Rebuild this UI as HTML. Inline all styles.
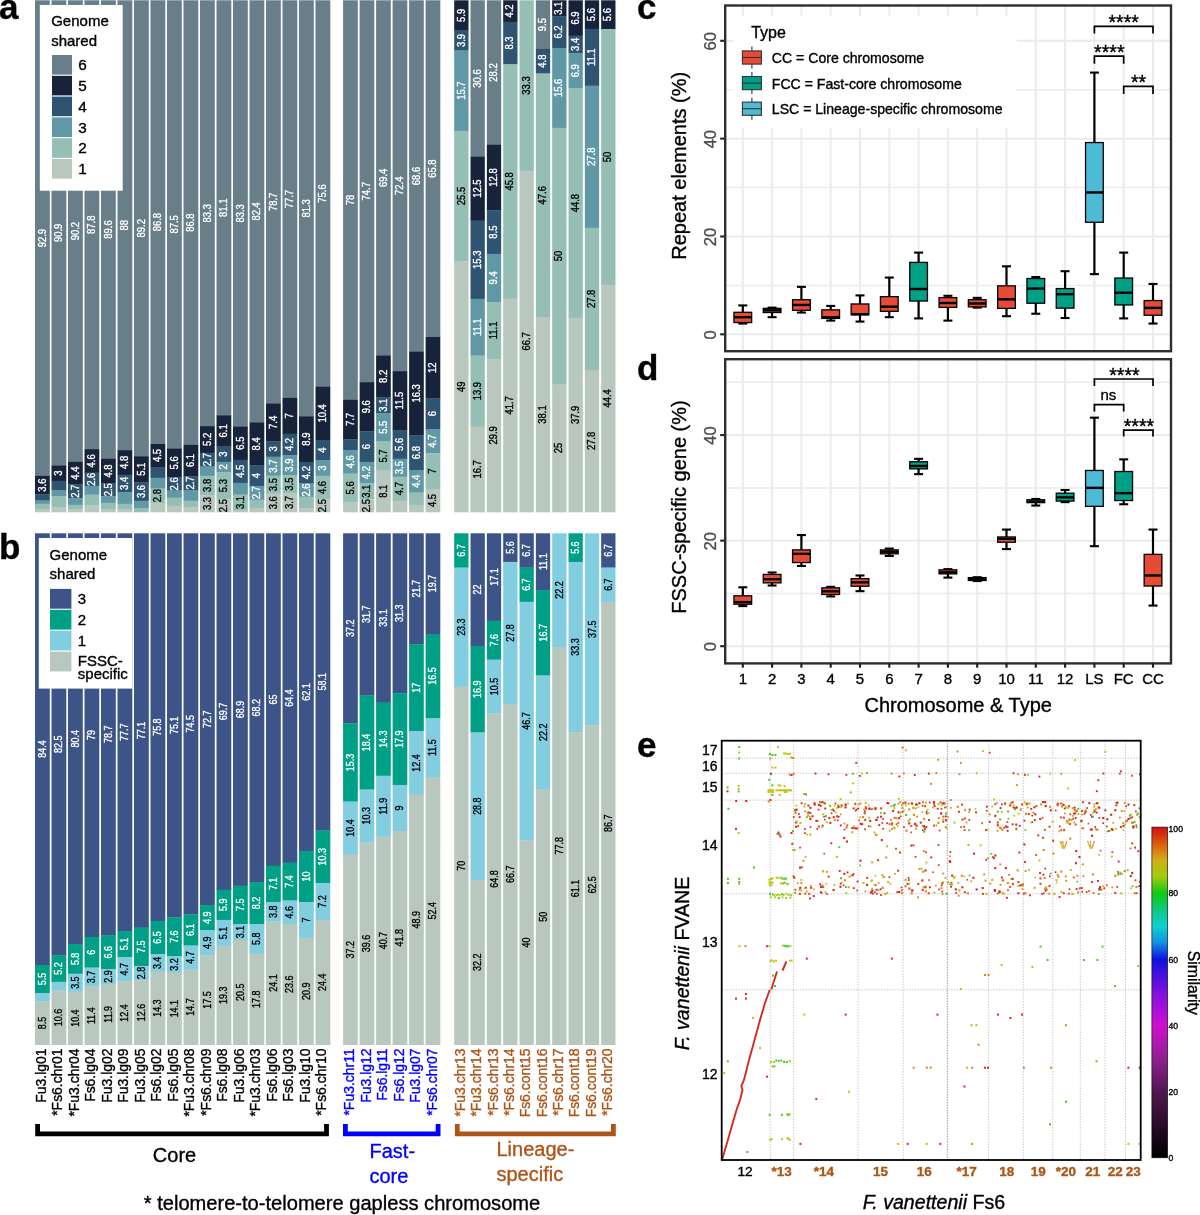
<!DOCTYPE html><html><head><meta charset="utf-8"><style>html,body{margin:0;padding:0;background:#fff;}svg{display:block;will-change:transform;}text{font-family:"Liberation Sans", sans-serif;}</style></head><body>
<svg width="1200" height="1215" viewBox="0 0 1200 1215">
<rect x="0" y="0" width="1200" height="1215" fill="#fff"/>
<rect x="35" y="0.3" width="14.8" height="475.91" fill="#687e89"/>
<rect x="35" y="475.91" width="14.8" height="18.73" fill="#16233a"/>
<rect x="35" y="494.34" width="14.8" height="6.44" fill="#2f5472"/>
<rect x="35" y="500.48" width="14.8" height="3.63" fill="#6198a6"/>
<rect x="35" y="503.81" width="14.8" height="5.42" fill="#95bfb4"/>
<rect x="35" y="508.93" width="14.8" height="3.37" fill="#b8c8be"/>
<rect x="51.5" y="0.3" width="14.8" height="465.44" fill="#687e89"/>
<rect x="51.5" y="465.44" width="14.8" height="15.65" fill="#16233a"/>
<rect x="51.5" y="480.79" width="14.8" height="9.51" fill="#2f5472"/>
<rect x="51.5" y="490" width="14.8" height="6.44" fill="#6198a6"/>
<rect x="51.5" y="496.14" width="14.8" height="11.05" fill="#95bfb4"/>
<rect x="51.5" y="506.88" width="14.8" height="5.42" fill="#b8c8be"/>
<rect x="68" y="0.3" width="14.8" height="461.85" fill="#687e89"/>
<rect x="68" y="461.85" width="14.8" height="22.81" fill="#16233a"/>
<rect x="68" y="484.37" width="14.8" height="14.12" fill="#2f5472"/>
<rect x="68" y="498.18" width="14.8" height="6.95" fill="#6198a6"/>
<rect x="68" y="504.84" width="14.8" height="4.39" fill="#95bfb4"/>
<rect x="68" y="508.93" width="14.8" height="3.37" fill="#b8c8be"/>
<rect x="84.5" y="0.3" width="14.8" height="449.12" fill="#687e89"/>
<rect x="84.5" y="449.12" width="14.8" height="23.81" fill="#16233a"/>
<rect x="84.5" y="472.64" width="14.8" height="13.59" fill="#2f5472"/>
<rect x="84.5" y="485.93" width="14.8" height="8.99" fill="#6198a6"/>
<rect x="84.5" y="494.62" width="14.8" height="10.52" fill="#95bfb4"/>
<rect x="84.5" y="504.84" width="14.8" height="7.46" fill="#b8c8be"/>
<rect x="101" y="0.3" width="14.8" height="458.78" fill="#687e89"/>
<rect x="101" y="458.78" width="14.8" height="24.86" fill="#16233a"/>
<rect x="101" y="483.34" width="14.8" height="13.09" fill="#2f5472"/>
<rect x="101" y="496.14" width="14.8" height="6.95" fill="#6198a6"/>
<rect x="101" y="502.79" width="14.8" height="6.44" fill="#95bfb4"/>
<rect x="101" y="508.93" width="14.8" height="3.37" fill="#b8c8be"/>
<rect x="117.5" y="0.3" width="14.8" height="450.15" fill="#687e89"/>
<rect x="117.5" y="450.15" width="14.8" height="24.84" fill="#16233a"/>
<rect x="117.5" y="474.68" width="14.8" height="17.68" fill="#2f5472"/>
<rect x="117.5" y="492.06" width="14.8" height="12.06" fill="#6198a6"/>
<rect x="117.5" y="503.82" width="14.8" height="5.41" fill="#95bfb4"/>
<rect x="117.5" y="508.93" width="14.8" height="3.37" fill="#b8c8be"/>
<rect x="134" y="0.3" width="14.8" height="456.28" fill="#687e89"/>
<rect x="134" y="456.28" width="14.8" height="26.37" fill="#16233a"/>
<rect x="134" y="482.35" width="14.8" height="18.7" fill="#2f5472"/>
<rect x="134" y="500.75" width="14.8" height="7.46" fill="#6198a6"/>
<rect x="134" y="507.91" width="14.8" height="4.39" fill="#95bfb4"/>
<rect x="150.5" y="0.3" width="14.8" height="444.01" fill="#687e89"/>
<rect x="150.5" y="444.01" width="14.8" height="23.3" fill="#16233a"/>
<rect x="150.5" y="467.02" width="14.8" height="11.03" fill="#2f5472"/>
<rect x="150.5" y="477.75" width="14.8" height="11.03" fill="#6198a6"/>
<rect x="150.5" y="488.49" width="14.8" height="14.61" fill="#95bfb4"/>
<rect x="150.5" y="502.8" width="14.8" height="9.5" fill="#b8c8be"/>
<rect x="167" y="0.3" width="14.8" height="448.49" fill="#687e89"/>
<rect x="167" y="448.49" width="14.8" height="28.98" fill="#16233a"/>
<rect x="167" y="477.17" width="14.8" height="13.62" fill="#2f5472"/>
<rect x="167" y="490.49" width="14.8" height="7.47" fill="#6198a6"/>
<rect x="167" y="497.66" width="14.8" height="8.5" fill="#95bfb4"/>
<rect x="167" y="505.85" width="14.8" height="6.45" fill="#b8c8be"/>
<rect x="183.5" y="0.3" width="14.8" height="444.9" fill="#687e89"/>
<rect x="183.5" y="444.9" width="14.8" height="31.54" fill="#16233a"/>
<rect x="183.5" y="476.15" width="14.8" height="14.13" fill="#2f5472"/>
<rect x="183.5" y="489.97" width="14.8" height="11.06" fill="#6198a6"/>
<rect x="183.5" y="500.73" width="14.8" height="6.45" fill="#95bfb4"/>
<rect x="183.5" y="506.88" width="14.8" height="5.42" fill="#b8c8be"/>
<rect x="200" y="0.3" width="14.8" height="426.12" fill="#687e89"/>
<rect x="200" y="426.12" width="14.8" height="26.88" fill="#16233a"/>
<rect x="200" y="452.7" width="14.8" height="14.1" fill="#2f5472"/>
<rect x="200" y="466.5" width="14.8" height="9.5" fill="#6198a6"/>
<rect x="200" y="475.71" width="14.8" height="19.73" fill="#95bfb4"/>
<rect x="200" y="495.13" width="14.8" height="17.17" fill="#b8c8be"/>
<rect x="216.5" y="0.3" width="14.8" height="415.29" fill="#687e89"/>
<rect x="216.5" y="415.29" width="14.8" height="31.51" fill="#16233a"/>
<rect x="216.5" y="446.5" width="14.8" height="15.65" fill="#2f5472"/>
<rect x="216.5" y="461.85" width="14.8" height="10.53" fill="#6198a6"/>
<rect x="216.5" y="472.09" width="14.8" height="27.42" fill="#95bfb4"/>
<rect x="216.5" y="499.21" width="14.8" height="13.09" fill="#b8c8be"/>
<rect x="233" y="0.3" width="14.8" height="426.55" fill="#687e89"/>
<rect x="233" y="426.55" width="14.8" height="33.56" fill="#16233a"/>
<rect x="233" y="459.81" width="14.8" height="23.33" fill="#2f5472"/>
<rect x="233" y="482.83" width="14.8" height="12.07" fill="#6198a6"/>
<rect x="233" y="494.6" width="14.8" height="16.16" fill="#95bfb4"/>
<rect x="233" y="510.46" width="14.8" height="1.84" fill="#b8c8be"/>
<rect x="249.5" y="0.3" width="14.8" height="422.36" fill="#687e89"/>
<rect x="249.5" y="422.36" width="14.8" height="43.33" fill="#16233a"/>
<rect x="249.5" y="465.39" width="14.8" height="20.79" fill="#2f5472"/>
<rect x="249.5" y="485.88" width="14.8" height="14.13" fill="#6198a6"/>
<rect x="249.5" y="499.71" width="14.8" height="8.5" fill="#95bfb4"/>
<rect x="249.5" y="507.9" width="14.8" height="4.4" fill="#b8c8be"/>
<rect x="266" y="0.3" width="14.8" height="403.41" fill="#687e89"/>
<rect x="266" y="403.41" width="14.8" height="38.2" fill="#16233a"/>
<rect x="266" y="441.31" width="14.8" height="15.67" fill="#2f5472"/>
<rect x="266" y="456.68" width="14.8" height="19.25" fill="#6198a6"/>
<rect x="266" y="475.63" width="14.8" height="18.23" fill="#95bfb4"/>
<rect x="266" y="493.56" width="14.8" height="18.74" fill="#b8c8be"/>
<rect x="282.5" y="0.3" width="14.8" height="397.89" fill="#687e89"/>
<rect x="282.5" y="397.89" width="14.8" height="36.12" fill="#16233a"/>
<rect x="282.5" y="433.71" width="14.8" height="21.79" fill="#2f5472"/>
<rect x="282.5" y="455.2" width="14.8" height="20.26" fill="#6198a6"/>
<rect x="282.5" y="475.16" width="14.8" height="18.21" fill="#95bfb4"/>
<rect x="282.5" y="493.07" width="14.8" height="19.23" fill="#b8c8be"/>
<rect x="299" y="0.3" width="14.8" height="416.31" fill="#687e89"/>
<rect x="299" y="416.31" width="14.8" height="45.84" fill="#16233a"/>
<rect x="299" y="461.85" width="14.8" height="21.79" fill="#2f5472"/>
<rect x="299" y="483.34" width="14.8" height="13.6" fill="#6198a6"/>
<rect x="299" y="496.65" width="14.8" height="12.07" fill="#95bfb4"/>
<rect x="299" y="508.42" width="14.8" height="3.88" fill="#b8c8be"/>
<rect x="315.5" y="0.3" width="14.8" height="386.76" fill="#687e89"/>
<rect x="315.5" y="386.76" width="14.8" height="53.46" fill="#16233a"/>
<rect x="315.5" y="439.92" width="14.8" height="20.75" fill="#2f5472"/>
<rect x="315.5" y="460.37" width="14.8" height="15.64" fill="#6198a6"/>
<rect x="315.5" y="475.71" width="14.8" height="23.81" fill="#95bfb4"/>
<rect x="315.5" y="499.22" width="14.8" height="13.08" fill="#b8c8be"/>
<rect x="343.1" y="0.3" width="14.7" height="399.83" fill="#687e89"/>
<rect x="343.1" y="399.83" width="14.7" height="39.74" fill="#16233a"/>
<rect x="343.1" y="439.27" width="14.7" height="11.06" fill="#2f5472"/>
<rect x="343.1" y="450.02" width="14.7" height="23.86" fill="#6198a6"/>
<rect x="343.1" y="473.58" width="14.7" height="28.98" fill="#95bfb4"/>
<rect x="343.1" y="502.27" width="14.7" height="10.03" fill="#b8c8be"/>
<rect x="359.6" y="0.3" width="14.7" height="382.16" fill="#687e89"/>
<rect x="359.6" y="382.16" width="14.7" height="49.37" fill="#16233a"/>
<rect x="359.6" y="431.23" width="14.7" height="30.97" fill="#2f5472"/>
<rect x="359.6" y="461.9" width="14.7" height="21.77" fill="#6198a6"/>
<rect x="359.6" y="483.37" width="14.7" height="16.15" fill="#95bfb4"/>
<rect x="359.6" y="499.22" width="14.7" height="13.08" fill="#b8c8be"/>
<rect x="376.1" y="0.3" width="14.7" height="355.42" fill="#687e89"/>
<rect x="376.1" y="355.42" width="14.7" height="42.26" fill="#16233a"/>
<rect x="376.1" y="397.38" width="14.7" height="16.16" fill="#2f5472"/>
<rect x="376.1" y="413.24" width="14.7" height="28.44" fill="#6198a6"/>
<rect x="376.1" y="441.39" width="14.7" height="29.47" fill="#95bfb4"/>
<rect x="376.1" y="470.55" width="14.7" height="41.75" fill="#b8c8be"/>
<rect x="392.6" y="0.3" width="14.7" height="371.14" fill="#687e89"/>
<rect x="392.6" y="371.14" width="14.7" height="59.2" fill="#16233a"/>
<rect x="392.6" y="430.05" width="14.7" height="28.98" fill="#2f5472"/>
<rect x="392.6" y="458.73" width="14.7" height="18.23" fill="#6198a6"/>
<rect x="392.6" y="476.66" width="14.7" height="24.37" fill="#95bfb4"/>
<rect x="392.6" y="500.73" width="14.7" height="11.57" fill="#b8c8be"/>
<rect x="409.1" y="0.3" width="14.7" height="351.68" fill="#687e89"/>
<rect x="409.1" y="351.68" width="14.7" height="83.79" fill="#16233a"/>
<rect x="409.1" y="435.17" width="14.7" height="35.13" fill="#2f5472"/>
<rect x="409.1" y="470" width="14.7" height="22.84" fill="#6198a6"/>
<rect x="409.1" y="492.54" width="14.7" height="12.59" fill="#95bfb4"/>
<rect x="409.1" y="504.83" width="14.7" height="7.47" fill="#b8c8be"/>
<rect x="425.6" y="0.3" width="14.7" height="337" fill="#687e89"/>
<rect x="425.6" y="337" width="14.7" height="61.7" fill="#16233a"/>
<rect x="425.6" y="398.4" width="14.7" height="31" fill="#2f5472"/>
<rect x="425.6" y="429.1" width="14.7" height="24.35" fill="#6198a6"/>
<rect x="425.6" y="453.15" width="14.7" height="36.12" fill="#95bfb4"/>
<rect x="425.6" y="488.97" width="14.7" height="23.33" fill="#b8c8be"/>
<rect x="454.2" y="0.3" width="14.3" height="30.49" fill="#16233a"/>
<rect x="454.2" y="30.49" width="14.3" height="20.26" fill="#2f5472"/>
<rect x="454.2" y="50.45" width="14.3" height="80.64" fill="#6198a6"/>
<rect x="454.2" y="130.78" width="14.3" height="130.78" fill="#95bfb4"/>
<rect x="454.2" y="261.27" width="14.3" height="251.03" fill="#b8c8be"/>
<rect x="470.53" y="0.3" width="14.3" height="156.72" fill="#687e89"/>
<rect x="470.53" y="156.72" width="14.3" height="64.2" fill="#16233a"/>
<rect x="470.53" y="220.62" width="14.3" height="78.51" fill="#2f5472"/>
<rect x="470.53" y="298.83" width="14.3" height="57.04" fill="#6198a6"/>
<rect x="470.53" y="355.58" width="14.3" height="71.36" fill="#95bfb4"/>
<rect x="470.53" y="426.63" width="14.3" height="85.67" fill="#b8c8be"/>
<rect x="486.86" y="0.3" width="14.3" height="144.74" fill="#687e89"/>
<rect x="486.86" y="144.74" width="14.3" height="65.86" fill="#16233a"/>
<rect x="486.86" y="210.31" width="14.3" height="43.84" fill="#2f5472"/>
<rect x="486.86" y="253.85" width="14.3" height="48.45" fill="#6198a6"/>
<rect x="486.86" y="301.99" width="14.3" height="57.16" fill="#95bfb4"/>
<rect x="486.86" y="358.85" width="14.3" height="153.45" fill="#b8c8be"/>
<rect x="503.19" y="0.3" width="14.3" height="21.79" fill="#16233a"/>
<rect x="503.19" y="21.79" width="14.3" height="42.77" fill="#2f5472"/>
<rect x="503.19" y="64.26" width="14.3" height="234.66" fill="#95bfb4"/>
<rect x="503.19" y="298.62" width="14.3" height="213.68" fill="#b8c8be"/>
<rect x="519.52" y="0.3" width="14.3" height="170.7" fill="#95bfb4"/>
<rect x="519.52" y="170.7" width="14.3" height="341.6" fill="#b8c8be"/>
<rect x="535.85" y="0.3" width="14.3" height="48.91" fill="#687e89"/>
<rect x="535.85" y="48.91" width="14.3" height="24.86" fill="#2f5472"/>
<rect x="535.85" y="73.47" width="14.3" height="243.87" fill="#95bfb4"/>
<rect x="535.85" y="317.04" width="14.3" height="195.26" fill="#b8c8be"/>
<rect x="552.18" y="0.3" width="14.3" height="16.18" fill="#16233a"/>
<rect x="552.18" y="16.18" width="14.3" height="32.06" fill="#2f5472"/>
<rect x="552.18" y="47.94" width="14.3" height="80.21" fill="#6198a6"/>
<rect x="552.18" y="127.84" width="14.3" height="256.41" fill="#95bfb4"/>
<rect x="552.18" y="383.95" width="14.3" height="128.35" fill="#b8c8be"/>
<rect x="568.51" y="0.3" width="14.3" height="35.64" fill="#16233a"/>
<rect x="568.51" y="35.64" width="14.3" height="17.72" fill="#2f5472"/>
<rect x="568.51" y="53.06" width="14.3" height="35.64" fill="#6198a6"/>
<rect x="568.51" y="88.4" width="14.3" height="229.77" fill="#95bfb4"/>
<rect x="568.51" y="317.87" width="14.3" height="194.43" fill="#b8c8be"/>
<rect x="584.84" y="0.3" width="14.3" height="28.93" fill="#16233a"/>
<rect x="584.84" y="28.93" width="14.3" height="57.04" fill="#2f5472"/>
<rect x="584.84" y="85.67" width="14.3" height="142.41" fill="#6198a6"/>
<rect x="584.84" y="227.78" width="14.3" height="142.41" fill="#95bfb4"/>
<rect x="584.84" y="369.89" width="14.3" height="142.41" fill="#b8c8be"/>
<rect x="601.17" y="0.3" width="14.3" height="28.96" fill="#16233a"/>
<rect x="601.17" y="28.96" width="14.3" height="256.15" fill="#95bfb4"/>
<rect x="601.17" y="284.81" width="14.3" height="227.49" fill="#b8c8be"/>
<text transform="translate(45.55,238.1) rotate(-90) scale(0.9,1)" font-size="10.5" fill="#fff" text-anchor="middle" stroke="#fff" stroke-width="0.35">92.9</text>
<text transform="translate(45.55,485.12) rotate(-90) scale(0.9,1)" font-size="10.5" fill="#fff" text-anchor="middle" stroke="#fff" stroke-width="0.35">3.6</text>
<text transform="translate(62.05,232.87) rotate(-90) scale(0.9,1)" font-size="10.5" fill="#fff" text-anchor="middle" stroke="#fff" stroke-width="0.35">90.9</text>
<text transform="translate(62.05,473.11) rotate(-90) scale(0.9,1)" font-size="10.5" fill="#fff" text-anchor="middle" stroke="#fff" stroke-width="0.35">3</text>
<text transform="translate(78.55,231.08) rotate(-90) scale(0.9,1)" font-size="10.5" fill="#fff" text-anchor="middle" stroke="#fff" stroke-width="0.35">90.2</text>
<text transform="translate(78.55,473.11) rotate(-90) scale(0.9,1)" font-size="10.5" fill="#fff" text-anchor="middle" stroke="#fff" stroke-width="0.35">4.4</text>
<text transform="translate(78.55,491.28) rotate(-90) scale(0.9,1)" font-size="10.5" fill="#fff" text-anchor="middle" stroke="#fff" stroke-width="0.35">2.7</text>
<text transform="translate(95.05,224.71) rotate(-90) scale(0.9,1)" font-size="10.5" fill="#fff" text-anchor="middle" stroke="#fff" stroke-width="0.35">87.8</text>
<text transform="translate(95.05,460.88) rotate(-90) scale(0.9,1)" font-size="10.5" fill="#fff" text-anchor="middle" stroke="#fff" stroke-width="0.35">4.6</text>
<text transform="translate(95.05,479.28) rotate(-90) scale(0.9,1)" font-size="10.5" fill="#fff" text-anchor="middle" stroke="#fff" stroke-width="0.35">2.6</text>
<text transform="translate(111.55,229.54) rotate(-90) scale(0.9,1)" font-size="10.5" fill="#fff" text-anchor="middle" stroke="#fff" stroke-width="0.35">89.6</text>
<text transform="translate(111.55,471.06) rotate(-90) scale(0.9,1)" font-size="10.5" fill="#fff" text-anchor="middle" stroke="#fff" stroke-width="0.35">4.8</text>
<text transform="translate(111.55,489.74) rotate(-90) scale(0.9,1)" font-size="10.5" fill="#fff" text-anchor="middle" stroke="#fff" stroke-width="0.35">2.5</text>
<text transform="translate(128.05,225.22) rotate(-90) scale(0.9,1)" font-size="10.5" fill="#fff" text-anchor="middle" stroke="#fff" stroke-width="0.35">88</text>
<text transform="translate(128.05,462.41) rotate(-90) scale(0.9,1)" font-size="10.5" fill="#fff" text-anchor="middle" stroke="#fff" stroke-width="0.35">4.8</text>
<text transform="translate(128.05,483.37) rotate(-90) scale(0.9,1)" font-size="10.5" fill="#fff" text-anchor="middle" stroke="#fff" stroke-width="0.35">3.4</text>
<text transform="translate(144.55,228.29) rotate(-90) scale(0.9,1)" font-size="10.5" fill="#fff" text-anchor="middle" stroke="#fff" stroke-width="0.35">89.2</text>
<text transform="translate(144.55,469.32) rotate(-90) scale(0.9,1)" font-size="10.5" fill="#fff" text-anchor="middle" stroke="#fff" stroke-width="0.35">5.1</text>
<text transform="translate(144.55,491.55) rotate(-90) scale(0.9,1)" font-size="10.5" fill="#fff" text-anchor="middle" stroke="#fff" stroke-width="0.35">3.6</text>
<text transform="translate(161.05,222.16) rotate(-90) scale(0.9,1)" font-size="10.5" fill="#fff" text-anchor="middle" stroke="#fff" stroke-width="0.35">86.8</text>
<text transform="translate(161.05,455.51) rotate(-90) scale(0.9,1)" font-size="10.5" fill="#fff" text-anchor="middle" stroke="#fff" stroke-width="0.35">4.5</text>
<text transform="translate(161.05,495.64) rotate(-90) scale(0.9,1)" font-size="10.5" fill="#000" text-anchor="middle" stroke="#000" stroke-width="0.35">2.8</text>
<text transform="translate(177.55,224.39) rotate(-90) scale(0.9,1)" font-size="10.5" fill="#fff" text-anchor="middle" stroke="#fff" stroke-width="0.35">87.5</text>
<text transform="translate(177.55,462.83) rotate(-90) scale(0.9,1)" font-size="10.5" fill="#fff" text-anchor="middle" stroke="#fff" stroke-width="0.35">5.6</text>
<text transform="translate(177.55,483.83) rotate(-90) scale(0.9,1)" font-size="10.5" fill="#fff" text-anchor="middle" stroke="#fff" stroke-width="0.35">2.6</text>
<text transform="translate(194.05,222.6) rotate(-90) scale(0.9,1)" font-size="10.5" fill="#fff" text-anchor="middle" stroke="#fff" stroke-width="0.35">86.8</text>
<text transform="translate(194.05,460.52) rotate(-90) scale(0.9,1)" font-size="10.5" fill="#fff" text-anchor="middle" stroke="#fff" stroke-width="0.35">6.1</text>
<text transform="translate(194.05,483.06) rotate(-90) scale(0.9,1)" font-size="10.5" fill="#fff" text-anchor="middle" stroke="#fff" stroke-width="0.35">2.7</text>
<text transform="translate(210.55,213.21) rotate(-90) scale(0.9,1)" font-size="10.5" fill="#fff" text-anchor="middle" stroke="#fff" stroke-width="0.35">83.3</text>
<text transform="translate(210.55,439.41) rotate(-90) scale(0.9,1)" font-size="10.5" fill="#fff" text-anchor="middle" stroke="#fff" stroke-width="0.35">5.2</text>
<text transform="translate(210.55,459.6) rotate(-90) scale(0.9,1)" font-size="10.5" fill="#fff" text-anchor="middle" stroke="#fff" stroke-width="0.35">2.7</text>
<text transform="translate(210.55,485.42) rotate(-90) scale(0.9,1)" font-size="10.5" fill="#000" text-anchor="middle" stroke="#000" stroke-width="0.35">3.8</text>
<text transform="translate(210.55,503.57) rotate(-90) scale(0.9,1)" font-size="10.5" fill="#000" text-anchor="middle" stroke="#000" stroke-width="0.35">3.3</text>
<text transform="translate(227.05,207.79) rotate(-90) scale(0.9,1)" font-size="10.5" fill="#fff" text-anchor="middle" stroke="#fff" stroke-width="0.35">81.1</text>
<text transform="translate(227.05,430.9) rotate(-90) scale(0.9,1)" font-size="10.5" fill="#fff" text-anchor="middle" stroke="#fff" stroke-width="0.35">6.1</text>
<text transform="translate(227.05,454.18) rotate(-90) scale(0.9,1)" font-size="10.5" fill="#fff" text-anchor="middle" stroke="#fff" stroke-width="0.35">3</text>
<text transform="translate(227.05,466.97) rotate(-90) scale(0.9,1)" font-size="10.5" fill="#fff" text-anchor="middle" stroke="#fff" stroke-width="0.35">2</text>
<text transform="translate(227.05,485.65) rotate(-90) scale(0.9,1)" font-size="10.5" fill="#000" text-anchor="middle" stroke="#000" stroke-width="0.35">5.3</text>
<text transform="translate(227.05,505.6) rotate(-90) scale(0.9,1)" font-size="10.5" fill="#000" text-anchor="middle" stroke="#000" stroke-width="0.35">2.5</text>
<text transform="translate(243.55,213.42) rotate(-90) scale(0.9,1)" font-size="10.5" fill="#fff" text-anchor="middle" stroke="#fff" stroke-width="0.35">83.3</text>
<text transform="translate(243.55,443.18) rotate(-90) scale(0.9,1)" font-size="10.5" fill="#fff" text-anchor="middle" stroke="#fff" stroke-width="0.35">6.5</text>
<text transform="translate(243.55,471.32) rotate(-90) scale(0.9,1)" font-size="10.5" fill="#fff" text-anchor="middle" stroke="#fff" stroke-width="0.35">4.5</text>
<text transform="translate(243.55,502.53) rotate(-90) scale(0.9,1)" font-size="10.5" fill="#000" text-anchor="middle" stroke="#000" stroke-width="0.35">3.1</text>
<text transform="translate(260.05,211.33) rotate(-90) scale(0.9,1)" font-size="10.5" fill="#fff" text-anchor="middle" stroke="#fff" stroke-width="0.35">82.4</text>
<text transform="translate(260.05,443.88) rotate(-90) scale(0.9,1)" font-size="10.5" fill="#fff" text-anchor="middle" stroke="#fff" stroke-width="0.35">8.4</text>
<text transform="translate(260.05,475.63) rotate(-90) scale(0.9,1)" font-size="10.5" fill="#fff" text-anchor="middle" stroke="#fff" stroke-width="0.35">4</text>
<text transform="translate(260.05,492.79) rotate(-90) scale(0.9,1)" font-size="10.5" fill="#fff" text-anchor="middle" stroke="#fff" stroke-width="0.35">2.7</text>
<text transform="translate(276.55,201.86) rotate(-90) scale(0.9,1)" font-size="10.5" fill="#fff" text-anchor="middle" stroke="#fff" stroke-width="0.35">78.7</text>
<text transform="translate(276.55,422.36) rotate(-90) scale(0.9,1)" font-size="10.5" fill="#fff" text-anchor="middle" stroke="#fff" stroke-width="0.35">7.4</text>
<text transform="translate(276.55,449) rotate(-90) scale(0.9,1)" font-size="10.5" fill="#fff" text-anchor="middle" stroke="#fff" stroke-width="0.35">3</text>
<text transform="translate(276.55,466.16) rotate(-90) scale(0.9,1)" font-size="10.5" fill="#fff" text-anchor="middle" stroke="#fff" stroke-width="0.35">3.7</text>
<text transform="translate(276.55,484.6) rotate(-90) scale(0.9,1)" font-size="10.5" fill="#000" text-anchor="middle" stroke="#000" stroke-width="0.35">3.5</text>
<text transform="translate(276.55,502.78) rotate(-90) scale(0.9,1)" font-size="10.5" fill="#000" text-anchor="middle" stroke="#000" stroke-width="0.35">3.6</text>
<text transform="translate(293.05,199.1) rotate(-90) scale(0.9,1)" font-size="10.5" fill="#fff" text-anchor="middle" stroke="#fff" stroke-width="0.35">77.7</text>
<text transform="translate(293.05,415.8) rotate(-90) scale(0.9,1)" font-size="10.5" fill="#fff" text-anchor="middle" stroke="#fff" stroke-width="0.35">7</text>
<text transform="translate(293.05,444.46) rotate(-90) scale(0.9,1)" font-size="10.5" fill="#fff" text-anchor="middle" stroke="#fff" stroke-width="0.35">4.2</text>
<text transform="translate(293.05,465.18) rotate(-90) scale(0.9,1)" font-size="10.5" fill="#fff" text-anchor="middle" stroke="#fff" stroke-width="0.35">3.9</text>
<text transform="translate(293.05,484.11) rotate(-90) scale(0.9,1)" font-size="10.5" fill="#000" text-anchor="middle" stroke="#000" stroke-width="0.35">3.5</text>
<text transform="translate(293.05,502.53) rotate(-90) scale(0.9,1)" font-size="10.5" fill="#000" text-anchor="middle" stroke="#000" stroke-width="0.35">3.7</text>
<text transform="translate(309.55,208.31) rotate(-90) scale(0.9,1)" font-size="10.5" fill="#fff" text-anchor="middle" stroke="#fff" stroke-width="0.35">81.3</text>
<text transform="translate(309.55,439.08) rotate(-90) scale(0.9,1)" font-size="10.5" fill="#fff" text-anchor="middle" stroke="#fff" stroke-width="0.35">8.9</text>
<text transform="translate(309.55,472.6) rotate(-90) scale(0.9,1)" font-size="10.5" fill="#fff" text-anchor="middle" stroke="#fff" stroke-width="0.35">4.2</text>
<text transform="translate(309.55,490) rotate(-90) scale(0.9,1)" font-size="10.5" fill="#fff" text-anchor="middle" stroke="#fff" stroke-width="0.35">2.6</text>
<text transform="translate(326.05,193.53) rotate(-90) scale(0.9,1)" font-size="10.5" fill="#fff" text-anchor="middle" stroke="#fff" stroke-width="0.35">75.6</text>
<text transform="translate(326.05,413.34) rotate(-90) scale(0.9,1)" font-size="10.5" fill="#fff" text-anchor="middle" stroke="#fff" stroke-width="0.35">10.4</text>
<text transform="translate(326.05,450.15) rotate(-90) scale(0.9,1)" font-size="10.5" fill="#fff" text-anchor="middle" stroke="#fff" stroke-width="0.35">4</text>
<text transform="translate(326.05,468.04) rotate(-90) scale(0.9,1)" font-size="10.5" fill="#fff" text-anchor="middle" stroke="#fff" stroke-width="0.35">3</text>
<text transform="translate(326.05,487.46) rotate(-90) scale(0.9,1)" font-size="10.5" fill="#000" text-anchor="middle" stroke="#000" stroke-width="0.35">4.6</text>
<text transform="translate(326.05,505.61) rotate(-90) scale(0.9,1)" font-size="10.5" fill="#000" text-anchor="middle" stroke="#000" stroke-width="0.35">2.5</text>
<text transform="translate(353.6,200.06) rotate(-90) scale(0.9,1)" font-size="10.5" fill="#fff" text-anchor="middle" stroke="#fff" stroke-width="0.35">78</text>
<text transform="translate(353.6,419.55) rotate(-90) scale(0.9,1)" font-size="10.5" fill="#fff" text-anchor="middle" stroke="#fff" stroke-width="0.35">7.7</text>
<text transform="translate(353.6,461.8) rotate(-90) scale(0.9,1)" font-size="10.5" fill="#fff" text-anchor="middle" stroke="#fff" stroke-width="0.35">4.6</text>
<text transform="translate(353.6,487.93) rotate(-90) scale(0.9,1)" font-size="10.5" fill="#000" text-anchor="middle" stroke="#000" stroke-width="0.35">5.6</text>
<text transform="translate(370.1,191.23) rotate(-90) scale(0.9,1)" font-size="10.5" fill="#fff" text-anchor="middle" stroke="#fff" stroke-width="0.35">74.7</text>
<text transform="translate(370.1,406.7) rotate(-90) scale(0.9,1)" font-size="10.5" fill="#fff" text-anchor="middle" stroke="#fff" stroke-width="0.35">9.6</text>
<text transform="translate(370.1,446.57) rotate(-90) scale(0.9,1)" font-size="10.5" fill="#fff" text-anchor="middle" stroke="#fff" stroke-width="0.35">6</text>
<text transform="translate(370.1,472.64) rotate(-90) scale(0.9,1)" font-size="10.5" fill="#fff" text-anchor="middle" stroke="#fff" stroke-width="0.35">4.2</text>
<text transform="translate(370.1,491.3) rotate(-90) scale(0.9,1)" font-size="10.5" fill="#000" text-anchor="middle" stroke="#000" stroke-width="0.35">3.1</text>
<text transform="translate(370.1,505.61) rotate(-90) scale(0.9,1)" font-size="10.5" fill="#000" text-anchor="middle" stroke="#000" stroke-width="0.35">2.5</text>
<text transform="translate(386.6,177.86) rotate(-90) scale(0.9,1)" font-size="10.5" fill="#fff" text-anchor="middle" stroke="#fff" stroke-width="0.35">69.4</text>
<text transform="translate(386.6,376.4) rotate(-90) scale(0.9,1)" font-size="10.5" fill="#fff" text-anchor="middle" stroke="#fff" stroke-width="0.35">8.2</text>
<text transform="translate(386.6,405.31) rotate(-90) scale(0.9,1)" font-size="10.5" fill="#fff" text-anchor="middle" stroke="#fff" stroke-width="0.35">3.1</text>
<text transform="translate(386.6,427.31) rotate(-90) scale(0.9,1)" font-size="10.5" fill="#fff" text-anchor="middle" stroke="#fff" stroke-width="0.35">5.5</text>
<text transform="translate(386.6,455.97) rotate(-90) scale(0.9,1)" font-size="10.5" fill="#000" text-anchor="middle" stroke="#000" stroke-width="0.35">5.7</text>
<text transform="translate(386.6,491.28) rotate(-90) scale(0.9,1)" font-size="10.5" fill="#000" text-anchor="middle" stroke="#000" stroke-width="0.35">8.1</text>
<text transform="translate(403.1,185.72) rotate(-90) scale(0.9,1)" font-size="10.5" fill="#fff" text-anchor="middle" stroke="#fff" stroke-width="0.35">72.4</text>
<text transform="translate(403.1,400.59) rotate(-90) scale(0.9,1)" font-size="10.5" fill="#fff" text-anchor="middle" stroke="#fff" stroke-width="0.35">11.5</text>
<text transform="translate(403.1,444.39) rotate(-90) scale(0.9,1)" font-size="10.5" fill="#fff" text-anchor="middle" stroke="#fff" stroke-width="0.35">5.6</text>
<text transform="translate(403.1,467.69) rotate(-90) scale(0.9,1)" font-size="10.5" fill="#fff" text-anchor="middle" stroke="#fff" stroke-width="0.35">3.5</text>
<text transform="translate(403.1,488.69) rotate(-90) scale(0.9,1)" font-size="10.5" fill="#000" text-anchor="middle" stroke="#000" stroke-width="0.35">4.7</text>
<text transform="translate(419.6,175.99) rotate(-90) scale(0.9,1)" font-size="10.5" fill="#fff" text-anchor="middle" stroke="#fff" stroke-width="0.35">68.6</text>
<text transform="translate(419.6,393.42) rotate(-90) scale(0.9,1)" font-size="10.5" fill="#fff" text-anchor="middle" stroke="#fff" stroke-width="0.35">16.3</text>
<text transform="translate(419.6,452.58) rotate(-90) scale(0.9,1)" font-size="10.5" fill="#fff" text-anchor="middle" stroke="#fff" stroke-width="0.35">6.8</text>
<text transform="translate(419.6,481.27) rotate(-90) scale(0.9,1)" font-size="10.5" fill="#fff" text-anchor="middle" stroke="#fff" stroke-width="0.35">4.4</text>
<text transform="translate(436.1,168.65) rotate(-90) scale(0.9,1)" font-size="10.5" fill="#fff" text-anchor="middle" stroke="#fff" stroke-width="0.35">65.8</text>
<text transform="translate(436.1,367.7) rotate(-90) scale(0.9,1)" font-size="10.5" fill="#fff" text-anchor="middle" stroke="#fff" stroke-width="0.35">12</text>
<text transform="translate(436.1,413.75) rotate(-90) scale(0.9,1)" font-size="10.5" fill="#fff" text-anchor="middle" stroke="#fff" stroke-width="0.35">6</text>
<text transform="translate(436.1,441.13) rotate(-90) scale(0.9,1)" font-size="10.5" fill="#fff" text-anchor="middle" stroke="#fff" stroke-width="0.35">4.7</text>
<text transform="translate(436.1,471.06) rotate(-90) scale(0.9,1)" font-size="10.5" fill="#000" text-anchor="middle" stroke="#000" stroke-width="0.35">7</text>
<text transform="translate(436.1,500.49) rotate(-90) scale(0.9,1)" font-size="10.5" fill="#000" text-anchor="middle" stroke="#000" stroke-width="0.35">4.5</text>
<text transform="translate(464.5,15.4) rotate(-90) scale(0.9,1)" font-size="10.5" fill="#fff" text-anchor="middle" stroke="#fff" stroke-width="0.35">5.9</text>
<text transform="translate(464.5,40.47) rotate(-90) scale(0.9,1)" font-size="10.5" fill="#fff" text-anchor="middle" stroke="#fff" stroke-width="0.35">3.9</text>
<text transform="translate(464.5,90.62) rotate(-90) scale(0.9,1)" font-size="10.5" fill="#fff" text-anchor="middle" stroke="#fff" stroke-width="0.35">15.7</text>
<text transform="translate(464.5,196.03) rotate(-90) scale(0.9,1)" font-size="10.5" fill="#000" text-anchor="middle" stroke="#000" stroke-width="0.35">25.5</text>
<text transform="translate(464.5,386.63) rotate(-90) scale(0.9,1)" font-size="10.5" fill="#000" text-anchor="middle" stroke="#000" stroke-width="0.35">49</text>
<text transform="translate(480.83,78.51) rotate(-90) scale(0.9,1)" font-size="10.5" fill="#fff" text-anchor="middle" stroke="#fff" stroke-width="0.35">30.6</text>
<text transform="translate(480.83,188.67) rotate(-90) scale(0.9,1)" font-size="10.5" fill="#fff" text-anchor="middle" stroke="#fff" stroke-width="0.35">12.5</text>
<text transform="translate(480.83,259.73) rotate(-90) scale(0.9,1)" font-size="10.5" fill="#fff" text-anchor="middle" stroke="#fff" stroke-width="0.35">15.3</text>
<text transform="translate(480.83,327.21) rotate(-90) scale(0.9,1)" font-size="10.5" fill="#fff" text-anchor="middle" stroke="#fff" stroke-width="0.35">11.1</text>
<text transform="translate(480.83,391.1) rotate(-90) scale(0.9,1)" font-size="10.5" fill="#000" text-anchor="middle" stroke="#000" stroke-width="0.35">13.9</text>
<text transform="translate(480.83,469.32) rotate(-90) scale(0.9,1)" font-size="10.5" fill="#000" text-anchor="middle" stroke="#000" stroke-width="0.35">16.7</text>
<text transform="translate(497.16,72.52) rotate(-90) scale(0.9,1)" font-size="10.5" fill="#fff" text-anchor="middle" stroke="#fff" stroke-width="0.35">28.2</text>
<text transform="translate(497.16,177.53) rotate(-90) scale(0.9,1)" font-size="10.5" fill="#fff" text-anchor="middle" stroke="#fff" stroke-width="0.35">12.8</text>
<text transform="translate(497.16,232.08) rotate(-90) scale(0.9,1)" font-size="10.5" fill="#fff" text-anchor="middle" stroke="#fff" stroke-width="0.35">8.5</text>
<text transform="translate(497.16,277.92) rotate(-90) scale(0.9,1)" font-size="10.5" fill="#fff" text-anchor="middle" stroke="#fff" stroke-width="0.35">9.4</text>
<text transform="translate(497.16,330.42) rotate(-90) scale(0.9,1)" font-size="10.5" fill="#000" text-anchor="middle" stroke="#000" stroke-width="0.35">11.1</text>
<text transform="translate(497.16,435.42) rotate(-90) scale(0.9,1)" font-size="10.5" fill="#000" text-anchor="middle" stroke="#000" stroke-width="0.35">29.9</text>
<text transform="translate(513.49,11.05) rotate(-90) scale(0.9,1)" font-size="10.5" fill="#fff" text-anchor="middle" stroke="#fff" stroke-width="0.35">4.2</text>
<text transform="translate(513.49,43.03) rotate(-90) scale(0.9,1)" font-size="10.5" fill="#fff" text-anchor="middle" stroke="#fff" stroke-width="0.35">8.3</text>
<text transform="translate(513.49,181.44) rotate(-90) scale(0.9,1)" font-size="10.5" fill="#000" text-anchor="middle" stroke="#000" stroke-width="0.35">45.8</text>
<text transform="translate(513.49,405.31) rotate(-90) scale(0.9,1)" font-size="10.5" fill="#000" text-anchor="middle" stroke="#000" stroke-width="0.35">41.7</text>
<text transform="translate(529.82,85.5) rotate(-90) scale(0.9,1)" font-size="10.5" fill="#000" text-anchor="middle" stroke="#000" stroke-width="0.35">33.3</text>
<text transform="translate(529.82,341.35) rotate(-90) scale(0.9,1)" font-size="10.5" fill="#000" text-anchor="middle" stroke="#000" stroke-width="0.35">66.7</text>
<text transform="translate(546.15,24.61) rotate(-90) scale(0.9,1)" font-size="10.5" fill="#fff" text-anchor="middle" stroke="#fff" stroke-width="0.35">9.5</text>
<text transform="translate(546.15,61.19) rotate(-90) scale(0.9,1)" font-size="10.5" fill="#fff" text-anchor="middle" stroke="#fff" stroke-width="0.35">4.8</text>
<text transform="translate(546.15,195.26) rotate(-90) scale(0.9,1)" font-size="10.5" fill="#000" text-anchor="middle" stroke="#000" stroke-width="0.35">47.6</text>
<text transform="translate(546.15,414.52) rotate(-90) scale(0.9,1)" font-size="10.5" fill="#000" text-anchor="middle" stroke="#000" stroke-width="0.35">38.1</text>
<text transform="translate(562.48,8.24) rotate(-90) scale(0.9,1)" font-size="10.5" fill="#fff" text-anchor="middle" stroke="#fff" stroke-width="0.35">3.1</text>
<text transform="translate(562.48,32.06) rotate(-90) scale(0.9,1)" font-size="10.5" fill="#fff" text-anchor="middle" stroke="#fff" stroke-width="0.35">6.2</text>
<text transform="translate(562.48,87.89) rotate(-90) scale(0.9,1)" font-size="10.5" fill="#fff" text-anchor="middle" stroke="#fff" stroke-width="0.35">15.6</text>
<text transform="translate(562.48,255.89) rotate(-90) scale(0.9,1)" font-size="10.5" fill="#000" text-anchor="middle" stroke="#000" stroke-width="0.35">50</text>
<text transform="translate(562.48,447.97) rotate(-90) scale(0.9,1)" font-size="10.5" fill="#000" text-anchor="middle" stroke="#000" stroke-width="0.35">25</text>
<text transform="translate(578.81,17.97) rotate(-90) scale(0.9,1)" font-size="10.5" fill="#fff" text-anchor="middle" stroke="#fff" stroke-width="0.35">6.9</text>
<text transform="translate(578.81,44.35) rotate(-90) scale(0.9,1)" font-size="10.5" fill="#fff" text-anchor="middle" stroke="#fff" stroke-width="0.35">3.4</text>
<text transform="translate(578.81,70.73) rotate(-90) scale(0.9,1)" font-size="10.5" fill="#fff" text-anchor="middle" stroke="#fff" stroke-width="0.35">6.9</text>
<text transform="translate(578.81,203.14) rotate(-90) scale(0.9,1)" font-size="10.5" fill="#000" text-anchor="middle" stroke="#000" stroke-width="0.35">44.8</text>
<text transform="translate(578.81,414.94) rotate(-90) scale(0.9,1)" font-size="10.5" fill="#000" text-anchor="middle" stroke="#000" stroke-width="0.35">37.9</text>
<text transform="translate(595.14,14.61) rotate(-90) scale(0.9,1)" font-size="10.5" fill="#fff" text-anchor="middle" stroke="#fff" stroke-width="0.35">5.6</text>
<text transform="translate(595.14,57.3) rotate(-90) scale(0.9,1)" font-size="10.5" fill="#fff" text-anchor="middle" stroke="#fff" stroke-width="0.35">11.1</text>
<text transform="translate(595.14,156.72) rotate(-90) scale(0.9,1)" font-size="10.5" fill="#fff" text-anchor="middle" stroke="#fff" stroke-width="0.35">27.8</text>
<text transform="translate(595.14,298.83) rotate(-90) scale(0.9,1)" font-size="10.5" fill="#000" text-anchor="middle" stroke="#000" stroke-width="0.35">27.8</text>
<text transform="translate(595.14,440.94) rotate(-90) scale(0.9,1)" font-size="10.5" fill="#000" text-anchor="middle" stroke="#000" stroke-width="0.35">27.8</text>
<text transform="translate(611.47,14.63) rotate(-90) scale(0.9,1)" font-size="10.5" fill="#fff" text-anchor="middle" stroke="#fff" stroke-width="0.35">5.6</text>
<text transform="translate(611.47,156.88) rotate(-90) scale(0.9,1)" font-size="10.5" fill="#000" text-anchor="middle" stroke="#000" stroke-width="0.35">50</text>
<text transform="translate(611.47,398.4) rotate(-90) scale(0.9,1)" font-size="10.5" fill="#000" text-anchor="middle" stroke="#000" stroke-width="0.35">44.4</text>
<rect x="39.8" y="5" width="82.9" height="185.7" fill="#fff"/>
<text x="51.2" y="26.3" font-size="15" stroke="#000" stroke-width="0.35">Genome</text>
<text x="51.2" y="45.5" font-size="15" stroke="#000" stroke-width="0.35">shared</text>
<rect x="52" y="55" width="20" height="19.6" fill="#687e89"/>
<text x="78.3" y="70.2" font-size="15.3" stroke="#000" stroke-width="0.35">6</text>
<rect x="52" y="75.8" width="20" height="19.6" fill="#16233a"/>
<text x="78.3" y="91" font-size="15.3" stroke="#000" stroke-width="0.35">5</text>
<rect x="52" y="96.6" width="20" height="19.6" fill="#2f5472"/>
<text x="78.3" y="111.8" font-size="15.3" stroke="#000" stroke-width="0.35">4</text>
<rect x="52" y="117.4" width="20" height="19.6" fill="#6198a6"/>
<text x="78.3" y="132.6" font-size="15.3" stroke="#000" stroke-width="0.35">3</text>
<rect x="52" y="138.2" width="20" height="19.6" fill="#95bfb4"/>
<text x="78.3" y="153.4" font-size="15.3" stroke="#000" stroke-width="0.35">2</text>
<rect x="52" y="159" width="20" height="19.6" fill="#b8c8be"/>
<text x="78.3" y="174.2" font-size="15.3" stroke="#000" stroke-width="0.35">1</text>
<text x="-1" y="18.8" font-size="35" font-weight="bold" stroke="#000" stroke-width="0.35">a</text>
<rect x="35" y="533.3" width="14.8" height="431.92" fill="#3c5488"/>
<rect x="35" y="964.92" width="14.8" height="28.43" fill="#00a087"/>
<rect x="35" y="993.05" width="14.8" height="8.48" fill="#82cde0"/>
<rect x="35" y="1001.23" width="14.8" height="43.77" fill="#b8c8be"/>
<rect x="51.5" y="533.3" width="14.8" height="422.21" fill="#3c5488"/>
<rect x="51.5" y="955.2" width="14.8" height="26.89" fill="#00a087"/>
<rect x="51.5" y="981.8" width="14.8" height="8.99" fill="#82cde0"/>
<rect x="51.5" y="990.49" width="14.8" height="54.51" fill="#b8c8be"/>
<rect x="68" y="533.3" width="14.8" height="411.05" fill="#3c5488"/>
<rect x="68" y="944.05" width="14.8" height="29.93" fill="#00a087"/>
<rect x="68" y="973.69" width="14.8" height="18.18" fill="#82cde0"/>
<rect x="68" y="991.57" width="14.8" height="53.43" fill="#b8c8be"/>
<rect x="84.5" y="533.3" width="14.8" height="403.9" fill="#3c5488"/>
<rect x="84.5" y="936.9" width="14.8" height="30.95" fill="#00a087"/>
<rect x="84.5" y="967.56" width="14.8" height="19.2" fill="#82cde0"/>
<rect x="84.5" y="986.46" width="14.8" height="58.54" fill="#b8c8be"/>
<rect x="101" y="533.3" width="14.8" height="402.37" fill="#3c5488"/>
<rect x="101" y="935.37" width="14.8" height="34.02" fill="#00a087"/>
<rect x="101" y="969.09" width="14.8" height="15.12" fill="#82cde0"/>
<rect x="101" y="983.9" width="14.8" height="61.1" fill="#b8c8be"/>
<rect x="117.5" y="533.3" width="14.8" height="398.06" fill="#3c5488"/>
<rect x="117.5" y="931.06" width="14.8" height="26.41" fill="#00a087"/>
<rect x="117.5" y="957.16" width="14.8" height="24.36" fill="#82cde0"/>
<rect x="117.5" y="981.22" width="14.8" height="63.78" fill="#b8c8be"/>
<rect x="134" y="533.3" width="14.8" height="394.59" fill="#3c5488"/>
<rect x="134" y="927.59" width="14.8" height="38.66" fill="#00a087"/>
<rect x="134" y="965.94" width="14.8" height="14.62" fill="#82cde0"/>
<rect x="134" y="980.26" width="14.8" height="64.74" fill="#b8c8be"/>
<rect x="150.5" y="533.3" width="14.8" height="387.94" fill="#3c5488"/>
<rect x="150.5" y="920.94" width="14.8" height="33.54" fill="#00a087"/>
<rect x="150.5" y="954.18" width="14.8" height="17.69" fill="#82cde0"/>
<rect x="150.5" y="971.57" width="14.8" height="73.43" fill="#b8c8be"/>
<rect x="167" y="533.3" width="14.8" height="384.36" fill="#3c5488"/>
<rect x="167" y="917.36" width="14.8" height="39.17" fill="#00a087"/>
<rect x="167" y="956.23" width="14.8" height="16.66" fill="#82cde0"/>
<rect x="167" y="972.59" width="14.8" height="72.41" fill="#b8c8be"/>
<rect x="183.5" y="533.3" width="14.8" height="381.29" fill="#3c5488"/>
<rect x="183.5" y="914.29" width="14.8" height="31.5" fill="#00a087"/>
<rect x="183.5" y="945.49" width="14.8" height="24.34" fill="#82cde0"/>
<rect x="183.5" y="969.52" width="14.8" height="75.48" fill="#b8c8be"/>
<rect x="200" y="533.3" width="14.8" height="372.09" fill="#3c5488"/>
<rect x="200" y="905.09" width="14.8" height="25.36" fill="#00a087"/>
<rect x="200" y="930.15" width="14.8" height="25.36" fill="#82cde0"/>
<rect x="200" y="955.2" width="14.8" height="89.8" fill="#b8c8be"/>
<rect x="216.5" y="533.3" width="14.8" height="356.75" fill="#3c5488"/>
<rect x="216.5" y="889.75" width="14.8" height="30.47" fill="#00a087"/>
<rect x="216.5" y="919.92" width="14.8" height="26.38" fill="#82cde0"/>
<rect x="216.5" y="946" width="14.8" height="99" fill="#b8c8be"/>
<rect x="233" y="533.3" width="14.8" height="352.65" fill="#3c5488"/>
<rect x="233" y="885.65" width="14.8" height="38.66" fill="#00a087"/>
<rect x="233" y="924.01" width="14.8" height="16.15" fill="#82cde0"/>
<rect x="233" y="939.86" width="14.8" height="105.14" fill="#b8c8be"/>
<rect x="249.5" y="533.3" width="14.8" height="349.07" fill="#3c5488"/>
<rect x="249.5" y="882.07" width="14.8" height="42.23" fill="#00a087"/>
<rect x="249.5" y="924.01" width="14.8" height="29.96" fill="#82cde0"/>
<rect x="249.5" y="953.67" width="14.8" height="91.33" fill="#b8c8be"/>
<rect x="266" y="533.3" width="14.8" height="332.71" fill="#3c5488"/>
<rect x="266" y="865.71" width="14.8" height="36.61" fill="#00a087"/>
<rect x="266" y="902.02" width="14.8" height="19.73" fill="#82cde0"/>
<rect x="266" y="921.45" width="14.8" height="123.55" fill="#b8c8be"/>
<rect x="282.5" y="533.3" width="14.8" height="329.64" fill="#3c5488"/>
<rect x="282.5" y="862.64" width="14.8" height="38.14" fill="#00a087"/>
<rect x="282.5" y="900.49" width="14.8" height="23.82" fill="#82cde0"/>
<rect x="282.5" y="924.01" width="14.8" height="120.99" fill="#b8c8be"/>
<rect x="299" y="533.3" width="14.8" height="317.88" fill="#3c5488"/>
<rect x="299" y="850.88" width="14.8" height="51.44" fill="#00a087"/>
<rect x="299" y="902.02" width="14.8" height="36.1" fill="#82cde0"/>
<rect x="299" y="937.82" width="14.8" height="107.18" fill="#b8c8be"/>
<rect x="315.5" y="533.3" width="14.8" height="297.42" fill="#3c5488"/>
<rect x="315.5" y="830.42" width="14.8" height="52.97" fill="#00a087"/>
<rect x="315.5" y="883.1" width="14.8" height="37.12" fill="#82cde0"/>
<rect x="315.5" y="919.92" width="14.8" height="125.08" fill="#b8c8be"/>
<rect x="343.1" y="533.3" width="14.7" height="190.35" fill="#3c5488"/>
<rect x="343.1" y="723.35" width="14.7" height="78.47" fill="#00a087"/>
<rect x="343.1" y="801.52" width="14.7" height="53.43" fill="#82cde0"/>
<rect x="343.1" y="854.65" width="14.7" height="190.35" fill="#b8c8be"/>
<rect x="359.6" y="533.3" width="14.7" height="162.41" fill="#3c5488"/>
<rect x="359.6" y="695.41" width="14.7" height="94.4" fill="#00a087"/>
<rect x="359.6" y="789.51" width="14.7" height="52.97" fill="#82cde0"/>
<rect x="359.6" y="842.19" width="14.7" height="202.81" fill="#b8c8be"/>
<rect x="376.1" y="533.3" width="14.7" height="169.57" fill="#3c5488"/>
<rect x="376.1" y="702.57" width="14.7" height="73.43" fill="#00a087"/>
<rect x="376.1" y="775.7" width="14.7" height="61.16" fill="#82cde0"/>
<rect x="376.1" y="836.56" width="14.7" height="208.44" fill="#b8c8be"/>
<rect x="392.6" y="533.3" width="14.7" height="160.37" fill="#3c5488"/>
<rect x="392.6" y="693.37" width="14.7" height="91.84" fill="#00a087"/>
<rect x="392.6" y="784.91" width="14.7" height="46.33" fill="#82cde0"/>
<rect x="392.6" y="830.93" width="14.7" height="214.07" fill="#b8c8be"/>
<rect x="409.1" y="533.3" width="14.7" height="111.27" fill="#3c5488"/>
<rect x="409.1" y="644.27" width="14.7" height="87.24" fill="#00a087"/>
<rect x="409.1" y="731.21" width="14.7" height="63.71" fill="#82cde0"/>
<rect x="409.1" y="794.63" width="14.7" height="250.37" fill="#b8c8be"/>
<rect x="425.6" y="533.3" width="14.7" height="100.95" fill="#3c5488"/>
<rect x="425.6" y="633.95" width="14.7" height="84.6" fill="#00a087"/>
<rect x="425.6" y="718.24" width="14.7" height="59.05" fill="#82cde0"/>
<rect x="425.6" y="776.99" width="14.7" height="268.01" fill="#b8c8be"/>
<rect x="454.2" y="533.3" width="14.3" height="34.56" fill="#00a087"/>
<rect x="454.2" y="567.56" width="14.3" height="119.46" fill="#82cde0"/>
<rect x="454.2" y="686.72" width="14.3" height="358.28" fill="#b8c8be"/>
<rect x="470.53" y="533.3" width="14.3" height="112.92" fill="#3c5488"/>
<rect x="470.53" y="645.92" width="14.3" height="86.81" fill="#00a087"/>
<rect x="470.53" y="732.43" width="14.3" height="147.73" fill="#82cde0"/>
<rect x="470.53" y="879.86" width="14.3" height="165.14" fill="#b8c8be"/>
<rect x="486.86" y="533.3" width="14.3" height="87.75" fill="#3c5488"/>
<rect x="486.86" y="620.75" width="14.3" height="39.17" fill="#00a087"/>
<rect x="486.86" y="659.62" width="14.3" height="54" fill="#82cde0"/>
<rect x="486.86" y="713.31" width="14.3" height="331.69" fill="#b8c8be"/>
<rect x="503.19" y="533.3" width="14.3" height="28.91" fill="#3c5488"/>
<rect x="503.19" y="561.91" width="14.3" height="142.33" fill="#82cde0"/>
<rect x="503.19" y="703.94" width="14.3" height="341.06" fill="#b8c8be"/>
<rect x="519.52" y="533.3" width="14.3" height="34.53" fill="#3c5488"/>
<rect x="519.52" y="567.53" width="14.3" height="34.53" fill="#00a087"/>
<rect x="519.52" y="601.76" width="14.3" height="238.89" fill="#82cde0"/>
<rect x="519.52" y="840.34" width="14.3" height="204.66" fill="#b8c8be"/>
<rect x="535.85" y="533.3" width="14.3" height="57.07" fill="#3c5488"/>
<rect x="535.85" y="590.07" width="14.3" height="85.7" fill="#00a087"/>
<rect x="535.85" y="675.47" width="14.3" height="113.83" fill="#82cde0"/>
<rect x="535.85" y="789" width="14.3" height="256" fill="#b8c8be"/>
<rect x="552.18" y="533.3" width="14.3" height="113.83" fill="#82cde0"/>
<rect x="552.18" y="646.83" width="14.3" height="398.17" fill="#b8c8be"/>
<rect x="568.51" y="533.3" width="14.3" height="28.94" fill="#00a087"/>
<rect x="568.51" y="561.94" width="14.3" height="170.6" fill="#82cde0"/>
<rect x="568.51" y="732.23" width="14.3" height="312.77" fill="#b8c8be"/>
<rect x="584.84" y="533.3" width="14.3" height="192.08" fill="#82cde0"/>
<rect x="584.84" y="725.08" width="14.3" height="319.93" fill="#b8c8be"/>
<rect x="601.17" y="533.3" width="14.3" height="34.53" fill="#3c5488"/>
<rect x="601.17" y="567.53" width="14.3" height="34.53" fill="#82cde0"/>
<rect x="601.17" y="601.76" width="14.3" height="443.24" fill="#b8c8be"/>
<text transform="translate(45.94,749.11) rotate(-90) scale(0.76,1)" font-size="11.8" fill="#fff" text-anchor="middle" stroke="#fff" stroke-width="0.35">84.4</text>
<text transform="translate(45.94,978.99) rotate(-90) scale(0.76,1)" font-size="11.8" fill="#fff" text-anchor="middle" stroke="#fff" stroke-width="0.35">5.5</text>
<text transform="translate(45.94,1022.97) rotate(-90) scale(0.76,1)" font-size="11.8" fill="#000" text-anchor="middle" stroke="#000" stroke-width="0.35">8.5</text>
<text transform="translate(62.44,744.25) rotate(-90) scale(0.76,1)" font-size="11.8" fill="#fff" text-anchor="middle" stroke="#fff" stroke-width="0.35">82.5</text>
<text transform="translate(62.44,968.5) rotate(-90) scale(0.76,1)" font-size="11.8" fill="#fff" text-anchor="middle" stroke="#fff" stroke-width="0.35">5.2</text>
<text transform="translate(62.44,1017.6) rotate(-90) scale(0.76,1)" font-size="11.8" fill="#000" text-anchor="middle" stroke="#000" stroke-width="0.35">10.6</text>
<text transform="translate(78.94,738.68) rotate(-90) scale(0.76,1)" font-size="11.8" fill="#fff" text-anchor="middle" stroke="#fff" stroke-width="0.35">80.4</text>
<text transform="translate(78.94,958.87) rotate(-90) scale(0.76,1)" font-size="11.8" fill="#fff" text-anchor="middle" stroke="#fff" stroke-width="0.35">5.8</text>
<text transform="translate(78.94,982.63) rotate(-90) scale(0.76,1)" font-size="11.8" fill="#000" text-anchor="middle" stroke="#000" stroke-width="0.35">3.5</text>
<text transform="translate(78.94,1018.13) rotate(-90) scale(0.76,1)" font-size="11.8" fill="#000" text-anchor="middle" stroke="#000" stroke-width="0.35">10.4</text>
<text transform="translate(95.44,735.1) rotate(-90) scale(0.76,1)" font-size="11.8" fill="#fff" text-anchor="middle" stroke="#fff" stroke-width="0.35">79</text>
<text transform="translate(95.44,952.23) rotate(-90) scale(0.76,1)" font-size="11.8" fill="#fff" text-anchor="middle" stroke="#fff" stroke-width="0.35">6</text>
<text transform="translate(95.44,977.01) rotate(-90) scale(0.76,1)" font-size="11.8" fill="#000" text-anchor="middle" stroke="#000" stroke-width="0.35">3.7</text>
<text transform="translate(95.44,1015.58) rotate(-90) scale(0.76,1)" font-size="11.8" fill="#000" text-anchor="middle" stroke="#000" stroke-width="0.35">11.4</text>
<text transform="translate(111.94,734.33) rotate(-90) scale(0.76,1)" font-size="11.8" fill="#fff" text-anchor="middle" stroke="#fff" stroke-width="0.35">78.7</text>
<text transform="translate(111.94,952.23) rotate(-90) scale(0.76,1)" font-size="11.8" fill="#fff" text-anchor="middle" stroke="#fff" stroke-width="0.35">6.6</text>
<text transform="translate(111.94,976.5) rotate(-90) scale(0.76,1)" font-size="11.8" fill="#000" text-anchor="middle" stroke="#000" stroke-width="0.35">2.9</text>
<text transform="translate(111.94,1014.3) rotate(-90) scale(0.76,1)" font-size="11.8" fill="#000" text-anchor="middle" stroke="#000" stroke-width="0.35">11.9</text>
<text transform="translate(128.44,732.18) rotate(-90) scale(0.76,1)" font-size="11.8" fill="#fff" text-anchor="middle" stroke="#fff" stroke-width="0.35">77.7</text>
<text transform="translate(128.44,944.11) rotate(-90) scale(0.76,1)" font-size="11.8" fill="#fff" text-anchor="middle" stroke="#fff" stroke-width="0.35">5.1</text>
<text transform="translate(128.44,969.19) rotate(-90) scale(0.76,1)" font-size="11.8" fill="#000" text-anchor="middle" stroke="#000" stroke-width="0.35">4.7</text>
<text transform="translate(128.44,1012.96) rotate(-90) scale(0.76,1)" font-size="11.8" fill="#000" text-anchor="middle" stroke="#000" stroke-width="0.35">12.4</text>
<text transform="translate(144.94,730.44) rotate(-90) scale(0.76,1)" font-size="11.8" fill="#fff" text-anchor="middle" stroke="#fff" stroke-width="0.35">77.1</text>
<text transform="translate(144.94,946.77) rotate(-90) scale(0.76,1)" font-size="11.8" fill="#fff" text-anchor="middle" stroke="#fff" stroke-width="0.35">7.5</text>
<text transform="translate(144.94,973.1) rotate(-90) scale(0.76,1)" font-size="11.8" fill="#000" text-anchor="middle" stroke="#000" stroke-width="0.35">2.8</text>
<text transform="translate(144.94,1012.48) rotate(-90) scale(0.76,1)" font-size="11.8" fill="#000" text-anchor="middle" stroke="#000" stroke-width="0.35">12.6</text>
<text transform="translate(161.44,727.12) rotate(-90) scale(0.76,1)" font-size="11.8" fill="#fff" text-anchor="middle" stroke="#fff" stroke-width="0.35">75.8</text>
<text transform="translate(161.44,937.56) rotate(-90) scale(0.76,1)" font-size="11.8" fill="#fff" text-anchor="middle" stroke="#fff" stroke-width="0.35">6.5</text>
<text transform="translate(161.44,962.88) rotate(-90) scale(0.76,1)" font-size="11.8" fill="#000" text-anchor="middle" stroke="#000" stroke-width="0.35">3.4</text>
<text transform="translate(161.44,1008.13) rotate(-90) scale(0.76,1)" font-size="11.8" fill="#000" text-anchor="middle" stroke="#000" stroke-width="0.35">14.3</text>
<text transform="translate(177.94,725.33) rotate(-90) scale(0.76,1)" font-size="11.8" fill="#fff" text-anchor="middle" stroke="#fff" stroke-width="0.35">75.1</text>
<text transform="translate(177.94,936.79) rotate(-90) scale(0.76,1)" font-size="11.8" fill="#fff" text-anchor="middle" stroke="#fff" stroke-width="0.35">7.6</text>
<text transform="translate(177.94,964.41) rotate(-90) scale(0.76,1)" font-size="11.8" fill="#000" text-anchor="middle" stroke="#000" stroke-width="0.35">3.2</text>
<text transform="translate(177.94,1008.65) rotate(-90) scale(0.76,1)" font-size="11.8" fill="#000" text-anchor="middle" stroke="#000" stroke-width="0.35">14.1</text>
<text transform="translate(194.44,723.8) rotate(-90) scale(0.76,1)" font-size="11.8" fill="#fff" text-anchor="middle" stroke="#fff" stroke-width="0.35">74.5</text>
<text transform="translate(194.44,929.89) rotate(-90) scale(0.76,1)" font-size="11.8" fill="#fff" text-anchor="middle" stroke="#fff" stroke-width="0.35">6.1</text>
<text transform="translate(194.44,957.51) rotate(-90) scale(0.76,1)" font-size="11.8" fill="#000" text-anchor="middle" stroke="#000" stroke-width="0.35">4.7</text>
<text transform="translate(194.44,1007.11) rotate(-90) scale(0.76,1)" font-size="11.8" fill="#000" text-anchor="middle" stroke="#000" stroke-width="0.35">14.7</text>
<text transform="translate(210.94,719.19) rotate(-90) scale(0.76,1)" font-size="11.8" fill="#fff" text-anchor="middle" stroke="#fff" stroke-width="0.35">72.7</text>
<text transform="translate(210.94,917.62) rotate(-90) scale(0.76,1)" font-size="11.8" fill="#fff" text-anchor="middle" stroke="#fff" stroke-width="0.35">4.9</text>
<text transform="translate(210.94,942.68) rotate(-90) scale(0.76,1)" font-size="11.8" fill="#000" text-anchor="middle" stroke="#000" stroke-width="0.35">4.9</text>
<text transform="translate(210.94,999.95) rotate(-90) scale(0.76,1)" font-size="11.8" fill="#000" text-anchor="middle" stroke="#000" stroke-width="0.35">17.5</text>
<text transform="translate(227.44,711.52) rotate(-90) scale(0.76,1)" font-size="11.8" fill="#fff" text-anchor="middle" stroke="#fff" stroke-width="0.35">69.7</text>
<text transform="translate(227.44,904.83) rotate(-90) scale(0.76,1)" font-size="11.8" fill="#fff" text-anchor="middle" stroke="#fff" stroke-width="0.35">5.9</text>
<text transform="translate(227.44,932.96) rotate(-90) scale(0.76,1)" font-size="11.8" fill="#000" text-anchor="middle" stroke="#000" stroke-width="0.35">5.1</text>
<text transform="translate(227.44,995.35) rotate(-90) scale(0.76,1)" font-size="11.8" fill="#000" text-anchor="middle" stroke="#000" stroke-width="0.35">19.3</text>
<text transform="translate(243.94,709.48) rotate(-90) scale(0.76,1)" font-size="11.8" fill="#fff" text-anchor="middle" stroke="#fff" stroke-width="0.35">68.9</text>
<text transform="translate(243.94,904.83) rotate(-90) scale(0.76,1)" font-size="11.8" fill="#fff" text-anchor="middle" stroke="#fff" stroke-width="0.35">7.5</text>
<text transform="translate(243.94,931.94) rotate(-90) scale(0.76,1)" font-size="11.8" fill="#000" text-anchor="middle" stroke="#000" stroke-width="0.35">3.1</text>
<text transform="translate(243.94,992.28) rotate(-90) scale(0.76,1)" font-size="11.8" fill="#000" text-anchor="middle" stroke="#000" stroke-width="0.35">20.5</text>
<text transform="translate(260.44,707.69) rotate(-90) scale(0.76,1)" font-size="11.8" fill="#fff" text-anchor="middle" stroke="#fff" stroke-width="0.35">68.2</text>
<text transform="translate(260.44,903.04) rotate(-90) scale(0.76,1)" font-size="11.8" fill="#fff" text-anchor="middle" stroke="#fff" stroke-width="0.35">8.2</text>
<text transform="translate(260.44,938.84) rotate(-90) scale(0.76,1)" font-size="11.8" fill="#000" text-anchor="middle" stroke="#000" stroke-width="0.35">5.8</text>
<text transform="translate(260.44,999.19) rotate(-90) scale(0.76,1)" font-size="11.8" fill="#000" text-anchor="middle" stroke="#000" stroke-width="0.35">17.8</text>
<text transform="translate(276.94,699.5) rotate(-90) scale(0.76,1)" font-size="11.8" fill="#fff" text-anchor="middle" stroke="#fff" stroke-width="0.35">65</text>
<text transform="translate(276.94,883.86) rotate(-90) scale(0.76,1)" font-size="11.8" fill="#fff" text-anchor="middle" stroke="#fff" stroke-width="0.35">7.1</text>
<text transform="translate(276.94,911.74) rotate(-90) scale(0.76,1)" font-size="11.8" fill="#000" text-anchor="middle" stroke="#000" stroke-width="0.35">3.8</text>
<text transform="translate(276.94,983.08) rotate(-90) scale(0.76,1)" font-size="11.8" fill="#000" text-anchor="middle" stroke="#000" stroke-width="0.35">24.1</text>
<text transform="translate(293.44,697.97) rotate(-90) scale(0.76,1)" font-size="11.8" fill="#fff" text-anchor="middle" stroke="#fff" stroke-width="0.35">64.4</text>
<text transform="translate(293.44,881.56) rotate(-90) scale(0.76,1)" font-size="11.8" fill="#fff" text-anchor="middle" stroke="#fff" stroke-width="0.35">7.4</text>
<text transform="translate(293.44,912.25) rotate(-90) scale(0.76,1)" font-size="11.8" fill="#000" text-anchor="middle" stroke="#000" stroke-width="0.35">4.6</text>
<text transform="translate(293.44,984.35) rotate(-90) scale(0.76,1)" font-size="11.8" fill="#000" text-anchor="middle" stroke="#000" stroke-width="0.35">23.6</text>
<text transform="translate(309.94,692.09) rotate(-90) scale(0.76,1)" font-size="11.8" fill="#fff" text-anchor="middle" stroke="#fff" stroke-width="0.35">62.1</text>
<text transform="translate(309.94,876.45) rotate(-90) scale(0.76,1)" font-size="11.8" fill="#fff" text-anchor="middle" stroke="#fff" stroke-width="0.35">10</text>
<text transform="translate(309.94,919.92) rotate(-90) scale(0.76,1)" font-size="11.8" fill="#000" text-anchor="middle" stroke="#000" stroke-width="0.35">7</text>
<text transform="translate(309.94,991.26) rotate(-90) scale(0.76,1)" font-size="11.8" fill="#000" text-anchor="middle" stroke="#000" stroke-width="0.35">20.9</text>
<text transform="translate(326.44,681.86) rotate(-90) scale(0.76,1)" font-size="11.8" fill="#fff" text-anchor="middle" stroke="#fff" stroke-width="0.35">58.1</text>
<text transform="translate(326.44,856.76) rotate(-90) scale(0.76,1)" font-size="11.8" fill="#fff" text-anchor="middle" stroke="#fff" stroke-width="0.35">10.3</text>
<text transform="translate(326.44,901.51) rotate(-90) scale(0.76,1)" font-size="11.8" fill="#000" text-anchor="middle" stroke="#000" stroke-width="0.35">7.2</text>
<text transform="translate(326.44,982.31) rotate(-90) scale(0.76,1)" font-size="11.8" fill="#000" text-anchor="middle" stroke="#000" stroke-width="0.35">24.4</text>
<text transform="translate(353.99,628.33) rotate(-90) scale(0.76,1)" font-size="11.8" fill="#fff" text-anchor="middle" stroke="#fff" stroke-width="0.35">37.2</text>
<text transform="translate(353.99,762.43) rotate(-90) scale(0.76,1)" font-size="11.8" fill="#fff" text-anchor="middle" stroke="#fff" stroke-width="0.35">15.3</text>
<text transform="translate(353.99,828.08) rotate(-90) scale(0.76,1)" font-size="11.8" fill="#000" text-anchor="middle" stroke="#000" stroke-width="0.35">10.4</text>
<text transform="translate(353.99,949.67) rotate(-90) scale(0.76,1)" font-size="11.8" fill="#000" text-anchor="middle" stroke="#000" stroke-width="0.35">37.2</text>
<text transform="translate(370.49,614.36) rotate(-90) scale(0.76,1)" font-size="11.8" fill="#fff" text-anchor="middle" stroke="#fff" stroke-width="0.35">31.7</text>
<text transform="translate(370.49,742.46) rotate(-90) scale(0.76,1)" font-size="11.8" fill="#fff" text-anchor="middle" stroke="#fff" stroke-width="0.35">18.4</text>
<text transform="translate(370.49,815.85) rotate(-90) scale(0.76,1)" font-size="11.8" fill="#000" text-anchor="middle" stroke="#000" stroke-width="0.35">10.3</text>
<text transform="translate(370.49,943.44) rotate(-90) scale(0.76,1)" font-size="11.8" fill="#000" text-anchor="middle" stroke="#000" stroke-width="0.35">39.6</text>
<text transform="translate(386.99,617.94) rotate(-90) scale(0.76,1)" font-size="11.8" fill="#fff" text-anchor="middle" stroke="#fff" stroke-width="0.35">33.1</text>
<text transform="translate(386.99,739.14) rotate(-90) scale(0.76,1)" font-size="11.8" fill="#fff" text-anchor="middle" stroke="#fff" stroke-width="0.35">14.3</text>
<text transform="translate(386.99,806.13) rotate(-90) scale(0.76,1)" font-size="11.8" fill="#000" text-anchor="middle" stroke="#000" stroke-width="0.35">11.9</text>
<text transform="translate(386.99,940.63) rotate(-90) scale(0.76,1)" font-size="11.8" fill="#000" text-anchor="middle" stroke="#000" stroke-width="0.35">40.7</text>
<text transform="translate(403.49,613.33) rotate(-90) scale(0.76,1)" font-size="11.8" fill="#fff" text-anchor="middle" stroke="#fff" stroke-width="0.35">31.3</text>
<text transform="translate(403.49,739.14) rotate(-90) scale(0.76,1)" font-size="11.8" fill="#fff" text-anchor="middle" stroke="#fff" stroke-width="0.35">17.9</text>
<text transform="translate(403.49,807.92) rotate(-90) scale(0.76,1)" font-size="11.8" fill="#000" text-anchor="middle" stroke="#000" stroke-width="0.35">9</text>
<text transform="translate(403.49,937.82) rotate(-90) scale(0.76,1)" font-size="11.8" fill="#000" text-anchor="middle" stroke="#000" stroke-width="0.35">41.8</text>
<text transform="translate(419.99,588.79) rotate(-90) scale(0.76,1)" font-size="11.8" fill="#fff" text-anchor="middle" stroke="#fff" stroke-width="0.35">21.7</text>
<text transform="translate(419.99,687.74) rotate(-90) scale(0.76,1)" font-size="11.8" fill="#fff" text-anchor="middle" stroke="#fff" stroke-width="0.35">17</text>
<text transform="translate(419.99,762.92) rotate(-90) scale(0.76,1)" font-size="11.8" fill="#000" text-anchor="middle" stroke="#000" stroke-width="0.35">12.4</text>
<text transform="translate(419.99,919.66) rotate(-90) scale(0.76,1)" font-size="11.8" fill="#000" text-anchor="middle" stroke="#000" stroke-width="0.35">48.9</text>
<text transform="translate(436.49,583.62) rotate(-90) scale(0.76,1)" font-size="11.8" fill="#fff" text-anchor="middle" stroke="#fff" stroke-width="0.35">19.7</text>
<text transform="translate(436.49,676.09) rotate(-90) scale(0.76,1)" font-size="11.8" fill="#fff" text-anchor="middle" stroke="#fff" stroke-width="0.35">16.5</text>
<text transform="translate(436.49,747.62) rotate(-90) scale(0.76,1)" font-size="11.8" fill="#000" text-anchor="middle" stroke="#000" stroke-width="0.35">11.5</text>
<text transform="translate(436.49,910.85) rotate(-90) scale(0.76,1)" font-size="11.8" fill="#000" text-anchor="middle" stroke="#000" stroke-width="0.35">52.4</text>
<text transform="translate(464.89,550.43) rotate(-90) scale(0.76,1)" font-size="11.8" fill="#fff" text-anchor="middle" stroke="#fff" stroke-width="0.35">6.7</text>
<text transform="translate(464.89,627.14) rotate(-90) scale(0.76,1)" font-size="11.8" fill="#000" text-anchor="middle" stroke="#000" stroke-width="0.35">23.3</text>
<text transform="translate(464.89,865.71) rotate(-90) scale(0.76,1)" font-size="11.8" fill="#000" text-anchor="middle" stroke="#000" stroke-width="0.35">70</text>
<text transform="translate(481.22,589.61) rotate(-90) scale(0.76,1)" font-size="11.8" fill="#fff" text-anchor="middle" stroke="#fff" stroke-width="0.35">22</text>
<text transform="translate(481.22,689.18) rotate(-90) scale(0.76,1)" font-size="11.8" fill="#fff" text-anchor="middle" stroke="#fff" stroke-width="0.35">16.9</text>
<text transform="translate(481.22,806.15) rotate(-90) scale(0.76,1)" font-size="11.8" fill="#000" text-anchor="middle" stroke="#000" stroke-width="0.35">28.8</text>
<text transform="translate(481.22,962.28) rotate(-90) scale(0.76,1)" font-size="11.8" fill="#000" text-anchor="middle" stroke="#000" stroke-width="0.35">32.2</text>
<text transform="translate(497.55,577.02) rotate(-90) scale(0.76,1)" font-size="11.8" fill="#fff" text-anchor="middle" stroke="#fff" stroke-width="0.35">17.1</text>
<text transform="translate(497.55,640.18) rotate(-90) scale(0.76,1)" font-size="11.8" fill="#fff" text-anchor="middle" stroke="#fff" stroke-width="0.35">7.6</text>
<text transform="translate(497.55,686.46) rotate(-90) scale(0.76,1)" font-size="11.8" fill="#000" text-anchor="middle" stroke="#000" stroke-width="0.35">10.5</text>
<text transform="translate(497.55,879.01) rotate(-90) scale(0.76,1)" font-size="11.8" fill="#000" text-anchor="middle" stroke="#000" stroke-width="0.35">64.8</text>
<text transform="translate(513.88,547.6) rotate(-90) scale(0.76,1)" font-size="11.8" fill="#fff" text-anchor="middle" stroke="#fff" stroke-width="0.35">5.6</text>
<text transform="translate(513.88,632.92) rotate(-90) scale(0.76,1)" font-size="11.8" fill="#000" text-anchor="middle" stroke="#000" stroke-width="0.35">27.8</text>
<text transform="translate(513.88,874.32) rotate(-90) scale(0.76,1)" font-size="11.8" fill="#000" text-anchor="middle" stroke="#000" stroke-width="0.35">66.7</text>
<text transform="translate(530.21,550.41) rotate(-90) scale(0.76,1)" font-size="11.8" fill="#fff" text-anchor="middle" stroke="#fff" stroke-width="0.35">6.7</text>
<text transform="translate(530.21,584.64) rotate(-90) scale(0.76,1)" font-size="11.8" fill="#fff" text-anchor="middle" stroke="#fff" stroke-width="0.35">6.7</text>
<text transform="translate(530.21,721.05) rotate(-90) scale(0.76,1)" font-size="11.8" fill="#000" text-anchor="middle" stroke="#000" stroke-width="0.35">46.7</text>
<text transform="translate(530.21,942.52) rotate(-90) scale(0.76,1)" font-size="11.8" fill="#000" text-anchor="middle" stroke="#000" stroke-width="0.35">40</text>
<text transform="translate(546.54,561.68) rotate(-90) scale(0.76,1)" font-size="11.8" fill="#fff" text-anchor="middle" stroke="#fff" stroke-width="0.35">11.1</text>
<text transform="translate(546.54,632.77) rotate(-90) scale(0.76,1)" font-size="11.8" fill="#fff" text-anchor="middle" stroke="#fff" stroke-width="0.35">16.7</text>
<text transform="translate(546.54,732.23) rotate(-90) scale(0.76,1)" font-size="11.8" fill="#000" text-anchor="middle" stroke="#000" stroke-width="0.35">22.2</text>
<text transform="translate(546.54,916.85) rotate(-90) scale(0.76,1)" font-size="11.8" fill="#000" text-anchor="middle" stroke="#000" stroke-width="0.35">50</text>
<text transform="translate(562.87,590.07) rotate(-90) scale(0.76,1)" font-size="11.8" fill="#000" text-anchor="middle" stroke="#000" stroke-width="0.35">22.2</text>
<text transform="translate(562.87,845.77) rotate(-90) scale(0.76,1)" font-size="11.8" fill="#000" text-anchor="middle" stroke="#000" stroke-width="0.35">77.8</text>
<text transform="translate(579.2,547.62) rotate(-90) scale(0.76,1)" font-size="11.8" fill="#fff" text-anchor="middle" stroke="#fff" stroke-width="0.35">5.6</text>
<text transform="translate(579.2,647.09) rotate(-90) scale(0.76,1)" font-size="11.8" fill="#000" text-anchor="middle" stroke="#000" stroke-width="0.35">33.3</text>
<text transform="translate(579.2,888.47) rotate(-90) scale(0.76,1)" font-size="11.8" fill="#000" text-anchor="middle" stroke="#000" stroke-width="0.35">61.1</text>
<text transform="translate(595.53,629.19) rotate(-90) scale(0.76,1)" font-size="11.8" fill="#000" text-anchor="middle" stroke="#000" stroke-width="0.35">37.5</text>
<text transform="translate(595.53,884.89) rotate(-90) scale(0.76,1)" font-size="11.8" fill="#000" text-anchor="middle" stroke="#000" stroke-width="0.35">62.5</text>
<text transform="translate(611.86,550.41) rotate(-90) scale(0.76,1)" font-size="11.8" fill="#fff" text-anchor="middle" stroke="#fff" stroke-width="0.35">6.7</text>
<text transform="translate(611.86,584.64) rotate(-90) scale(0.76,1)" font-size="11.8" fill="#000" text-anchor="middle" stroke="#000" stroke-width="0.35">6.7</text>
<text transform="translate(611.86,823.23) rotate(-90) scale(0.76,1)" font-size="11.8" fill="#000" text-anchor="middle" stroke="#000" stroke-width="0.35">86.7</text>
<rect x="38.8" y="538" width="93.5" height="150.6" fill="#fff"/>
<text x="49.6" y="559.7" font-size="15" stroke="#000" stroke-width="0.35">Genome</text>
<text x="49.6" y="578.5" font-size="15" stroke="#000" stroke-width="0.35">shared</text>
<rect x="50" y="588.9" width="21.4" height="19.8" fill="#3c5488"/>
<rect x="50" y="609.8" width="21.4" height="19.8" fill="#00a087"/>
<rect x="50" y="630.7" width="21.4" height="19.8" fill="#82cde0"/>
<rect x="50" y="651.6" width="21.4" height="19.8" fill="#b8c8be"/>
<text x="77.8" y="604.4" font-size="15" stroke="#000" stroke-width="0.35">3</text>
<text x="77.8" y="625.3" font-size="15" stroke="#000" stroke-width="0.35">2</text>
<text x="77.8" y="646.2" font-size="15" stroke="#000" stroke-width="0.35">1</text>
<text x="77.8" y="666" font-size="15" stroke="#000" stroke-width="0.35">FSSC-</text>
<text x="77.8" y="679.3" font-size="15" stroke="#000" stroke-width="0.35">specific</text>
<text x="-1" y="559.3" font-size="35" font-weight="bold" stroke="#000" stroke-width="0.35">b</text>
<text transform="translate(45.95,1048.4) rotate(-90) scale(0.9,1)" font-size="15.5" fill="#000" text-anchor="end" stroke="#000" stroke-width="0.35">Fu3.lg01</text>
<text transform="translate(62.45,1048.4) rotate(-90) scale(0.9,1)" font-size="15.5" fill="#000" text-anchor="end" stroke="#000" stroke-width="0.35">*Fs6.chr01</text>
<text transform="translate(78.95,1048.4) rotate(-90) scale(0.9,1)" font-size="15.5" fill="#000" text-anchor="end" stroke="#000" stroke-width="0.35">*Fu3.chr04</text>
<text transform="translate(95.45,1048.4) rotate(-90) scale(0.9,1)" font-size="15.5" fill="#000" text-anchor="end" stroke="#000" stroke-width="0.35">Fs6.lg04</text>
<text transform="translate(111.95,1048.4) rotate(-90) scale(0.9,1)" font-size="15.5" fill="#000" text-anchor="end" stroke="#000" stroke-width="0.35">Fu3.lg02</text>
<text transform="translate(128.45,1048.4) rotate(-90) scale(0.9,1)" font-size="15.5" fill="#000" text-anchor="end" stroke="#000" stroke-width="0.35">Fu3.lg09</text>
<text transform="translate(144.95,1048.4) rotate(-90) scale(0.9,1)" font-size="15.5" fill="#000" text-anchor="end" stroke="#000" stroke-width="0.35">Fu3.lg05</text>
<text transform="translate(161.45,1048.4) rotate(-90) scale(0.9,1)" font-size="15.5" fill="#000" text-anchor="end" stroke="#000" stroke-width="0.35">Fs6.lg02</text>
<text transform="translate(177.95,1048.4) rotate(-90) scale(0.9,1)" font-size="15.5" fill="#000" text-anchor="end" stroke="#000" stroke-width="0.35">Fs6.lg05</text>
<text transform="translate(194.45,1048.4) rotate(-90) scale(0.9,1)" font-size="15.5" fill="#000" text-anchor="end" stroke="#000" stroke-width="0.35">*Fu3.chr08</text>
<text transform="translate(210.95,1048.4) rotate(-90) scale(0.9,1)" font-size="15.5" fill="#000" text-anchor="end" stroke="#000" stroke-width="0.35">*Fs6.chr09</text>
<text transform="translate(227.45,1048.4) rotate(-90) scale(0.9,1)" font-size="15.5" fill="#000" text-anchor="end" stroke="#000" stroke-width="0.35">Fs6.lg08</text>
<text transform="translate(243.95,1048.4) rotate(-90) scale(0.9,1)" font-size="15.5" fill="#000" text-anchor="end" stroke="#000" stroke-width="0.35">Fu3.lg06</text>
<text transform="translate(260.45,1048.4) rotate(-90) scale(0.9,1)" font-size="15.5" fill="#000" text-anchor="end" stroke="#000" stroke-width="0.35">*Fu3.chr03</text>
<text transform="translate(276.95,1048.4) rotate(-90) scale(0.9,1)" font-size="15.5" fill="#000" text-anchor="end" stroke="#000" stroke-width="0.35">Fs6.lg06</text>
<text transform="translate(293.45,1048.4) rotate(-90) scale(0.9,1)" font-size="15.5" fill="#000" text-anchor="end" stroke="#000" stroke-width="0.35">Fs6.lg03</text>
<text transform="translate(309.95,1048.4) rotate(-90) scale(0.9,1)" font-size="15.5" fill="#000" text-anchor="end" stroke="#000" stroke-width="0.35">Fu3.lg10</text>
<text transform="translate(326.45,1048.4) rotate(-90) scale(0.9,1)" font-size="15.5" fill="#000" text-anchor="end" stroke="#000" stroke-width="0.35">*Fs6.chr10</text>
<text transform="translate(354,1048.4) rotate(-90) scale(0.9,1)" font-size="15.5" fill="#0000ff" text-anchor="end" stroke="#0000ff" stroke-width="0.35">*Fu3.chr11</text>
<text transform="translate(370.5,1048.4) rotate(-90) scale(0.9,1)" font-size="15.5" fill="#0000ff" text-anchor="end" stroke="#0000ff" stroke-width="0.35">Fu3.lg12</text>
<text transform="translate(387,1048.4) rotate(-90) scale(0.9,1)" font-size="15.5" fill="#0000ff" text-anchor="end" stroke="#0000ff" stroke-width="0.35">Fs6.lg11</text>
<text transform="translate(403.5,1048.4) rotate(-90) scale(0.9,1)" font-size="15.5" fill="#0000ff" text-anchor="end" stroke="#0000ff" stroke-width="0.35">Fs6.lg12</text>
<text transform="translate(420,1048.4) rotate(-90) scale(0.9,1)" font-size="15.5" fill="#0000ff" text-anchor="end" stroke="#0000ff" stroke-width="0.35">Fu3.lg07</text>
<text transform="translate(436.5,1048.4) rotate(-90) scale(0.9,1)" font-size="15.5" fill="#0000ff" text-anchor="end" stroke="#0000ff" stroke-width="0.35">*Fs6.chr07</text>
<text transform="translate(464.9,1048.4) rotate(-90) scale(0.9,1)" font-size="15.5" fill="#ae5416" text-anchor="end" stroke="#ae5416" stroke-width="0.35">*Fu3.chr13</text>
<text transform="translate(481.23,1048.4) rotate(-90) scale(0.9,1)" font-size="15.5" fill="#ae5416" text-anchor="end" stroke="#ae5416" stroke-width="0.35">*Fu3.chr14</text>
<text transform="translate(497.56,1048.4) rotate(-90) scale(0.9,1)" font-size="15.5" fill="#ae5416" text-anchor="end" stroke="#ae5416" stroke-width="0.35">*Fs6.chr13</text>
<text transform="translate(513.89,1048.4) rotate(-90) scale(0.9,1)" font-size="15.5" fill="#ae5416" text-anchor="end" stroke="#ae5416" stroke-width="0.35">*Fs6.chr14</text>
<text transform="translate(530.22,1048.4) rotate(-90) scale(0.9,1)" font-size="15.5" fill="#ae5416" text-anchor="end" stroke="#ae5416" stroke-width="0.35">Fs6.cont15</text>
<text transform="translate(546.55,1048.4) rotate(-90) scale(0.9,1)" font-size="15.5" fill="#ae5416" text-anchor="end" stroke="#ae5416" stroke-width="0.35">Fs6.cont16</text>
<text transform="translate(562.88,1048.4) rotate(-90) scale(0.9,1)" font-size="15.5" fill="#ae5416" text-anchor="end" stroke="#ae5416" stroke-width="0.35">*Fs6.chr17</text>
<text transform="translate(579.21,1048.4) rotate(-90) scale(0.9,1)" font-size="15.5" fill="#ae5416" text-anchor="end" stroke="#ae5416" stroke-width="0.35">Fs6.cont18</text>
<text transform="translate(595.54,1048.4) rotate(-90) scale(0.9,1)" font-size="15.5" fill="#ae5416" text-anchor="end" stroke="#ae5416" stroke-width="0.35">Fs6.cont19</text>
<text transform="translate(611.87,1048.4) rotate(-90) scale(0.9,1)" font-size="15.5" fill="#ae5416" text-anchor="end" stroke="#ae5416" stroke-width="0.35">*Fs6.chr20</text>
<path d="M37.6 1124 V1133.8 H326.5 V1124" fill="none" stroke="#000" stroke-width="4.8" stroke-linejoin="miter"/>
<path d="M345.4 1124 V1133.8 H438.1 V1124" fill="none" stroke="#0000ff" stroke-width="4.8" stroke-linejoin="miter"/>
<path d="M457.3 1124 V1133.8 H613.4 V1124" fill="none" stroke="#ae5416" stroke-width="4.8" stroke-linejoin="miter"/>
<text x="174.5" y="1161.5" font-size="20" text-anchor="middle" stroke="#000" stroke-width="0.35">Core</text>
<text x="369.5" y="1157.5" font-size="20" fill="#0000ff" stroke="#0000ff" stroke-width="0.35">Fast-</text>
<text x="369.5" y="1183" font-size="20" fill="#0000ff" stroke="#0000ff" stroke-width="0.35">core</text>
<text x="496.5" y="1156" font-size="20" fill="#ae5416" stroke="#ae5416" stroke-width="0.35">Lineage-</text>
<text x="496.5" y="1181.2" font-size="20" fill="#ae5416" stroke="#ae5416" stroke-width="0.35">specific</text>
<text x="342" y="1209.9" font-size="20.1" text-anchor="middle" stroke="#000" stroke-width="0.35">* telomere-to-telomere gapless chromosome</text>
<text x="637" y="19" font-size="35" font-weight="bold" stroke="#000" stroke-width="0.35">c</text>
<line x1="725.2" x2="1171" y1="285.38" y2="285.38" stroke="#ebebeb" stroke-width="1.5"/>
<line x1="725.2" x2="1171" y1="187.55" y2="187.55" stroke="#ebebeb" stroke-width="1.5"/>
<line x1="725.2" x2="1171" y1="89.72" y2="89.72" stroke="#ebebeb" stroke-width="1.5"/>
<line x1="725.2" x2="1171" y1="334.3" y2="334.3" stroke="#ebebeb" stroke-width="2"/>
<line x1="725.2" x2="1171" y1="236.47" y2="236.47" stroke="#ebebeb" stroke-width="2"/>
<line x1="725.2" x2="1171" y1="138.63" y2="138.63" stroke="#ebebeb" stroke-width="2"/>
<line x1="725.2" x2="1171" y1="40.8" y2="40.8" stroke="#ebebeb" stroke-width="2"/>
<line x1="742.8" x2="742.8" y1="5.5" y2="351.2" stroke="#ebebeb" stroke-width="2"/>
<line x1="772.1" x2="772.1" y1="5.5" y2="351.2" stroke="#ebebeb" stroke-width="2"/>
<line x1="801.4" x2="801.4" y1="5.5" y2="351.2" stroke="#ebebeb" stroke-width="2"/>
<line x1="830.7" x2="830.7" y1="5.5" y2="351.2" stroke="#ebebeb" stroke-width="2"/>
<line x1="860" x2="860" y1="5.5" y2="351.2" stroke="#ebebeb" stroke-width="2"/>
<line x1="889.3" x2="889.3" y1="5.5" y2="351.2" stroke="#ebebeb" stroke-width="2"/>
<line x1="918.6" x2="918.6" y1="5.5" y2="351.2" stroke="#ebebeb" stroke-width="2"/>
<line x1="947.9" x2="947.9" y1="5.5" y2="351.2" stroke="#ebebeb" stroke-width="2"/>
<line x1="977.2" x2="977.2" y1="5.5" y2="351.2" stroke="#ebebeb" stroke-width="2"/>
<line x1="1006.5" x2="1006.5" y1="5.5" y2="351.2" stroke="#ebebeb" stroke-width="2"/>
<line x1="1035.8" x2="1035.8" y1="5.5" y2="351.2" stroke="#ebebeb" stroke-width="2"/>
<line x1="1065.1" x2="1065.1" y1="5.5" y2="351.2" stroke="#ebebeb" stroke-width="2"/>
<line x1="1094.4" x2="1094.4" y1="5.5" y2="351.2" stroke="#ebebeb" stroke-width="2"/>
<line x1="1123.7" x2="1123.7" y1="5.5" y2="351.2" stroke="#ebebeb" stroke-width="2"/>
<line x1="1153" x2="1153" y1="5.5" y2="351.2" stroke="#ebebeb" stroke-width="2"/>
<rect x="733" y="16.5" width="283.7" height="111.7" fill="#fff"/>
<line x1="720.2" x2="725.2" y1="334.3" y2="334.3" stroke="#222" stroke-width="2.1"/>
<text transform="translate(715.98,334.8) rotate(-90) scale(1,1)" font-size="16.6" fill="#4d4d4d" text-anchor="middle" stroke="#4d4d4d" stroke-width="0.35">0</text>
<line x1="720.2" x2="725.2" y1="236.47" y2="236.47" stroke="#222" stroke-width="2.1"/>
<text transform="translate(715.98,236.97) rotate(-90) scale(1,1)" font-size="16.6" fill="#4d4d4d" text-anchor="middle" stroke="#4d4d4d" stroke-width="0.35">20</text>
<line x1="720.2" x2="725.2" y1="138.63" y2="138.63" stroke="#222" stroke-width="2.1"/>
<text transform="translate(715.98,139.13) rotate(-90) scale(1,1)" font-size="16.6" fill="#4d4d4d" text-anchor="middle" stroke="#4d4d4d" stroke-width="0.35">40</text>
<line x1="720.2" x2="725.2" y1="40.8" y2="40.8" stroke="#222" stroke-width="2.1"/>
<text transform="translate(715.98,41.3) rotate(-90) scale(1,1)" font-size="16.6" fill="#4d4d4d" text-anchor="middle" stroke="#4d4d4d" stroke-width="0.35">60</text>
<text x="751.2" y="37.5" font-size="16" stroke="#000" stroke-width="0.35">Type</text>
<line x1="751.9" x2="751.9" y1="46.5" y2="68.5" stroke="#333" stroke-width="1.1"/>
<rect x="742.4" y="50.9" width="19" height="13.2" fill="#e64b35" stroke="#333" stroke-width="1.1"/>
<line x1="742.4" x2="761.4" y1="57.5" y2="57.5" stroke="#333" stroke-width="1.1"/>
<text x="771.8" y="63.1" font-size="14.1" stroke="#000" stroke-width="0.35">CC = Core chromosome</text>
<line x1="751.9" x2="751.9" y1="72.1" y2="94.1" stroke="#333" stroke-width="1.1"/>
<rect x="742.4" y="76.5" width="19" height="13.2" fill="#00a087" stroke="#333" stroke-width="1.1"/>
<line x1="742.4" x2="761.4" y1="83.1" y2="83.1" stroke="#333" stroke-width="1.1"/>
<text x="771.8" y="88.7" font-size="14.1" stroke="#000" stroke-width="0.35">FCC = Fast-core chromosome</text>
<line x1="751.9" x2="751.9" y1="97.7" y2="119.7" stroke="#333" stroke-width="1.1"/>
<rect x="742.4" y="102.1" width="19" height="13.2" fill="#4dbbd5" stroke="#333" stroke-width="1.1"/>
<line x1="742.4" x2="761.4" y1="108.7" y2="108.7" stroke="#333" stroke-width="1.1"/>
<text x="771.8" y="114.3" font-size="14.1" stroke="#000" stroke-width="0.35">LSC = Lineage-specific chromosome</text>
<line x1="742.8" x2="742.8" y1="305.44" y2="323.54" stroke="#000" stroke-width="2.2"/>
<line x1="738.3" x2="747.3" y1="305.44" y2="305.44" stroke="#000" stroke-width="2.1"/>
<line x1="738.3" x2="747.3" y1="323.54" y2="323.54" stroke="#000" stroke-width="2.1"/>
<rect x="733.95" y="312.29" width="17.7" height="10.27" fill="#e64b35" stroke="#000" stroke-width="1.3"/>
<line x1="733.95" x2="751.65" y1="317.18" y2="317.18" stroke="#000" stroke-width="2.4"/>
<line x1="772.1" x2="772.1" y1="307.64" y2="317.18" stroke="#000" stroke-width="2.2"/>
<line x1="767.6" x2="776.6" y1="307.64" y2="307.64" stroke="#000" stroke-width="2.1"/>
<line x1="767.6" x2="776.6" y1="317.18" y2="317.18" stroke="#000" stroke-width="2.1"/>
<rect x="763.25" y="308.37" width="17.7" height="4.16" fill="#e64b35" stroke="#000" stroke-width="1.3"/>
<line x1="763.25" x2="780.95" y1="310.33" y2="310.33" stroke="#000" stroke-width="2.4"/>
<line x1="801.4" x2="801.4" y1="286.85" y2="312.53" stroke="#000" stroke-width="2.2"/>
<line x1="796.9" x2="805.9" y1="286.85" y2="286.85" stroke="#000" stroke-width="2.1"/>
<line x1="796.9" x2="805.9" y1="312.53" y2="312.53" stroke="#000" stroke-width="2.1"/>
<rect x="792.55" y="299.72" width="17.7" height="10.61" fill="#e64b35" stroke="#000" stroke-width="1.3"/>
<line x1="792.55" x2="810.25" y1="304.95" y2="304.95" stroke="#000" stroke-width="2.4"/>
<line x1="830.7" x2="830.7" y1="305.93" y2="320.6" stroke="#000" stroke-width="2.2"/>
<line x1="826.2" x2="835.2" y1="305.93" y2="305.93" stroke="#000" stroke-width="2.1"/>
<line x1="826.2" x2="835.2" y1="320.6" y2="320.6" stroke="#000" stroke-width="2.1"/>
<rect x="821.85" y="309.84" width="17.7" height="8.56" fill="#e64b35" stroke="#000" stroke-width="1.3"/>
<line x1="821.85" x2="839.55" y1="317.18" y2="317.18" stroke="#000" stroke-width="2.4"/>
<line x1="860" x2="860" y1="295.41" y2="321.58" stroke="#000" stroke-width="2.2"/>
<line x1="855.5" x2="864.5" y1="295.41" y2="295.41" stroke="#000" stroke-width="2.1"/>
<line x1="855.5" x2="864.5" y1="321.58" y2="321.58" stroke="#000" stroke-width="2.1"/>
<rect x="851.15" y="303.97" width="17.7" height="10.76" fill="#e64b35" stroke="#000" stroke-width="1.3"/>
<line x1="851.15" x2="868.85" y1="314.24" y2="314.24" stroke="#000" stroke-width="2.4"/>
<line x1="889.3" x2="889.3" y1="277.56" y2="317.18" stroke="#000" stroke-width="2.2"/>
<line x1="884.8" x2="893.8" y1="277.56" y2="277.56" stroke="#000" stroke-width="2.1"/>
<line x1="884.8" x2="893.8" y1="317.18" y2="317.18" stroke="#000" stroke-width="2.1"/>
<rect x="880.45" y="296.63" width="17.7" height="14.68" fill="#e64b35" stroke="#000" stroke-width="1.3"/>
<line x1="880.45" x2="898.15" y1="306.66" y2="306.66" stroke="#000" stroke-width="2.4"/>
<line x1="918.6" x2="918.6" y1="252.61" y2="318.4" stroke="#000" stroke-width="2.2"/>
<line x1="914.1" x2="923.1" y1="252.61" y2="252.61" stroke="#000" stroke-width="2.1"/>
<line x1="914.1" x2="923.1" y1="318.4" y2="318.4" stroke="#000" stroke-width="2.1"/>
<rect x="909.75" y="262.39" width="17.7" height="38.64" fill="#00a087" stroke="#000" stroke-width="1.3"/>
<line x1="909.75" x2="927.45" y1="289" y2="289" stroke="#000" stroke-width="2.4"/>
<line x1="947.9" x2="947.9" y1="295.8" y2="320.6" stroke="#000" stroke-width="2.2"/>
<line x1="943.4" x2="952.4" y1="295.8" y2="295.8" stroke="#000" stroke-width="2.1"/>
<line x1="943.4" x2="952.4" y1="320.6" y2="320.6" stroke="#000" stroke-width="2.1"/>
<rect x="939.05" y="297.61" width="17.7" height="9.78" fill="#e64b35" stroke="#000" stroke-width="1.3"/>
<line x1="939.05" x2="956.75" y1="302.99" y2="302.99" stroke="#000" stroke-width="2.4"/>
<line x1="977.2" x2="977.2" y1="297.86" y2="307.64" stroke="#000" stroke-width="2.2"/>
<line x1="972.7" x2="981.7" y1="297.86" y2="297.86" stroke="#000" stroke-width="2.1"/>
<line x1="972.7" x2="981.7" y1="307.64" y2="307.64" stroke="#000" stroke-width="2.1"/>
<rect x="968.35" y="299.72" width="17.7" height="7.19" fill="#e64b35" stroke="#000" stroke-width="1.3"/>
<line x1="968.35" x2="986.05" y1="303.48" y2="303.48" stroke="#000" stroke-width="2.4"/>
<line x1="1006.5" x2="1006.5" y1="266.31" y2="316.2" stroke="#000" stroke-width="2.2"/>
<line x1="1002" x2="1011" y1="266.31" y2="266.31" stroke="#000" stroke-width="2.1"/>
<line x1="1002" x2="1011" y1="316.2" y2="316.2" stroke="#000" stroke-width="2.1"/>
<rect x="997.65" y="285.87" width="17.7" height="22.5" fill="#e64b35" stroke="#000" stroke-width="1.3"/>
<line x1="997.65" x2="1015.35" y1="299.32" y2="299.32" stroke="#000" stroke-width="2.4"/>
<line x1="1035.8" x2="1035.8" y1="277.07" y2="313.75" stroke="#000" stroke-width="2.2"/>
<line x1="1031.3" x2="1040.3" y1="277.07" y2="277.07" stroke="#000" stroke-width="2.1"/>
<line x1="1031.3" x2="1040.3" y1="313.75" y2="313.75" stroke="#000" stroke-width="2.1"/>
<rect x="1026.95" y="278.53" width="17.7" height="24.7" fill="#00a087" stroke="#000" stroke-width="1.3"/>
<line x1="1026.95" x2="1044.65" y1="288.56" y2="288.56" stroke="#000" stroke-width="2.4"/>
<line x1="1065.1" x2="1065.1" y1="271.2" y2="318.01" stroke="#000" stroke-width="2.2"/>
<line x1="1060.6" x2="1069.6" y1="271.2" y2="271.2" stroke="#000" stroke-width="2.1"/>
<line x1="1060.6" x2="1069.6" y1="318.01" y2="318.01" stroke="#000" stroke-width="2.1"/>
<rect x="1056.25" y="288.56" width="17.7" height="19.57" fill="#00a087" stroke="#000" stroke-width="1.3"/>
<line x1="1056.25" x2="1073.95" y1="294.19" y2="294.19" stroke="#000" stroke-width="2.4"/>
<line x1="1094.4" x2="1094.4" y1="72.59" y2="274.13" stroke="#000" stroke-width="2.2"/>
<line x1="1089.9" x2="1098.9" y1="72.59" y2="72.59" stroke="#000" stroke-width="2.1"/>
<line x1="1089.9" x2="1098.9" y1="274.13" y2="274.13" stroke="#000" stroke-width="2.1"/>
<rect x="1085.55" y="142.55" width="17.7" height="79.73" fill="#4dbbd5" stroke="#000" stroke-width="1.3"/>
<line x1="1085.55" x2="1103.25" y1="192.44" y2="192.44" stroke="#000" stroke-width="2.4"/>
<line x1="1123.7" x2="1123.7" y1="252.61" y2="318.4" stroke="#000" stroke-width="2.2"/>
<line x1="1119.2" x2="1128.2" y1="252.61" y2="252.61" stroke="#000" stroke-width="2.1"/>
<line x1="1119.2" x2="1128.2" y1="318.4" y2="318.4" stroke="#000" stroke-width="2.1"/>
<rect x="1114.85" y="278.05" width="17.7" height="26.9" fill="#00a087" stroke="#000" stroke-width="1.3"/>
<line x1="1114.85" x2="1132.55" y1="292.72" y2="292.72" stroke="#000" stroke-width="2.4"/>
<line x1="1153" x2="1153" y1="283.92" y2="323.54" stroke="#000" stroke-width="2.2"/>
<line x1="1148.5" x2="1157.5" y1="283.92" y2="283.92" stroke="#000" stroke-width="2.1"/>
<line x1="1148.5" x2="1157.5" y1="323.54" y2="323.54" stroke="#000" stroke-width="2.1"/>
<rect x="1144.15" y="300.55" width="17.7" height="14.68" fill="#e64b35" stroke="#000" stroke-width="1.3"/>
<line x1="1144.15" x2="1161.85" y1="307.88" y2="307.88" stroke="#000" stroke-width="2.4"/>
<rect x="725.2" y="5.5" width="445.8" height="345.7" fill="none" stroke="#2e2e2e" stroke-width="2.4"/>
<text transform="translate(685.5,165.8) rotate(-90) scale(1,1)" font-size="20" fill="#000" text-anchor="middle" stroke="#000" stroke-width="0.35">Repeat elements (%)</text>
<path d="M1094.4 33.5 V26.4 H1153 V33.5" fill="none" stroke="#000" stroke-width="1.7"/>
<text x="1123.7" y="29" font-size="19.5" text-anchor="middle" stroke="#000" stroke-width="0.35">****</text>
<path d="M1094.4 63.7 V56.1 H1123.7 V63.7" fill="none" stroke="#000" stroke-width="1.7"/>
<text x="1109.3" y="58.9" font-size="19.5" text-anchor="middle" stroke="#000" stroke-width="0.35">****</text>
<path d="M1123.7 94 V86.3 H1153 V94" fill="none" stroke="#000" stroke-width="1.7"/>
<text x="1138.5" y="89" font-size="19.5" text-anchor="middle" stroke="#000" stroke-width="0.35">**</text>
<text x="637" y="380" font-size="35" font-weight="bold" stroke="#000" stroke-width="0.35">d</text>
<line x1="725.2" x2="1171" y1="593.43" y2="593.43" stroke="#ebebeb" stroke-width="1.5"/>
<line x1="725.2" x2="1171" y1="487.88" y2="487.88" stroke="#ebebeb" stroke-width="1.5"/>
<line x1="725.2" x2="1171" y1="382.33" y2="382.33" stroke="#ebebeb" stroke-width="1.5"/>
<line x1="725.2" x2="1171" y1="646.2" y2="646.2" stroke="#ebebeb" stroke-width="2"/>
<line x1="725.2" x2="1171" y1="540.65" y2="540.65" stroke="#ebebeb" stroke-width="2"/>
<line x1="725.2" x2="1171" y1="435.1" y2="435.1" stroke="#ebebeb" stroke-width="2"/>
<line x1="742.8" x2="742.8" y1="359.2" y2="663.4" stroke="#ebebeb" stroke-width="2"/>
<line x1="772.1" x2="772.1" y1="359.2" y2="663.4" stroke="#ebebeb" stroke-width="2"/>
<line x1="801.4" x2="801.4" y1="359.2" y2="663.4" stroke="#ebebeb" stroke-width="2"/>
<line x1="830.7" x2="830.7" y1="359.2" y2="663.4" stroke="#ebebeb" stroke-width="2"/>
<line x1="860" x2="860" y1="359.2" y2="663.4" stroke="#ebebeb" stroke-width="2"/>
<line x1="889.3" x2="889.3" y1="359.2" y2="663.4" stroke="#ebebeb" stroke-width="2"/>
<line x1="918.6" x2="918.6" y1="359.2" y2="663.4" stroke="#ebebeb" stroke-width="2"/>
<line x1="947.9" x2="947.9" y1="359.2" y2="663.4" stroke="#ebebeb" stroke-width="2"/>
<line x1="977.2" x2="977.2" y1="359.2" y2="663.4" stroke="#ebebeb" stroke-width="2"/>
<line x1="1006.5" x2="1006.5" y1="359.2" y2="663.4" stroke="#ebebeb" stroke-width="2"/>
<line x1="1035.8" x2="1035.8" y1="359.2" y2="663.4" stroke="#ebebeb" stroke-width="2"/>
<line x1="1065.1" x2="1065.1" y1="359.2" y2="663.4" stroke="#ebebeb" stroke-width="2"/>
<line x1="1094.4" x2="1094.4" y1="359.2" y2="663.4" stroke="#ebebeb" stroke-width="2"/>
<line x1="1123.7" x2="1123.7" y1="359.2" y2="663.4" stroke="#ebebeb" stroke-width="2"/>
<line x1="1153" x2="1153" y1="359.2" y2="663.4" stroke="#ebebeb" stroke-width="2"/>
<line x1="720.2" x2="725.2" y1="646.2" y2="646.2" stroke="#222" stroke-width="2.1"/>
<text transform="translate(715.98,646.7) rotate(-90) scale(1,1)" font-size="16.6" fill="#4d4d4d" text-anchor="middle" stroke="#4d4d4d" stroke-width="0.35">0</text>
<line x1="720.2" x2="725.2" y1="540.65" y2="540.65" stroke="#222" stroke-width="2.1"/>
<text transform="translate(715.98,541.15) rotate(-90) scale(1,1)" font-size="16.6" fill="#4d4d4d" text-anchor="middle" stroke="#4d4d4d" stroke-width="0.35">20</text>
<line x1="720.2" x2="725.2" y1="435.1" y2="435.1" stroke="#222" stroke-width="2.1"/>
<text transform="translate(715.98,435.6) rotate(-90) scale(1,1)" font-size="16.6" fill="#4d4d4d" text-anchor="middle" stroke="#4d4d4d" stroke-width="0.35">40</text>
<line x1="742.8" x2="742.8" y1="587.3" y2="606.09" stroke="#000" stroke-width="2.2"/>
<line x1="738.3" x2="747.3" y1="587.3" y2="587.3" stroke="#000" stroke-width="2.1"/>
<line x1="738.3" x2="747.3" y1="606.09" y2="606.09" stroke="#000" stroke-width="2.1"/>
<rect x="733.95" y="595.8" width="17.7" height="8.44" fill="#e64b35" stroke="#000" stroke-width="1.3"/>
<line x1="733.95" x2="751.65" y1="602.13" y2="602.13" stroke="#000" stroke-width="2.4"/>
<line x1="772.1" x2="772.1" y1="572.47" y2="585.51" stroke="#000" stroke-width="2.2"/>
<line x1="767.6" x2="776.6" y1="572.47" y2="572.47" stroke="#000" stroke-width="2.1"/>
<line x1="767.6" x2="776.6" y1="585.51" y2="585.51" stroke="#000" stroke-width="2.1"/>
<rect x="763.25" y="574.43" width="17.7" height="8.44" fill="#e64b35" stroke="#000" stroke-width="1.3"/>
<line x1="763.25" x2="780.95" y1="579.18" y2="579.18" stroke="#000" stroke-width="2.4"/>
<line x1="801.4" x2="801.4" y1="535.06" y2="565.98" stroke="#000" stroke-width="2.2"/>
<line x1="796.9" x2="805.9" y1="535.06" y2="535.06" stroke="#000" stroke-width="2.1"/>
<line x1="796.9" x2="805.9" y1="565.98" y2="565.98" stroke="#000" stroke-width="2.1"/>
<rect x="792.55" y="549.89" width="17.7" height="12.67" fill="#e64b35" stroke="#000" stroke-width="1.3"/>
<line x1="792.55" x2="810.25" y1="553.84" y2="553.84" stroke="#000" stroke-width="2.4"/>
<line x1="830.7" x2="830.7" y1="586.83" y2="596.43" stroke="#000" stroke-width="2.2"/>
<line x1="826.2" x2="835.2" y1="586.83" y2="586.83" stroke="#000" stroke-width="2.1"/>
<line x1="826.2" x2="835.2" y1="596.43" y2="596.43" stroke="#000" stroke-width="2.1"/>
<rect x="821.85" y="587.83" width="17.7" height="6.65" fill="#e64b35" stroke="#000" stroke-width="1.3"/>
<line x1="821.85" x2="839.55" y1="591.31" y2="591.31" stroke="#000" stroke-width="2.4"/>
<line x1="860" x2="860" y1="575.48" y2="591.16" stroke="#000" stroke-width="2.2"/>
<line x1="855.5" x2="864.5" y1="575.48" y2="575.48" stroke="#000" stroke-width="2.1"/>
<line x1="855.5" x2="864.5" y1="591.16" y2="591.16" stroke="#000" stroke-width="2.1"/>
<rect x="851.15" y="578.65" width="17.7" height="7.55" fill="#e64b35" stroke="#000" stroke-width="1.3"/>
<line x1="851.15" x2="868.85" y1="582.34" y2="582.34" stroke="#000" stroke-width="2.4"/>
<line x1="889.3" x2="889.3" y1="548.57" y2="555.95" stroke="#000" stroke-width="2.2"/>
<line x1="884.8" x2="893.8" y1="548.57" y2="548.57" stroke="#000" stroke-width="2.1"/>
<line x1="884.8" x2="893.8" y1="555.95" y2="555.95" stroke="#000" stroke-width="2.1"/>
<rect x="880.45" y="549.89" width="17.7" height="3.96" fill="#e64b35" stroke="#000" stroke-width="1.3"/>
<line x1="880.45" x2="898.15" y1="551.73" y2="551.73" stroke="#000" stroke-width="2.4"/>
<line x1="918.6" x2="918.6" y1="458.85" y2="474.15" stroke="#000" stroke-width="2.2"/>
<line x1="914.1" x2="923.1" y1="458.85" y2="458.85" stroke="#000" stroke-width="2.1"/>
<line x1="914.1" x2="923.1" y1="474.15" y2="474.15" stroke="#000" stroke-width="2.1"/>
<rect x="909.75" y="461.75" width="17.7" height="7.12" fill="#00a087" stroke="#000" stroke-width="1.3"/>
<line x1="909.75" x2="927.45" y1="465.97" y2="465.97" stroke="#000" stroke-width="2.4"/>
<line x1="947.9" x2="947.9" y1="569.15" y2="577.59" stroke="#000" stroke-width="2.2"/>
<line x1="943.4" x2="952.4" y1="569.15" y2="569.15" stroke="#000" stroke-width="2.1"/>
<line x1="943.4" x2="952.4" y1="577.59" y2="577.59" stroke="#000" stroke-width="2.1"/>
<rect x="939.05" y="569.83" width="17.7" height="4.06" fill="#e64b35" stroke="#000" stroke-width="1.3"/>
<line x1="939.05" x2="956.75" y1="572.32" y2="572.32" stroke="#000" stroke-width="2.4"/>
<line x1="977.2" x2="977.2" y1="577.22" y2="581.02" stroke="#000" stroke-width="2.2"/>
<line x1="972.7" x2="981.7" y1="577.22" y2="577.22" stroke="#000" stroke-width="2.1"/>
<line x1="972.7" x2="981.7" y1="581.02" y2="581.02" stroke="#000" stroke-width="2.1"/>
<rect x="968.35" y="577.59" width="17.7" height="2.9" fill="#e64b35" stroke="#000" stroke-width="1.3"/>
<line x1="968.35" x2="986.05" y1="579.18" y2="579.18" stroke="#000" stroke-width="2.4"/>
<line x1="1006.5" x2="1006.5" y1="529.57" y2="549.09" stroke="#000" stroke-width="2.2"/>
<line x1="1002" x2="1011" y1="529.57" y2="529.57" stroke="#000" stroke-width="2.1"/>
<line x1="1002" x2="1011" y1="549.09" y2="549.09" stroke="#000" stroke-width="2.1"/>
<rect x="997.65" y="536.96" width="17.7" height="5.28" fill="#e64b35" stroke="#000" stroke-width="1.3"/>
<line x1="997.65" x2="1015.35" y1="538.8" y2="538.8" stroke="#000" stroke-width="2.4"/>
<line x1="1035.8" x2="1035.8" y1="498.96" y2="505.55" stroke="#000" stroke-width="2.2"/>
<line x1="1031.3" x2="1040.3" y1="498.96" y2="498.96" stroke="#000" stroke-width="2.1"/>
<line x1="1031.3" x2="1040.3" y1="505.55" y2="505.55" stroke="#000" stroke-width="2.1"/>
<rect x="1026.95" y="499.75" width="17.7" height="2.9" fill="#00a087" stroke="#000" stroke-width="1.3"/>
<line x1="1026.95" x2="1044.65" y1="501.6" y2="501.6" stroke="#000" stroke-width="2.4"/>
<line x1="1065.1" x2="1065.1" y1="489.99" y2="502.12" stroke="#000" stroke-width="2.2"/>
<line x1="1060.6" x2="1069.6" y1="489.99" y2="489.99" stroke="#000" stroke-width="2.1"/>
<line x1="1060.6" x2="1069.6" y1="502.12" y2="502.12" stroke="#000" stroke-width="2.1"/>
<rect x="1056.25" y="493.15" width="17.7" height="7.92" fill="#00a087" stroke="#000" stroke-width="1.3"/>
<line x1="1056.25" x2="1073.95" y1="497.37" y2="497.37" stroke="#000" stroke-width="2.4"/>
<line x1="1094.4" x2="1094.4" y1="417.68" y2="546.19" stroke="#000" stroke-width="2.2"/>
<line x1="1089.9" x2="1098.9" y1="417.68" y2="417.68" stroke="#000" stroke-width="2.1"/>
<line x1="1089.9" x2="1098.9" y1="546.19" y2="546.19" stroke="#000" stroke-width="2.1"/>
<rect x="1085.55" y="470.46" width="17.7" height="35.89" fill="#4dbbd5" stroke="#000" stroke-width="1.3"/>
<line x1="1085.55" x2="1103.25" y1="487.88" y2="487.88" stroke="#000" stroke-width="2.4"/>
<line x1="1123.7" x2="1123.7" y1="459.38" y2="504.24" stroke="#000" stroke-width="2.2"/>
<line x1="1119.2" x2="1128.2" y1="459.38" y2="459.38" stroke="#000" stroke-width="2.1"/>
<line x1="1119.2" x2="1128.2" y1="504.24" y2="504.24" stroke="#000" stroke-width="2.1"/>
<rect x="1114.85" y="471.51" width="17.7" height="29.03" fill="#00a087" stroke="#000" stroke-width="1.3"/>
<line x1="1114.85" x2="1132.55" y1="493.15" y2="493.15" stroke="#000" stroke-width="2.4"/>
<line x1="1153" x2="1153" y1="529.57" y2="605.56" stroke="#000" stroke-width="2.2"/>
<line x1="1148.5" x2="1157.5" y1="529.57" y2="529.57" stroke="#000" stroke-width="2.1"/>
<line x1="1148.5" x2="1157.5" y1="605.56" y2="605.56" stroke="#000" stroke-width="2.1"/>
<rect x="1144.15" y="554.37" width="17.7" height="31.66" fill="#e64b35" stroke="#000" stroke-width="1.3"/>
<line x1="1144.15" x2="1161.85" y1="575.48" y2="575.48" stroke="#000" stroke-width="2.4"/>
<rect x="725.2" y="359.2" width="445.8" height="304.2" fill="none" stroke="#2e2e2e" stroke-width="2.4"/>
<line x1="742.8" x2="742.8" y1="663.4" y2="667.7" stroke="#222" stroke-width="2.2"/>
<text x="742.8" y="683.9" font-size="15" text-anchor="middle" stroke="#000" stroke-width="0.35">1</text>
<line x1="772.1" x2="772.1" y1="663.4" y2="667.7" stroke="#222" stroke-width="2.2"/>
<text x="772.1" y="683.9" font-size="15" text-anchor="middle" stroke="#000" stroke-width="0.35">2</text>
<line x1="801.4" x2="801.4" y1="663.4" y2="667.7" stroke="#222" stroke-width="2.2"/>
<text x="801.4" y="683.9" font-size="15" text-anchor="middle" stroke="#000" stroke-width="0.35">3</text>
<line x1="830.7" x2="830.7" y1="663.4" y2="667.7" stroke="#222" stroke-width="2.2"/>
<text x="830.7" y="683.9" font-size="15" text-anchor="middle" stroke="#000" stroke-width="0.35">4</text>
<line x1="860" x2="860" y1="663.4" y2="667.7" stroke="#222" stroke-width="2.2"/>
<text x="860" y="683.9" font-size="15" text-anchor="middle" stroke="#000" stroke-width="0.35">5</text>
<line x1="889.3" x2="889.3" y1="663.4" y2="667.7" stroke="#222" stroke-width="2.2"/>
<text x="889.3" y="683.9" font-size="15" text-anchor="middle" stroke="#000" stroke-width="0.35">6</text>
<line x1="918.6" x2="918.6" y1="663.4" y2="667.7" stroke="#222" stroke-width="2.2"/>
<text x="918.6" y="683.9" font-size="15" text-anchor="middle" stroke="#000" stroke-width="0.35">7</text>
<line x1="947.9" x2="947.9" y1="663.4" y2="667.7" stroke="#222" stroke-width="2.2"/>
<text x="947.9" y="683.9" font-size="15" text-anchor="middle" stroke="#000" stroke-width="0.35">8</text>
<line x1="977.2" x2="977.2" y1="663.4" y2="667.7" stroke="#222" stroke-width="2.2"/>
<text x="977.2" y="683.9" font-size="15" text-anchor="middle" stroke="#000" stroke-width="0.35">9</text>
<line x1="1006.5" x2="1006.5" y1="663.4" y2="667.7" stroke="#222" stroke-width="2.2"/>
<text x="1006.5" y="683.9" font-size="15" text-anchor="middle" stroke="#000" stroke-width="0.35">10</text>
<line x1="1035.8" x2="1035.8" y1="663.4" y2="667.7" stroke="#222" stroke-width="2.2"/>
<text x="1035.8" y="683.9" font-size="15" text-anchor="middle" stroke="#000" stroke-width="0.35">11</text>
<line x1="1065.1" x2="1065.1" y1="663.4" y2="667.7" stroke="#222" stroke-width="2.2"/>
<text x="1065.1" y="683.9" font-size="15" text-anchor="middle" stroke="#000" stroke-width="0.35">12</text>
<line x1="1094.4" x2="1094.4" y1="663.4" y2="667.7" stroke="#222" stroke-width="2.2"/>
<text x="1094.4" y="683.9" font-size="15" text-anchor="middle" stroke="#000" stroke-width="0.35">LS</text>
<line x1="1123.7" x2="1123.7" y1="663.4" y2="667.7" stroke="#222" stroke-width="2.2"/>
<text x="1123.7" y="683.9" font-size="15" text-anchor="middle" stroke="#000" stroke-width="0.35">FC</text>
<line x1="1153" x2="1153" y1="663.4" y2="667.7" stroke="#222" stroke-width="2.2"/>
<text x="1153" y="683.9" font-size="15" text-anchor="middle" stroke="#000" stroke-width="0.35">CC</text>
<text x="958.2" y="712.1" font-size="20" text-anchor="middle" stroke="#000" stroke-width="0.35">Chromosome &amp; Type</text>
<text transform="translate(685.5,507) rotate(-90) scale(1,1)" font-size="20" fill="#000" text-anchor="middle" stroke="#000" stroke-width="0.35">FSSC-specific gene (%)</text>
<path d="M1094.4 386 V379 H1153 V386" fill="none" stroke="#000" stroke-width="1.7"/>
<text x="1124.4" y="382.1" font-size="19.5" text-anchor="middle" stroke="#000" stroke-width="0.35">****</text>
<path d="M1094.4 411.5 V404.7 H1123.7 V411.5" fill="none" stroke="#000" stroke-width="1.7"/>
<text x="1108.4" y="399.8" font-size="15" text-anchor="middle" stroke="#000" stroke-width="0.35">ns</text>
<path d="M1123.7 436.6 V430.1 H1153 V436.6" fill="none" stroke="#000" stroke-width="1.7"/>
<text x="1138.9" y="432.6" font-size="19.5" text-anchor="middle" stroke="#000" stroke-width="0.35">****</text>
<text x="637" y="756.5" font-size="35" font-weight="bold" stroke="#000" stroke-width="0.35">e</text>
<line x1="770.3" x2="770.3" y1="740.7" y2="1160" stroke="#b8b8b8" stroke-width="0.9" stroke-dasharray="1.2 1.6"/>
<line x1="793.6" x2="793.6" y1="740.7" y2="1160" stroke="#b8b8b8" stroke-width="0.9" stroke-dasharray="1.2 1.6"/>
<line x1="858" x2="858" y1="740.7" y2="1160" stroke="#b8b8b8" stroke-width="0.9" stroke-dasharray="1.2 1.6"/>
<line x1="903.2" x2="903.2" y1="740.7" y2="1160" stroke="#b8b8b8" stroke-width="0.9" stroke-dasharray="1.2 1.6"/>
<line x1="988.7" x2="988.7" y1="740.7" y2="1160" stroke="#b8b8b8" stroke-width="0.9" stroke-dasharray="1.2 1.6"/>
<line x1="1023.3" x2="1023.3" y1="740.7" y2="1160" stroke="#b8b8b8" stroke-width="0.9" stroke-dasharray="1.2 1.6"/>
<line x1="1052.8" x2="1052.8" y1="740.7" y2="1160" stroke="#b8b8b8" stroke-width="0.9" stroke-dasharray="1.2 1.6"/>
<line x1="1080.3" x2="1080.3" y1="740.7" y2="1160" stroke="#b8b8b8" stroke-width="0.9" stroke-dasharray="1.2 1.6"/>
<line x1="1105" x2="1105" y1="740.7" y2="1160" stroke="#b8b8b8" stroke-width="0.9" stroke-dasharray="1.2 1.6"/>
<line x1="1125.5" x2="1125.5" y1="740.7" y2="1160" stroke="#b8b8b8" stroke-width="0.9" stroke-dasharray="1.2 1.6"/>
<line x1="947.3" x2="947.3" y1="740.7" y2="1160" stroke="#888" stroke-width="1" stroke-dasharray="1.2 1.4"/>
<line x1="721.7" x2="1140.7" y1="758.2" y2="758.2" stroke="#b8b8b8" stroke-width="0.9" stroke-dasharray="1.2 1.6"/>
<line x1="721.7" x2="1140.7" y1="773.3" y2="773.3" stroke="#b8b8b8" stroke-width="0.9" stroke-dasharray="1.2 1.6"/>
<line x1="721.7" x2="1140.7" y1="800.1" y2="800.1" stroke="#b8b8b8" stroke-width="0.9" stroke-dasharray="1.2 1.6"/>
<line x1="721.7" x2="1140.7" y1="893.8" y2="893.8" stroke="#b8b8b8" stroke-width="0.9" stroke-dasharray="1.2 1.6"/>
<line x1="721.7" x2="1140.7" y1="989.8" y2="989.8" stroke="#b8b8b8" stroke-width="0.9" stroke-dasharray="1.2 1.6"/>
<rect x="819.48" y="801.2" width="1.9" height="1.9" fill="#d42a1e"/>
<rect x="852.66" y="807.49" width="1.9" height="1.9" fill="#d42a1e"/>
<rect x="809.36" y="817.91" width="2.1" height="2.1" fill="#d42a1e"/>
<rect x="854.25" y="802.8" width="2.1" height="2.1" fill="#dc4e1a"/>
<rect x="803.38" y="805.76" width="1.9" height="1.9" fill="#d2b414"/>
<rect x="794.06" y="809.32" width="2.1" height="2.1" fill="#46cc28"/>
<rect x="819.31" y="801.04" width="2.1" height="2.1" fill="#d42a1e"/>
<rect x="804.07" y="802.99" width="2.1" height="2.1" fill="#a8d20e"/>
<rect x="804.35" y="810.44" width="1.9" height="1.9" fill="#e0861a"/>
<rect x="844.53" y="806.36" width="2.1" height="2.1" fill="#d42a1e"/>
<rect x="835.88" y="807.25" width="1.7" height="1.7" fill="#a8d20e"/>
<rect x="795.43" y="804.78" width="1.7" height="1.7" fill="#d2b414"/>
<rect x="854.9" y="809.81" width="1.7" height="1.7" fill="#d42a1e"/>
<rect x="795.93" y="820.76" width="1.7" height="1.7" fill="#46cc28"/>
<rect x="843.55" y="822.7" width="1.7" height="1.7" fill="#e0861a"/>
<rect x="823.51" y="802.12" width="2.1" height="2.1" fill="#d42a1e"/>
<rect x="854.76" y="827.38" width="2.1" height="2.1" fill="#d42a1e"/>
<rect x="837.64" y="815.83" width="1.9" height="1.9" fill="#d42a1e"/>
<rect x="807.4" y="804.56" width="2.1" height="2.1" fill="#dc4e1a"/>
<rect x="837.35" y="804.14" width="2.1" height="2.1" fill="#a8d20e"/>
<rect x="852.89" y="825.23" width="1.7" height="1.7" fill="#d2b414"/>
<rect x="843.66" y="828.65" width="1.7" height="1.7" fill="#d42a1e"/>
<rect x="794.31" y="809.07" width="2.1" height="2.1" fill="#d42a1e"/>
<rect x="845.68" y="826.52" width="1.9" height="1.9" fill="#dc4e1a"/>
<rect x="813.48" y="802.26" width="2.1" height="2.1" fill="#d42a1e"/>
<rect x="829.34" y="821.75" width="2.1" height="2.1" fill="#d42a1e"/>
<rect x="811.57" y="815.37" width="1.7" height="1.7" fill="#e0861a"/>
<rect x="809.29" y="811.85" width="2.1" height="2.1" fill="#dc4e1a"/>
<rect x="799.48" y="822.06" width="2.1" height="2.1" fill="#a8d20e"/>
<rect x="794.93" y="821.76" width="1.9" height="1.9" fill="#dc4e1a"/>
<rect x="831.96" y="808.64" width="1.9" height="1.9" fill="#d42a1e"/>
<rect x="794.44" y="809.48" width="2.1" height="2.1" fill="#e0861a"/>
<rect x="844.47" y="802.71" width="1.9" height="1.9" fill="#a8d20e"/>
<rect x="824.24" y="807.56" width="1.9" height="1.9" fill="#d42a1e"/>
<rect x="847.25" y="802.64" width="1.7" height="1.7" fill="#d2b414"/>
<rect x="819.65" y="804.59" width="1.9" height="1.9" fill="#d42a1e"/>
<rect x="819.97" y="801.26" width="1.9" height="1.9" fill="#dc4e1a"/>
<rect x="817.8" y="825.54" width="2.1" height="2.1" fill="#dc4e1a"/>
<rect x="805.93" y="816.24" width="1.9" height="1.9" fill="#46cc28"/>
<rect x="795" y="825.71" width="2.1" height="2.1" fill="#d42a1e"/>
<rect x="835.08" y="811.56" width="1.7" height="1.7" fill="#d2b414"/>
<rect x="830.55" y="809.02" width="1.9" height="1.9" fill="#a8d20e"/>
<rect x="819.35" y="801.46" width="1.9" height="1.9" fill="#a8d20e"/>
<rect x="836.07" y="815.36" width="1.9" height="1.9" fill="#d42a1e"/>
<rect x="795.5" y="808.58" width="2.1" height="2.1" fill="#d42a1e"/>
<rect x="832.64" y="816.15" width="2.1" height="2.1" fill="#d42a1e"/>
<rect x="803.96" y="828.16" width="1.7" height="1.7" fill="#d42a1e"/>
<rect x="822.3" y="813.19" width="1.9" height="1.9" fill="#a8d20e"/>
<rect x="840.54" y="804.53" width="2.1" height="2.1" fill="#d42a1e"/>
<rect x="856.35" y="827.43" width="2.1" height="2.1" fill="#dc4e1a"/>
<rect x="833.96" y="804.66" width="1.7" height="1.7" fill="#d2b414"/>
<rect x="834.65" y="802.58" width="1.7" height="1.7" fill="#d42a1e"/>
<rect x="798.73" y="816.15" width="1.9" height="1.9" fill="#d42a1e"/>
<rect x="816.39" y="819.85" width="2.1" height="2.1" fill="#e0861a"/>
<rect x="821.57" y="824.59" width="2.1" height="2.1" fill="#dc4e1a"/>
<rect x="851.39" y="826.98" width="2.1" height="2.1" fill="#d42a1e"/>
<rect x="797.96" y="813.09" width="1.9" height="1.9" fill="#dc4e1a"/>
<rect x="829.11" y="804.86" width="1.9" height="1.9" fill="#46cc28"/>
<rect x="809.64" y="826.21" width="1.7" height="1.7" fill="#d42a1e"/>
<rect x="825.91" y="820.94" width="1.9" height="1.9" fill="#a8d20e"/>
<rect x="837.33" y="805.65" width="1.9" height="1.9" fill="#d42a1e"/>
<rect x="816.39" y="828.03" width="1.7" height="1.7" fill="#d42a1e"/>
<rect x="808.93" y="816.03" width="1.7" height="1.7" fill="#e0861a"/>
<rect x="813.8" y="803.79" width="1.9" height="1.9" fill="#d42a1e"/>
<rect x="794.42" y="811.9" width="2.1" height="2.1" fill="#e0861a"/>
<rect x="833.89" y="819.05" width="1.9" height="1.9" fill="#e0861a"/>
<rect x="824.88" y="815.14" width="2.1" height="2.1" fill="#46cc28"/>
<rect x="823.83" y="818.79" width="1.7" height="1.7" fill="#d42a1e"/>
<rect x="839.84" y="824.46" width="1.9" height="1.9" fill="#d42a1e"/>
<rect x="839.89" y="813.52" width="1.7" height="1.7" fill="#e0861a"/>
<rect x="840.37" y="806.5" width="1.7" height="1.7" fill="#d2b414"/>
<rect x="833.12" y="809.99" width="1.7" height="1.7" fill="#d42a1e"/>
<rect x="817.69" y="808.75" width="1.7" height="1.7" fill="#d42a1e"/>
<rect x="815.36" y="819.9" width="2.1" height="2.1" fill="#d42a1e"/>
<rect x="817.81" y="803.9" width="2.1" height="2.1" fill="#d42a1e"/>
<rect x="846.37" y="824.33" width="1.9" height="1.9" fill="#dc4e1a"/>
<rect x="821.72" y="801.21" width="1.9" height="1.9" fill="#d42a1e"/>
<rect x="807.07" y="814.27" width="2.1" height="2.1" fill="#d2b414"/>
<rect x="807.27" y="811.51" width="2.1" height="2.1" fill="#d42a1e"/>
<rect x="795.63" y="820.53" width="1.9" height="1.9" fill="#d2b414"/>
<rect x="800.71" y="802.28" width="1.9" height="1.9" fill="#d42a1e"/>
<rect x="809.35" y="806.81" width="2.1" height="2.1" fill="#d42a1e"/>
<rect x="855.52" y="808.71" width="1.7" height="1.7" fill="#d42a1e"/>
<rect x="830.66" y="812.44" width="1.7" height="1.7" fill="#d42a1e"/>
<rect x="836.86" y="819.52" width="1.7" height="1.7" fill="#d42a1e"/>
<rect x="837.91" y="806" width="1.7" height="1.7" fill="#d42a1e"/>
<rect x="853.08" y="827.26" width="1.7" height="1.7" fill="#d42a1e"/>
<rect x="844.63" y="803.96" width="2.1" height="2.1" fill="#d42a1e"/>
<rect x="819.85" y="805.01" width="1.7" height="1.7" fill="#dc4e1a"/>
<rect x="824.43" y="803.32" width="1.7" height="1.7" fill="#d2b414"/>
<rect x="797.38" y="825.23" width="1.7" height="1.7" fill="#d42a1e"/>
<rect x="811.62" y="815.37" width="1.9" height="1.9" fill="#d42a1e"/>
<rect x="823.18" y="815.8" width="1.7" height="1.7" fill="#d42a1e"/>
<rect x="821.37" y="826.31" width="1.7" height="1.7" fill="#d2b414"/>
<rect x="828.32" y="817.07" width="2.1" height="2.1" fill="#d42a1e"/>
<rect x="792.8" y="816.08" width="1.9" height="1.9" fill="#dc4e1a"/>
<rect x="799.04" y="866.65" width="2.1" height="2.1" fill="#d42a1e"/>
<rect x="804.55" y="855.87" width="1.9" height="1.9" fill="#d2b414"/>
<rect x="802.44" y="859.9" width="1.9" height="1.9" fill="#e0861a"/>
<rect x="809.17" y="833.51" width="2.1" height="2.1" fill="#d2b414"/>
<rect x="804.1" y="832.26" width="1.7" height="1.7" fill="#d42a1e"/>
<rect x="835.78" y="855.82" width="2.1" height="2.1" fill="#d2b414"/>
<rect x="843.17" y="836.92" width="2.1" height="2.1" fill="#d42a1e"/>
<rect x="838.34" y="846.25" width="1.9" height="1.9" fill="#46cc28"/>
<rect x="823.31" y="852.84" width="1.7" height="1.7" fill="#dc4e1a"/>
<rect x="851.35" y="831.18" width="2.1" height="2.1" fill="#d2b414"/>
<rect x="806.19" y="833.69" width="1.7" height="1.7" fill="#d2b414"/>
<rect x="801.06" y="866.43" width="1.7" height="1.7" fill="#d42a1e"/>
<rect x="845.94" y="840.49" width="2.1" height="2.1" fill="#d42a1e"/>
<rect x="830.3" y="842.27" width="1.9" height="1.9" fill="#d42a1e"/>
<rect x="799.18" y="846.78" width="1.7" height="1.7" fill="#d42a1e"/>
<rect x="821.81" y="870.06" width="1.7" height="1.7" fill="#d2b414"/>
<rect x="833.45" y="883.96" width="1.9" height="1.9" fill="#d2b414"/>
<rect x="847.64" y="886.12" width="2.1" height="2.1" fill="#d2b414"/>
<rect x="852.85" y="887.2" width="1.9" height="1.9" fill="#d42a1e"/>
<rect x="800.28" y="879.05" width="1.9" height="1.9" fill="#a8d20e"/>
<rect x="800.46" y="889.72" width="1.7" height="1.7" fill="#e0861a"/>
<rect x="799.25" y="886.82" width="2.1" height="2.1" fill="#d42a1e"/>
<rect x="824.49" y="891.18" width="1.9" height="1.9" fill="#d2b414"/>
<rect x="794.33" y="892.13" width="1.7" height="1.7" fill="#dc4e1a"/>
<rect x="804.67" y="886.7" width="2.1" height="2.1" fill="#d42a1e"/>
<rect x="821.43" y="884.5" width="1.9" height="1.9" fill="#e0861a"/>
<rect x="810.11" y="886.69" width="2.1" height="2.1" fill="#d42a1e"/>
<rect x="838.79" y="869.97" width="1.9" height="1.9" fill="#d42a1e"/>
<rect x="793.3" y="876.77" width="2.1" height="2.1" fill="#dc4e1a"/>
<rect x="845.36" y="892.25" width="1.9" height="1.9" fill="#d2b414"/>
<rect x="820.73" y="892.01" width="1.7" height="1.7" fill="#d42a1e"/>
<rect x="844.91" y="886.07" width="1.9" height="1.9" fill="#46cc28"/>
<rect x="794.42" y="888.74" width="1.9" height="1.9" fill="#dc4e1a"/>
<rect x="819.26" y="883.35" width="1.9" height="1.9" fill="#d42a1e"/>
<rect x="819.95" y="891.23" width="1.9" height="1.9" fill="#d42a1e"/>
<rect x="839.75" y="882.66" width="1.9" height="1.9" fill="#d42a1e"/>
<rect x="827.57" y="875.6" width="2.1" height="2.1" fill="#dc4e1a"/>
<rect x="843.86" y="879.17" width="2.1" height="2.1" fill="#e0861a"/>
<rect x="804.37" y="892.56" width="1.9" height="1.9" fill="#dc4e1a"/>
<rect x="822.14" y="870.44" width="2.1" height="2.1" fill="#d2b414"/>
<rect x="805.79" y="890.52" width="1.9" height="1.9" fill="#d2b414"/>
<rect x="822.13" y="886.05" width="2.1" height="2.1" fill="#dc4e1a"/>
<rect x="798.81" y="892.86" width="2.1" height="2.1" fill="#dc4e1a"/>
<rect x="851.54" y="874.23" width="2.1" height="2.1" fill="#d42a1e"/>
<rect x="808.19" y="892.77" width="2.1" height="2.1" fill="#dc4e1a"/>
<rect x="792.66" y="875.54" width="1.9" height="1.9" fill="#d42a1e"/>
<rect x="856.62" y="880.57" width="1.9" height="1.9" fill="#d42a1e"/>
<rect x="813.2" y="888.36" width="1.7" height="1.7" fill="#d2b414"/>
<rect x="852.72" y="873.18" width="1.7" height="1.7" fill="#d42a1e"/>
<rect x="849.97" y="874.53" width="1.9" height="1.9" fill="#d2b414"/>
<rect x="839.97" y="877.17" width="2.1" height="2.1" fill="#46cc28"/>
<rect x="846.6" y="871.44" width="1.9" height="1.9" fill="#d42a1e"/>
<rect x="825.92" y="870.87" width="1.9" height="1.9" fill="#e0861a"/>
<rect x="794.46" y="891.43" width="2.1" height="2.1" fill="#a8d20e"/>
<rect x="800.39" y="882.02" width="1.9" height="1.9" fill="#e0861a"/>
<rect x="842.74" y="884.46" width="1.7" height="1.7" fill="#d42a1e"/>
<rect x="820.02" y="885.84" width="2.1" height="2.1" fill="#d42a1e"/>
<rect x="804.08" y="887.7" width="1.7" height="1.7" fill="#d2b414"/>
<rect x="856.31" y="889.69" width="1.7" height="1.7" fill="#dc4e1a"/>
<rect x="825.35" y="882.92" width="1.7" height="1.7" fill="#d2b414"/>
<rect x="809.74" y="884.89" width="1.9" height="1.9" fill="#d2b414"/>
<rect x="848.53" y="875.99" width="1.7" height="1.7" fill="#e0861a"/>
<rect x="840.99" y="881.75" width="1.7" height="1.7" fill="#d2b414"/>
<rect x="796.71" y="882.06" width="1.9" height="1.9" fill="#d2b414"/>
<rect x="839.45" y="885.74" width="2.1" height="2.1" fill="#d42a1e"/>
<rect x="843.23" y="872.79" width="2.1" height="2.1" fill="#d42a1e"/>
<rect x="798.59" y="888.69" width="1.9" height="1.9" fill="#e0861a"/>
<rect x="826.07" y="893.1" width="1.7" height="1.7" fill="#d42a1e"/>
<rect x="832.51" y="888.97" width="2.1" height="2.1" fill="#d42a1e"/>
<rect x="849.74" y="791.39" width="1.9" height="1.9" fill="#46cc28"/>
<rect x="805.12" y="793.51" width="1.9" height="1.9" fill="#dc4e1a"/>
<rect x="803.24" y="793.04" width="1.9" height="1.9" fill="#46cc28"/>
<rect x="855.32" y="761.84" width="1.9" height="1.9" fill="#d42a1e"/>
<rect x="852.2" y="782.39" width="1.9" height="1.9" fill="#a8d20e"/>
<rect x="839.62" y="798.16" width="1.9" height="1.9" fill="#d2b414"/>
<rect x="845.45" y="773.9" width="1.9" height="1.9" fill="#dc4e1a"/>
<rect x="851.89" y="772.88" width="1.9" height="1.9" fill="#46cc28"/>
<rect x="827.57" y="773.33" width="1.9" height="1.9" fill="#d42a1e"/>
<rect x="814.51" y="772.6" width="1.9" height="1.9" fill="#d42a1e"/>
<rect x="812.81" y="895.08" width="1.9" height="1.9" fill="#d42a1e"/>
<rect x="809.11" y="897.49" width="1.9" height="1.9" fill="#d42a1e"/>
<rect x="888.78" y="829.88" width="1.7" height="1.7" fill="#e0861a"/>
<rect x="864.15" y="818.89" width="2.1" height="2.1" fill="#dc4e1a"/>
<rect x="861.1" y="823.07" width="2.1" height="2.1" fill="#d42a1e"/>
<rect x="861.91" y="816.05" width="2.1" height="2.1" fill="#e0861a"/>
<rect x="882.36" y="827.9" width="1.7" height="1.7" fill="#d42a1e"/>
<rect x="901.32" y="806.8" width="2.1" height="2.1" fill="#e0861a"/>
<rect x="890.09" y="818.86" width="1.9" height="1.9" fill="#e0861a"/>
<rect x="863.83" y="810.28" width="1.9" height="1.9" fill="#d42a1e"/>
<rect x="887.59" y="802.46" width="1.9" height="1.9" fill="#dc4e1a"/>
<rect x="857.13" y="807.67" width="1.9" height="1.9" fill="#d42a1e"/>
<rect x="899.34" y="801.14" width="1.9" height="1.9" fill="#e0861a"/>
<rect x="857.69" y="803.56" width="1.7" height="1.7" fill="#e0861a"/>
<rect x="897.2" y="821.93" width="2.1" height="2.1" fill="#e0861a"/>
<rect x="876.74" y="816.5" width="1.9" height="1.9" fill="#d42a1e"/>
<rect x="881.48" y="822.08" width="1.7" height="1.7" fill="#d42a1e"/>
<rect x="875.56" y="819" width="1.9" height="1.9" fill="#d42a1e"/>
<rect x="892.85" y="826.63" width="1.7" height="1.7" fill="#d2b414"/>
<rect x="874.39" y="807.89" width="2.1" height="2.1" fill="#d42a1e"/>
<rect x="890.83" y="823.65" width="2.1" height="2.1" fill="#e0861a"/>
<rect x="869.16" y="819.8" width="2.1" height="2.1" fill="#d42a1e"/>
<rect x="896.83" y="825.14" width="1.7" height="1.7" fill="#a8d20e"/>
<rect x="859.52" y="803.07" width="1.7" height="1.7" fill="#d2b414"/>
<rect x="867.7" y="804.45" width="1.7" height="1.7" fill="#d2b414"/>
<rect x="886.3" y="822.31" width="1.7" height="1.7" fill="#d42a1e"/>
<rect x="891.98" y="809.83" width="2.1" height="2.1" fill="#d42a1e"/>
<rect x="878.32" y="824.15" width="1.9" height="1.9" fill="#d42a1e"/>
<rect x="893.68" y="816.73" width="1.9" height="1.9" fill="#dc4e1a"/>
<rect x="893.32" y="807.05" width="1.9" height="1.9" fill="#a8d20e"/>
<rect x="882.26" y="818.21" width="1.7" height="1.7" fill="#d42a1e"/>
<rect x="868.35" y="807.57" width="2.1" height="2.1" fill="#d42a1e"/>
<rect x="888.72" y="823.2" width="1.7" height="1.7" fill="#d42a1e"/>
<rect x="874.46" y="807.02" width="2.1" height="2.1" fill="#dc4e1a"/>
<rect x="871.68" y="808.09" width="1.7" height="1.7" fill="#e0861a"/>
<rect x="867.98" y="825.34" width="1.7" height="1.7" fill="#d42a1e"/>
<rect x="868.3" y="816.69" width="1.9" height="1.9" fill="#d2b414"/>
<rect x="898.17" y="817.08" width="2.1" height="2.1" fill="#d42a1e"/>
<rect x="858.38" y="819.57" width="1.7" height="1.7" fill="#dc4e1a"/>
<rect x="895.38" y="817.16" width="2.1" height="2.1" fill="#e0861a"/>
<rect x="870.59" y="808.48" width="1.7" height="1.7" fill="#dc4e1a"/>
<rect x="891.36" y="828.01" width="1.7" height="1.7" fill="#a8d20e"/>
<rect x="893.6" y="803.68" width="2.1" height="2.1" fill="#46cc28"/>
<rect x="890.53" y="805.21" width="1.9" height="1.9" fill="#e0861a"/>
<rect x="893.93" y="827.29" width="1.9" height="1.9" fill="#d2b414"/>
<rect x="863.03" y="808.51" width="1.9" height="1.9" fill="#d2b414"/>
<rect x="864.16" y="828.35" width="1.9" height="1.9" fill="#dc4e1a"/>
<rect x="897.56" y="811.21" width="2.1" height="2.1" fill="#d42a1e"/>
<rect x="868.4" y="807.77" width="1.9" height="1.9" fill="#d42a1e"/>
<rect x="892.99" y="804.45" width="2.1" height="2.1" fill="#46cc28"/>
<rect x="899.87" y="815.39" width="1.7" height="1.7" fill="#dc4e1a"/>
<rect x="880.07" y="807.29" width="2.1" height="2.1" fill="#dc4e1a"/>
<rect x="869.85" y="825.61" width="1.9" height="1.9" fill="#a8d20e"/>
<rect x="895.61" y="823.36" width="1.7" height="1.7" fill="#dc4e1a"/>
<rect x="901.66" y="811.07" width="1.7" height="1.7" fill="#d42a1e"/>
<rect x="901.04" y="804.12" width="1.9" height="1.9" fill="#a8d20e"/>
<rect x="899.42" y="811.72" width="2.1" height="2.1" fill="#a8d20e"/>
<rect x="886.45" y="801.96" width="2.1" height="2.1" fill="#d42a1e"/>
<rect x="864.82" y="805.99" width="1.9" height="1.9" fill="#dc4e1a"/>
<rect x="880.08" y="815.68" width="2.1" height="2.1" fill="#d42a1e"/>
<rect x="880.1" y="812.11" width="1.7" height="1.7" fill="#46cc28"/>
<rect x="864.94" y="807.61" width="1.9" height="1.9" fill="#d42a1e"/>
<rect x="897.47" y="802.88" width="1.7" height="1.7" fill="#46cc28"/>
<rect x="864.75" y="801.73" width="2.1" height="2.1" fill="#d2b414"/>
<rect x="863.71" y="812.27" width="2.1" height="2.1" fill="#dc4e1a"/>
<rect x="859.21" y="802.24" width="2.1" height="2.1" fill="#d2b414"/>
<rect x="883.54" y="812.42" width="1.9" height="1.9" fill="#d42a1e"/>
<rect x="859.31" y="816.44" width="1.7" height="1.7" fill="#d2b414"/>
<rect x="875.26" y="818.86" width="2.1" height="2.1" fill="#d42a1e"/>
<rect x="859.58" y="822.68" width="2.1" height="2.1" fill="#d42a1e"/>
<rect x="891" y="822.32" width="2.1" height="2.1" fill="#dc4e1a"/>
<rect x="891.31" y="828.18" width="1.7" height="1.7" fill="#e0861a"/>
<rect x="898.93" y="851.49" width="2.1" height="2.1" fill="#dc4e1a"/>
<rect x="871.1" y="861.3" width="2.1" height="2.1" fill="#d2b414"/>
<rect x="859.27" y="864.66" width="1.7" height="1.7" fill="#46cc28"/>
<rect x="877" y="859.03" width="2.1" height="2.1" fill="#dc4e1a"/>
<rect x="880.77" y="839.01" width="2.1" height="2.1" fill="#d42a1e"/>
<rect x="874.84" y="833.84" width="1.9" height="1.9" fill="#dc4e1a"/>
<rect x="895.05" y="847.73" width="1.9" height="1.9" fill="#dc4e1a"/>
<rect x="873.44" y="831.49" width="1.9" height="1.9" fill="#a8d20e"/>
<rect x="859.37" y="859.61" width="2.1" height="2.1" fill="#d42a1e"/>
<rect x="875.64" y="833.75" width="2.1" height="2.1" fill="#d2b414"/>
<rect x="885.26" y="856.6" width="1.9" height="1.9" fill="#e0861a"/>
<rect x="885.97" y="845.23" width="2.1" height="2.1" fill="#d2b414"/>
<rect x="886.29" y="891.79" width="2.1" height="2.1" fill="#d2b414"/>
<rect x="901.1" y="892.01" width="2.1" height="2.1" fill="#e0861a"/>
<rect x="874.53" y="874.76" width="1.7" height="1.7" fill="#a8d20e"/>
<rect x="870.67" y="890.62" width="2.1" height="2.1" fill="#d42a1e"/>
<rect x="871.16" y="879.53" width="1.7" height="1.7" fill="#e0861a"/>
<rect x="881.69" y="886.6" width="1.9" height="1.9" fill="#e0861a"/>
<rect x="888.53" y="876.31" width="1.7" height="1.7" fill="#d42a1e"/>
<rect x="900.67" y="886.59" width="1.7" height="1.7" fill="#d42a1e"/>
<rect x="887.12" y="880.96" width="2.1" height="2.1" fill="#d2b414"/>
<rect x="884.54" y="892.87" width="1.9" height="1.9" fill="#e0861a"/>
<rect x="897.16" y="869.8" width="1.9" height="1.9" fill="#d42a1e"/>
<rect x="901.19" y="889.28" width="1.7" height="1.7" fill="#dc4e1a"/>
<rect x="883.2" y="875.97" width="1.9" height="1.9" fill="#e0861a"/>
<rect x="870.93" y="887.67" width="2.1" height="2.1" fill="#a8d20e"/>
<rect x="871.5" y="889.73" width="1.9" height="1.9" fill="#d42a1e"/>
<rect x="898.13" y="891.02" width="1.9" height="1.9" fill="#d42a1e"/>
<rect x="864.58" y="890.55" width="1.7" height="1.7" fill="#e0861a"/>
<rect x="876.14" y="892.93" width="1.7" height="1.7" fill="#d42a1e"/>
<rect x="874.09" y="891.46" width="1.7" height="1.7" fill="#d42a1e"/>
<rect x="870.43" y="880.03" width="1.9" height="1.9" fill="#a8d20e"/>
<rect x="865.99" y="883.88" width="2.1" height="2.1" fill="#d42a1e"/>
<rect x="889.63" y="882.98" width="1.7" height="1.7" fill="#d2b414"/>
<rect x="896.45" y="891.27" width="1.9" height="1.9" fill="#d42a1e"/>
<rect x="862.44" y="881.94" width="2.1" height="2.1" fill="#a8d20e"/>
<rect x="900.09" y="891.25" width="1.7" height="1.7" fill="#d2b414"/>
<rect x="894.17" y="873.04" width="1.7" height="1.7" fill="#e0861a"/>
<rect x="869.76" y="891.8" width="1.9" height="1.9" fill="#d42a1e"/>
<rect x="881.45" y="874.22" width="1.9" height="1.9" fill="#e0861a"/>
<rect x="874.94" y="884.28" width="1.7" height="1.7" fill="#d42a1e"/>
<rect x="877.7" y="882.14" width="1.7" height="1.7" fill="#e0861a"/>
<rect x="877.58" y="889.32" width="1.7" height="1.7" fill="#e0861a"/>
<rect x="875.53" y="888.75" width="1.9" height="1.9" fill="#d42a1e"/>
<rect x="879.69" y="888.32" width="1.9" height="1.9" fill="#d42a1e"/>
<rect x="871.74" y="892.71" width="1.9" height="1.9" fill="#d42a1e"/>
<rect x="882.17" y="887.29" width="1.7" height="1.7" fill="#e0861a"/>
<rect x="873.57" y="883.89" width="1.9" height="1.9" fill="#a8d20e"/>
<rect x="866.22" y="876.93" width="1.9" height="1.9" fill="#d42a1e"/>
<rect x="882.38" y="876.28" width="1.9" height="1.9" fill="#a8d20e"/>
<rect x="858.89" y="774.97" width="1.9" height="1.9" fill="#d42a1e"/>
<rect x="901.63" y="746.53" width="1.9" height="1.9" fill="#dc4e1a"/>
<rect x="898.47" y="775.5" width="1.9" height="1.9" fill="#d42a1e"/>
<rect x="897.85" y="797.94" width="1.9" height="1.9" fill="#d2b414"/>
<rect x="865.98" y="772.13" width="1.9" height="1.9" fill="#e0861a"/>
<rect x="861" y="772.66" width="1.9" height="1.9" fill="#a8d20e"/>
<rect x="890.62" y="772.69" width="1.9" height="1.9" fill="#e0861a"/>
<rect x="880.04" y="894.09" width="1.9" height="1.9" fill="#dc4e1a"/>
<rect x="902.27" y="802.15" width="2.1" height="2.1" fill="#dc4e1a"/>
<rect x="912.27" y="806.77" width="2.1" height="2.1" fill="#e0861a"/>
<rect x="923.3" y="825.67" width="2.1" height="2.1" fill="#d42a1e"/>
<rect x="922" y="801.33" width="2.1" height="2.1" fill="#e0861a"/>
<rect x="907.62" y="802.72" width="2.1" height="2.1" fill="#e0861a"/>
<rect x="942.33" y="820.7" width="1.9" height="1.9" fill="#d42a1e"/>
<rect x="905.06" y="814" width="2.1" height="2.1" fill="#46cc28"/>
<rect x="925.07" y="801.74" width="1.9" height="1.9" fill="#d2b414"/>
<rect x="911.39" y="803.39" width="1.9" height="1.9" fill="#a8d20e"/>
<rect x="933.11" y="803" width="1.9" height="1.9" fill="#dc4e1a"/>
<rect x="907.53" y="820.18" width="1.9" height="1.9" fill="#d2b414"/>
<rect x="912.87" y="813.73" width="2.1" height="2.1" fill="#e0861a"/>
<rect x="937.5" y="822.14" width="1.9" height="1.9" fill="#a8d20e"/>
<rect x="941.98" y="802.5" width="2.1" height="2.1" fill="#d42a1e"/>
<rect x="916.14" y="815.68" width="1.9" height="1.9" fill="#e0861a"/>
<rect x="915.48" y="824.62" width="2.1" height="2.1" fill="#d42a1e"/>
<rect x="940.3" y="812.13" width="1.9" height="1.9" fill="#d42a1e"/>
<rect x="944.94" y="812.48" width="2.1" height="2.1" fill="#46cc28"/>
<rect x="918.31" y="802.14" width="2.1" height="2.1" fill="#d42a1e"/>
<rect x="945.35" y="806.32" width="1.7" height="1.7" fill="#e0861a"/>
<rect x="933.64" y="805.09" width="1.9" height="1.9" fill="#d42a1e"/>
<rect x="904.51" y="802.34" width="1.9" height="1.9" fill="#e0861a"/>
<rect x="914.17" y="823.02" width="1.7" height="1.7" fill="#d42a1e"/>
<rect x="940.62" y="808.16" width="1.7" height="1.7" fill="#d42a1e"/>
<rect x="924.01" y="828.18" width="2.1" height="2.1" fill="#dc4e1a"/>
<rect x="938.77" y="829.63" width="1.7" height="1.7" fill="#d42a1e"/>
<rect x="917.54" y="806.47" width="1.7" height="1.7" fill="#a8d20e"/>
<rect x="944.94" y="815.47" width="1.9" height="1.9" fill="#d42a1e"/>
<rect x="926.72" y="808.73" width="1.9" height="1.9" fill="#a8d20e"/>
<rect x="914.17" y="822.79" width="2.1" height="2.1" fill="#d42a1e"/>
<rect x="904.42" y="801.43" width="1.9" height="1.9" fill="#dc4e1a"/>
<rect x="921.84" y="824.8" width="2.1" height="2.1" fill="#46cc28"/>
<rect x="943.99" y="806.7" width="1.7" height="1.7" fill="#dc4e1a"/>
<rect x="919.74" y="821.53" width="2.1" height="2.1" fill="#d42a1e"/>
<rect x="921.74" y="804.94" width="1.7" height="1.7" fill="#d42a1e"/>
<rect x="932.04" y="806.53" width="1.9" height="1.9" fill="#d2b414"/>
<rect x="933.03" y="824.63" width="1.9" height="1.9" fill="#dc4e1a"/>
<rect x="942.19" y="818.52" width="2.1" height="2.1" fill="#d2b414"/>
<rect x="908.15" y="822.4" width="2.1" height="2.1" fill="#d42a1e"/>
<rect x="940.6" y="804.42" width="1.7" height="1.7" fill="#d2b414"/>
<rect x="921.93" y="829.3" width="1.7" height="1.7" fill="#d42a1e"/>
<rect x="925.84" y="811.05" width="1.7" height="1.7" fill="#d42a1e"/>
<rect x="937.4" y="803.04" width="2.1" height="2.1" fill="#a8d20e"/>
<rect x="902.9" y="809.88" width="1.7" height="1.7" fill="#e0861a"/>
<rect x="928" y="819.06" width="1.9" height="1.9" fill="#d42a1e"/>
<rect x="923.34" y="825.34" width="1.7" height="1.7" fill="#d42a1e"/>
<rect x="905.12" y="804.43" width="1.7" height="1.7" fill="#d2b414"/>
<rect x="938.01" y="817.25" width="1.7" height="1.7" fill="#dc4e1a"/>
<rect x="908.21" y="808.3" width="2.1" height="2.1" fill="#e0861a"/>
<rect x="914.96" y="807.44" width="1.7" height="1.7" fill="#e0861a"/>
<rect x="935.53" y="824.58" width="1.7" height="1.7" fill="#e0861a"/>
<rect x="939.57" y="801.4" width="2.1" height="2.1" fill="#dc4e1a"/>
<rect x="944.88" y="826.26" width="2.1" height="2.1" fill="#e0861a"/>
<rect x="910.26" y="825.18" width="1.9" height="1.9" fill="#dc4e1a"/>
<rect x="936.71" y="807.78" width="1.9" height="1.9" fill="#d42a1e"/>
<rect x="910.86" y="802.27" width="2.1" height="2.1" fill="#d42a1e"/>
<rect x="925.42" y="826.2" width="1.9" height="1.9" fill="#d42a1e"/>
<rect x="916.11" y="803.91" width="1.9" height="1.9" fill="#e0861a"/>
<rect x="932.92" y="801.05" width="2.1" height="2.1" fill="#d42a1e"/>
<rect x="944.98" y="819.18" width="2.1" height="2.1" fill="#d42a1e"/>
<rect x="921.63" y="811.26" width="1.7" height="1.7" fill="#d2b414"/>
<rect x="942.49" y="815.61" width="1.9" height="1.9" fill="#dc4e1a"/>
<rect x="943.27" y="802.2" width="2.1" height="2.1" fill="#d42a1e"/>
<rect x="943.72" y="802.91" width="1.9" height="1.9" fill="#e0861a"/>
<rect x="924.13" y="805.16" width="2.1" height="2.1" fill="#dc4e1a"/>
<rect x="925.82" y="812.65" width="1.7" height="1.7" fill="#d42a1e"/>
<rect x="928.83" y="801.61" width="1.7" height="1.7" fill="#d42a1e"/>
<rect x="903.13" y="826.23" width="1.7" height="1.7" fill="#d42a1e"/>
<rect x="927.47" y="812.19" width="2.1" height="2.1" fill="#a8d20e"/>
<rect x="937.37" y="821.58" width="1.9" height="1.9" fill="#e0861a"/>
<rect x="923.13" y="817.96" width="2.1" height="2.1" fill="#e0861a"/>
<rect x="909.02" y="818.35" width="1.9" height="1.9" fill="#e0861a"/>
<rect x="940.32" y="813.01" width="1.7" height="1.7" fill="#d42a1e"/>
<rect x="915.1" y="803.31" width="2.1" height="2.1" fill="#d42a1e"/>
<rect x="945.89" y="827.16" width="1.7" height="1.7" fill="#d2b414"/>
<rect x="915.03" y="827.66" width="2.1" height="2.1" fill="#d2b414"/>
<rect x="905.47" y="829.66" width="2.1" height="2.1" fill="#e0861a"/>
<rect x="937.88" y="864.33" width="1.7" height="1.7" fill="#d42a1e"/>
<rect x="922.87" y="850.39" width="1.7" height="1.7" fill="#dc4e1a"/>
<rect x="937.55" y="844.12" width="1.9" height="1.9" fill="#dc4e1a"/>
<rect x="918.28" y="867.9" width="2.1" height="2.1" fill="#d2b414"/>
<rect x="925.11" y="851.34" width="1.9" height="1.9" fill="#dc4e1a"/>
<rect x="920.3" y="867.59" width="2.1" height="2.1" fill="#a8d20e"/>
<rect x="912.67" y="844.56" width="1.7" height="1.7" fill="#d42a1e"/>
<rect x="910.38" y="831.55" width="1.7" height="1.7" fill="#dc4e1a"/>
<rect x="914.74" y="855.99" width="1.7" height="1.7" fill="#d42a1e"/>
<rect x="923.04" y="830.62" width="2.1" height="2.1" fill="#46cc28"/>
<rect x="930.22" y="856.37" width="1.9" height="1.9" fill="#d42a1e"/>
<rect x="925.53" y="861.53" width="1.9" height="1.9" fill="#d2b414"/>
<rect x="910.36" y="844.56" width="2.1" height="2.1" fill="#d42a1e"/>
<rect x="942.16" y="881.34" width="1.9" height="1.9" fill="#a8d20e"/>
<rect x="921.3" y="879.39" width="2.1" height="2.1" fill="#d42a1e"/>
<rect x="922.14" y="870.63" width="2.1" height="2.1" fill="#e0861a"/>
<rect x="940.88" y="884.5" width="1.7" height="1.7" fill="#d42a1e"/>
<rect x="924.56" y="885.57" width="1.7" height="1.7" fill="#e0861a"/>
<rect x="908.31" y="887.58" width="2.1" height="2.1" fill="#dc4e1a"/>
<rect x="904.71" y="878.84" width="1.7" height="1.7" fill="#d42a1e"/>
<rect x="908.14" y="879.2" width="1.7" height="1.7" fill="#d42a1e"/>
<rect x="910.87" y="889.53" width="1.9" height="1.9" fill="#d42a1e"/>
<rect x="928.93" y="886.33" width="1.9" height="1.9" fill="#d42a1e"/>
<rect x="944.6" y="876.96" width="1.7" height="1.7" fill="#e0861a"/>
<rect x="924.94" y="869.51" width="1.9" height="1.9" fill="#d2b414"/>
<rect x="924.85" y="890.34" width="2.1" height="2.1" fill="#e0861a"/>
<rect x="907.74" y="877.02" width="1.7" height="1.7" fill="#d42a1e"/>
<rect x="917.24" y="882.86" width="2.1" height="2.1" fill="#dc4e1a"/>
<rect x="933.52" y="891.66" width="1.7" height="1.7" fill="#46cc28"/>
<rect x="932.29" y="871.41" width="1.7" height="1.7" fill="#dc4e1a"/>
<rect x="924.44" y="869.49" width="1.9" height="1.9" fill="#d42a1e"/>
<rect x="906.67" y="882.96" width="2.1" height="2.1" fill="#d42a1e"/>
<rect x="941.44" y="890.78" width="1.7" height="1.7" fill="#d42a1e"/>
<rect x="938.11" y="888.67" width="1.7" height="1.7" fill="#d42a1e"/>
<rect x="924.44" y="886.24" width="2.1" height="2.1" fill="#dc4e1a"/>
<rect x="941.21" y="882.23" width="2.1" height="2.1" fill="#dc4e1a"/>
<rect x="921.71" y="888.94" width="2.1" height="2.1" fill="#dc4e1a"/>
<rect x="934.98" y="884.89" width="1.7" height="1.7" fill="#e0861a"/>
<rect x="904.8" y="878.96" width="2.1" height="2.1" fill="#a8d20e"/>
<rect x="945.45" y="892.7" width="2.1" height="2.1" fill="#46cc28"/>
<rect x="941.63" y="893.13" width="1.7" height="1.7" fill="#e0861a"/>
<rect x="922.63" y="886.3" width="2.1" height="2.1" fill="#e0861a"/>
<rect x="928.15" y="879.22" width="1.9" height="1.9" fill="#e0861a"/>
<rect x="911.65" y="889.47" width="1.9" height="1.9" fill="#d42a1e"/>
<rect x="927.69" y="892.22" width="2.1" height="2.1" fill="#dc4e1a"/>
<rect x="908.06" y="882.57" width="2.1" height="2.1" fill="#a8d20e"/>
<rect x="940.44" y="887.14" width="1.9" height="1.9" fill="#e0861a"/>
<rect x="942.26" y="872.67" width="1.9" height="1.9" fill="#e0861a"/>
<rect x="904.52" y="885.35" width="1.9" height="1.9" fill="#dc4e1a"/>
<rect x="910.64" y="892.18" width="2.1" height="2.1" fill="#e0861a"/>
<rect x="937.27" y="758.87" width="1.9" height="1.9" fill="#e0861a"/>
<rect x="930.06" y="782.94" width="1.9" height="1.9" fill="#e0861a"/>
<rect x="905.04" y="749.37" width="1.9" height="1.9" fill="#d2b414"/>
<rect x="913.82" y="774.02" width="1.9" height="1.9" fill="#d42a1e"/>
<rect x="927.88" y="772.63" width="1.9" height="1.9" fill="#d42a1e"/>
<rect x="902.91" y="772.53" width="1.9" height="1.9" fill="#e0861a"/>
<rect x="935.43" y="772.11" width="1.9" height="1.9" fill="#e0861a"/>
<rect x="917.03" y="896.48" width="1.9" height="1.9" fill="#e0861a"/>
<rect x="949.94" y="806.97" width="1.7" height="1.7" fill="#e0861a"/>
<rect x="984.93" y="829.03" width="2.1" height="2.1" fill="#dc4e1a"/>
<rect x="968.41" y="819.04" width="1.7" height="1.7" fill="#d42a1e"/>
<rect x="961.47" y="818.54" width="2.1" height="2.1" fill="#dc4e1a"/>
<rect x="986.58" y="828.81" width="1.9" height="1.9" fill="#d2b414"/>
<rect x="968.18" y="829.27" width="1.9" height="1.9" fill="#46cc28"/>
<rect x="964.3" y="809.34" width="1.7" height="1.7" fill="#dc4e1a"/>
<rect x="985.9" y="809.87" width="1.7" height="1.7" fill="#d42a1e"/>
<rect x="953.52" y="821.54" width="2.1" height="2.1" fill="#a8d20e"/>
<rect x="975.09" y="811.38" width="1.9" height="1.9" fill="#d42a1e"/>
<rect x="958.07" y="810.78" width="1.9" height="1.9" fill="#d42a1e"/>
<rect x="981.1" y="822.09" width="2.1" height="2.1" fill="#e0861a"/>
<rect x="965.7" y="821.74" width="1.7" height="1.7" fill="#e0861a"/>
<rect x="947.03" y="815.92" width="1.9" height="1.9" fill="#d2b414"/>
<rect x="960.16" y="826.31" width="1.7" height="1.7" fill="#dc4e1a"/>
<rect x="985.96" y="805.76" width="1.9" height="1.9" fill="#d42a1e"/>
<rect x="974.74" y="808.02" width="1.7" height="1.7" fill="#a8d20e"/>
<rect x="956.72" y="805.78" width="2.1" height="2.1" fill="#e0861a"/>
<rect x="968.63" y="808.6" width="1.9" height="1.9" fill="#d42a1e"/>
<rect x="963.68" y="829.17" width="1.9" height="1.9" fill="#dc4e1a"/>
<rect x="963.81" y="817.49" width="1.9" height="1.9" fill="#d42a1e"/>
<rect x="963.29" y="825.94" width="1.7" height="1.7" fill="#d42a1e"/>
<rect x="968.46" y="811.14" width="1.7" height="1.7" fill="#46cc28"/>
<rect x="961.06" y="803.72" width="1.9" height="1.9" fill="#d42a1e"/>
<rect x="948.75" y="860.14" width="2.1" height="2.1" fill="#d42a1e"/>
<rect x="949.59" y="851.13" width="1.7" height="1.7" fill="#d42a1e"/>
<rect x="973.03" y="852.61" width="2.1" height="2.1" fill="#d42a1e"/>
<rect x="986.94" y="857.32" width="1.9" height="1.9" fill="#e0861a"/>
<rect x="967.43" y="843.95" width="1.9" height="1.9" fill="#e0861a"/>
<rect x="979.55" y="844.36" width="1.9" height="1.9" fill="#d2b414"/>
<rect x="949.24" y="855.31" width="1.7" height="1.7" fill="#e0861a"/>
<rect x="985.32" y="859.01" width="1.7" height="1.7" fill="#d42a1e"/>
<rect x="949.11" y="860.94" width="2.1" height="2.1" fill="#d42a1e"/>
<rect x="984.58" y="879.74" width="1.9" height="1.9" fill="#e0861a"/>
<rect x="981.89" y="892.84" width="2.1" height="2.1" fill="#dc4e1a"/>
<rect x="950.44" y="881.79" width="1.9" height="1.9" fill="#dc4e1a"/>
<rect x="961.34" y="886.25" width="2.1" height="2.1" fill="#d42a1e"/>
<rect x="963.92" y="891.3" width="1.9" height="1.9" fill="#d42a1e"/>
<rect x="947.22" y="881.45" width="1.9" height="1.9" fill="#46cc28"/>
<rect x="958.11" y="889.66" width="1.7" height="1.7" fill="#a8d20e"/>
<rect x="958.5" y="889.3" width="1.9" height="1.9" fill="#d2b414"/>
<rect x="951.07" y="874.59" width="2.1" height="2.1" fill="#d42a1e"/>
<rect x="972.39" y="876.73" width="2.1" height="2.1" fill="#d42a1e"/>
<rect x="953.43" y="876.17" width="2.1" height="2.1" fill="#a8d20e"/>
<rect x="968.67" y="874.62" width="1.7" height="1.7" fill="#46cc28"/>
<rect x="966.88" y="892.18" width="2.1" height="2.1" fill="#e0861a"/>
<rect x="955.34" y="891.96" width="1.7" height="1.7" fill="#d42a1e"/>
<rect x="985.43" y="892.92" width="2.1" height="2.1" fill="#d2b414"/>
<rect x="983.25" y="873.54" width="1.9" height="1.9" fill="#e0861a"/>
<rect x="970.45" y="880.39" width="1.7" height="1.7" fill="#e0861a"/>
<rect x="949.03" y="883.38" width="1.7" height="1.7" fill="#e0861a"/>
<rect x="950.07" y="885.74" width="1.9" height="1.9" fill="#d42a1e"/>
<rect x="975.6" y="888.43" width="2.1" height="2.1" fill="#d42a1e"/>
<rect x="957.39" y="881.95" width="1.9" height="1.9" fill="#d2b414"/>
<rect x="953.05" y="876.42" width="2.1" height="2.1" fill="#d2b414"/>
<rect x="966.39" y="878.9" width="1.7" height="1.7" fill="#dc4e1a"/>
<rect x="981.65" y="886.99" width="2.1" height="2.1" fill="#d42a1e"/>
<rect x="963.69" y="875.57" width="1.7" height="1.7" fill="#d2b414"/>
<rect x="954.76" y="888.36" width="2.1" height="2.1" fill="#d42a1e"/>
<rect x="950.67" y="883.27" width="2.1" height="2.1" fill="#e0861a"/>
<rect x="960.77" y="874.73" width="2.1" height="2.1" fill="#e0861a"/>
<rect x="956.55" y="750.55" width="1.9" height="1.9" fill="#e0861a"/>
<rect x="982.05" y="750.13" width="1.9" height="1.9" fill="#d2b414"/>
<rect x="959.89" y="761.93" width="1.9" height="1.9" fill="#e0861a"/>
<rect x="949.76" y="799.03" width="1.9" height="1.9" fill="#e0861a"/>
<rect x="975.74" y="772.31" width="1.9" height="1.9" fill="#d2b414"/>
<rect x="958.55" y="773.27" width="1.9" height="1.9" fill="#46cc28"/>
<rect x="957.73" y="894.74" width="1.9" height="1.9" fill="#e0861a"/>
<rect x="1010.17" y="801.94" width="2.1" height="2.1" fill="#e0861a"/>
<rect x="1014.07" y="807.13" width="2.1" height="2.1" fill="#d42a1e"/>
<rect x="1003.81" y="803.19" width="2.1" height="2.1" fill="#e0861a"/>
<rect x="1001.12" y="803.51" width="1.7" height="1.7" fill="#d42a1e"/>
<rect x="1000.25" y="827.42" width="2.1" height="2.1" fill="#e0861a"/>
<rect x="1009.14" y="804.28" width="2.1" height="2.1" fill="#d42a1e"/>
<rect x="1006.46" y="826.09" width="2.1" height="2.1" fill="#dc4e1a"/>
<rect x="996.78" y="821.48" width="2.1" height="2.1" fill="#dc4e1a"/>
<rect x="1004.29" y="802.23" width="1.9" height="1.9" fill="#dc4e1a"/>
<rect x="991.36" y="805.72" width="1.7" height="1.7" fill="#d2b414"/>
<rect x="1007.58" y="817.88" width="1.7" height="1.7" fill="#46cc28"/>
<rect x="1013.82" y="808.39" width="1.9" height="1.9" fill="#46cc28"/>
<rect x="1021.16" y="803.47" width="1.9" height="1.9" fill="#d42a1e"/>
<rect x="1019.75" y="808.69" width="1.9" height="1.9" fill="#d42a1e"/>
<rect x="1006.74" y="829.93" width="1.9" height="1.9" fill="#d42a1e"/>
<rect x="995.98" y="802.36" width="1.7" height="1.7" fill="#e0861a"/>
<rect x="1012.47" y="804.49" width="2.1" height="2.1" fill="#d2b414"/>
<rect x="1004.98" y="825.44" width="2.1" height="2.1" fill="#d42a1e"/>
<rect x="988.81" y="813.51" width="1.9" height="1.9" fill="#e0861a"/>
<rect x="999.06" y="826.5" width="2.1" height="2.1" fill="#e0861a"/>
<rect x="996.75" y="810.6" width="2.1" height="2.1" fill="#46cc28"/>
<rect x="1015.23" y="823.56" width="2.1" height="2.1" fill="#d42a1e"/>
<rect x="996.68" y="830.07" width="1.7" height="1.7" fill="#e0861a"/>
<rect x="1013.47" y="814.83" width="1.7" height="1.7" fill="#d2b414"/>
<rect x="1015.62" y="806.06" width="1.7" height="1.7" fill="#d2b414"/>
<rect x="1015.55" y="828.46" width="1.7" height="1.7" fill="#d42a1e"/>
<rect x="1017.64" y="812.81" width="1.9" height="1.9" fill="#a8d20e"/>
<rect x="999.58" y="807.11" width="1.9" height="1.9" fill="#d42a1e"/>
<rect x="1003.42" y="826.85" width="1.7" height="1.7" fill="#d42a1e"/>
<rect x="1015.65" y="806.6" width="2.1" height="2.1" fill="#d42a1e"/>
<rect x="999.05" y="818.37" width="2.1" height="2.1" fill="#e0861a"/>
<rect x="994.32" y="803.42" width="1.7" height="1.7" fill="#d42a1e"/>
<rect x="1018.8" y="824.81" width="1.9" height="1.9" fill="#d42a1e"/>
<rect x="1006.53" y="821.29" width="1.7" height="1.7" fill="#d42a1e"/>
<rect x="994.23" y="814.76" width="2.1" height="2.1" fill="#d42a1e"/>
<rect x="1020.18" y="808.17" width="1.9" height="1.9" fill="#d2b414"/>
<rect x="1012.63" y="806.74" width="1.7" height="1.7" fill="#d42a1e"/>
<rect x="1011.74" y="801.31" width="1.9" height="1.9" fill="#d42a1e"/>
<rect x="1001.01" y="810.99" width="1.9" height="1.9" fill="#a8d20e"/>
<rect x="1007.18" y="810.62" width="1.7" height="1.7" fill="#dc4e1a"/>
<rect x="996.77" y="824.24" width="2.1" height="2.1" fill="#d42a1e"/>
<rect x="1011.72" y="823.39" width="1.9" height="1.9" fill="#d42a1e"/>
<rect x="1015.31" y="827.4" width="1.9" height="1.9" fill="#46cc28"/>
<rect x="988.75" y="820.94" width="1.9" height="1.9" fill="#d42a1e"/>
<rect x="1001.49" y="829" width="1.9" height="1.9" fill="#e0861a"/>
<rect x="993.09" y="857.23" width="1.9" height="1.9" fill="#d42a1e"/>
<rect x="1016.48" y="869.38" width="1.9" height="1.9" fill="#d2b414"/>
<rect x="999.35" y="863.46" width="1.9" height="1.9" fill="#e0861a"/>
<rect x="990.41" y="853.01" width="1.7" height="1.7" fill="#46cc28"/>
<rect x="994.16" y="867.06" width="2.1" height="2.1" fill="#d42a1e"/>
<rect x="991.93" y="856.14" width="1.7" height="1.7" fill="#d42a1e"/>
<rect x="994.32" y="854.52" width="2.1" height="2.1" fill="#d42a1e"/>
<rect x="1018.42" y="851.55" width="1.9" height="1.9" fill="#d42a1e"/>
<rect x="1004.78" y="867.03" width="2.1" height="2.1" fill="#d42a1e"/>
<rect x="1011.92" y="882.82" width="1.9" height="1.9" fill="#dc4e1a"/>
<rect x="1001.8" y="879.31" width="2.1" height="2.1" fill="#dc4e1a"/>
<rect x="1006.78" y="881.99" width="2.1" height="2.1" fill="#e0861a"/>
<rect x="1016.98" y="869.56" width="1.9" height="1.9" fill="#d2b414"/>
<rect x="998.46" y="890.33" width="2.1" height="2.1" fill="#d42a1e"/>
<rect x="1021.7" y="888.19" width="1.7" height="1.7" fill="#e0861a"/>
<rect x="993.75" y="889.01" width="2.1" height="2.1" fill="#d42a1e"/>
<rect x="1006.9" y="889.13" width="2.1" height="2.1" fill="#e0861a"/>
<rect x="993.86" y="889.74" width="2.1" height="2.1" fill="#d42a1e"/>
<rect x="1017.33" y="884.92" width="2.1" height="2.1" fill="#a8d20e"/>
<rect x="1001.45" y="891.78" width="2.1" height="2.1" fill="#d2b414"/>
<rect x="998.46" y="891.23" width="2.1" height="2.1" fill="#d42a1e"/>
<rect x="1002.63" y="892.73" width="2.1" height="2.1" fill="#d2b414"/>
<rect x="1012.03" y="883.3" width="1.9" height="1.9" fill="#dc4e1a"/>
<rect x="999.6" y="883.9" width="1.9" height="1.9" fill="#e0861a"/>
<rect x="1008.2" y="873.87" width="1.7" height="1.7" fill="#dc4e1a"/>
<rect x="1017.46" y="881.18" width="1.9" height="1.9" fill="#d42a1e"/>
<rect x="989.18" y="882.5" width="2.1" height="2.1" fill="#d2b414"/>
<rect x="996.95" y="892.64" width="1.7" height="1.7" fill="#dc4e1a"/>
<rect x="1000.97" y="876.56" width="1.9" height="1.9" fill="#d42a1e"/>
<rect x="1021.96" y="884.5" width="2.1" height="2.1" fill="#d2b414"/>
<rect x="1017.36" y="892.17" width="2.1" height="2.1" fill="#d42a1e"/>
<rect x="1010.36" y="878.33" width="1.7" height="1.7" fill="#a8d20e"/>
<rect x="1021.21" y="883.89" width="1.7" height="1.7" fill="#d42a1e"/>
<rect x="1019.41" y="884.36" width="2.1" height="2.1" fill="#d42a1e"/>
<rect x="1022.11" y="882.95" width="1.9" height="1.9" fill="#e0861a"/>
<rect x="1009.21" y="885.91" width="1.9" height="1.9" fill="#dc4e1a"/>
<rect x="991.23" y="878.9" width="2.1" height="2.1" fill="#d2b414"/>
<rect x="1011.56" y="877.83" width="2.1" height="2.1" fill="#d42a1e"/>
<rect x="988.85" y="751.75" width="1.9" height="1.9" fill="#dc4e1a"/>
<rect x="1016.15" y="784.16" width="1.9" height="1.9" fill="#e0861a"/>
<rect x="993.1" y="798.52" width="1.9" height="1.9" fill="#a8d20e"/>
<rect x="1017.15" y="773.27" width="1.9" height="1.9" fill="#e0861a"/>
<rect x="1012.6" y="772.35" width="1.9" height="1.9" fill="#d42a1e"/>
<rect x="1005.92" y="896.88" width="1.9" height="1.9" fill="#d42a1e"/>
<rect x="1041.76" y="816.99" width="1.7" height="1.7" fill="#dc4e1a"/>
<rect x="1049.02" y="805.82" width="2.1" height="2.1" fill="#e0861a"/>
<rect x="1024.87" y="812.7" width="2.1" height="2.1" fill="#e0861a"/>
<rect x="1024.6" y="829.08" width="1.7" height="1.7" fill="#46cc28"/>
<rect x="1031.43" y="821.32" width="1.7" height="1.7" fill="#d42a1e"/>
<rect x="1023.51" y="819.74" width="1.9" height="1.9" fill="#d42a1e"/>
<rect x="1048.61" y="825.74" width="1.9" height="1.9" fill="#d42a1e"/>
<rect x="1040.3" y="803.7" width="1.7" height="1.7" fill="#dc4e1a"/>
<rect x="1051.75" y="820.75" width="2.1" height="2.1" fill="#a8d20e"/>
<rect x="1033.41" y="806.18" width="2.1" height="2.1" fill="#d42a1e"/>
<rect x="1039.18" y="817.95" width="2.1" height="2.1" fill="#d42a1e"/>
<rect x="1049.83" y="809.25" width="2.1" height="2.1" fill="#d42a1e"/>
<rect x="1042.03" y="801.02" width="2.1" height="2.1" fill="#d42a1e"/>
<rect x="1028.92" y="802.64" width="1.9" height="1.9" fill="#d2b414"/>
<rect x="1030.3" y="807.9" width="1.9" height="1.9" fill="#d42a1e"/>
<rect x="1044.69" y="805.03" width="2.1" height="2.1" fill="#d42a1e"/>
<rect x="1031.51" y="814.8" width="1.7" height="1.7" fill="#d42a1e"/>
<rect x="1032.48" y="811.73" width="1.9" height="1.9" fill="#e0861a"/>
<rect x="1039.95" y="803.5" width="1.7" height="1.7" fill="#d2b414"/>
<rect x="1026.88" y="806.68" width="1.7" height="1.7" fill="#e0861a"/>
<rect x="1025.6" y="803.25" width="2.1" height="2.1" fill="#dc4e1a"/>
<rect x="1034.27" y="813.28" width="2.1" height="2.1" fill="#d42a1e"/>
<rect x="1044.12" y="801.09" width="2.1" height="2.1" fill="#d42a1e"/>
<rect x="1035.53" y="805.05" width="1.9" height="1.9" fill="#dc4e1a"/>
<rect x="1027.79" y="813.05" width="1.9" height="1.9" fill="#d42a1e"/>
<rect x="1043.9" y="828.91" width="1.9" height="1.9" fill="#dc4e1a"/>
<rect x="1033.88" y="819.14" width="1.9" height="1.9" fill="#d42a1e"/>
<rect x="1023.87" y="801.32" width="1.9" height="1.9" fill="#a8d20e"/>
<rect x="1026.41" y="802.5" width="2.1" height="2.1" fill="#dc4e1a"/>
<rect x="1030.2" y="821.57" width="1.9" height="1.9" fill="#a8d20e"/>
<rect x="1044.43" y="867.69" width="1.7" height="1.7" fill="#d42a1e"/>
<rect x="1041.97" y="836.73" width="2.1" height="2.1" fill="#dc4e1a"/>
<rect x="1024.03" y="861.05" width="1.9" height="1.9" fill="#d42a1e"/>
<rect x="1038.6" y="859.51" width="1.9" height="1.9" fill="#a8d20e"/>
<rect x="1035.34" y="854.14" width="1.7" height="1.7" fill="#d42a1e"/>
<rect x="1037.36" y="834.44" width="1.9" height="1.9" fill="#d42a1e"/>
<rect x="1023.31" y="843.39" width="2.1" height="2.1" fill="#d42a1e"/>
<rect x="1042.59" y="848.9" width="2.1" height="2.1" fill="#e0861a"/>
<rect x="1048.56" y="884.96" width="1.9" height="1.9" fill="#d42a1e"/>
<rect x="1045.52" y="886.07" width="1.7" height="1.7" fill="#d2b414"/>
<rect x="1034.46" y="876.58" width="1.7" height="1.7" fill="#d2b414"/>
<rect x="1044.34" y="887.67" width="2.1" height="2.1" fill="#d42a1e"/>
<rect x="1039.43" y="877.38" width="2.1" height="2.1" fill="#dc4e1a"/>
<rect x="1043.87" y="877.17" width="1.7" height="1.7" fill="#dc4e1a"/>
<rect x="1024.56" y="870.16" width="1.9" height="1.9" fill="#e0861a"/>
<rect x="1024.3" y="892.06" width="2.1" height="2.1" fill="#e0861a"/>
<rect x="1043.01" y="892.54" width="1.7" height="1.7" fill="#d42a1e"/>
<rect x="1028.05" y="869.12" width="1.9" height="1.9" fill="#d2b414"/>
<rect x="1041.15" y="892.97" width="1.7" height="1.7" fill="#d42a1e"/>
<rect x="1044.72" y="889.99" width="1.9" height="1.9" fill="#dc4e1a"/>
<rect x="1022.85" y="892.76" width="1.9" height="1.9" fill="#dc4e1a"/>
<rect x="1048.18" y="892.77" width="1.9" height="1.9" fill="#e0861a"/>
<rect x="1049.77" y="872.63" width="1.9" height="1.9" fill="#46cc28"/>
<rect x="1044.78" y="886.89" width="2.1" height="2.1" fill="#a8d20e"/>
<rect x="1048.97" y="875.46" width="1.7" height="1.7" fill="#d42a1e"/>
<rect x="1039.44" y="882.75" width="2.1" height="2.1" fill="#dc4e1a"/>
<rect x="1033.56" y="886.74" width="2.1" height="2.1" fill="#d2b414"/>
<rect x="1042.48" y="873.77" width="1.9" height="1.9" fill="#d42a1e"/>
<rect x="1045.8" y="888.62" width="1.9" height="1.9" fill="#dc4e1a"/>
<rect x="1039.02" y="871.9" width="2.1" height="2.1" fill="#dc4e1a"/>
<rect x="1027.1" y="773.94" width="1.9" height="1.9" fill="#a8d20e"/>
<rect x="1038.41" y="775.63" width="1.9" height="1.9" fill="#d42a1e"/>
<rect x="1049.22" y="772.6" width="1.9" height="1.9" fill="#a8d20e"/>
<rect x="1024.01" y="773.86" width="1.9" height="1.9" fill="#d42a1e"/>
<rect x="1029.04" y="894.34" width="1.9" height="1.9" fill="#d42a1e"/>
<rect x="1065.72" y="820.2" width="2.1" height="2.1" fill="#e0861a"/>
<rect x="1054.91" y="809.66" width="1.7" height="1.7" fill="#d42a1e"/>
<rect x="1071.78" y="807" width="2.1" height="2.1" fill="#d2b414"/>
<rect x="1066.59" y="822.01" width="1.9" height="1.9" fill="#d2b414"/>
<rect x="1072.29" y="817.9" width="1.7" height="1.7" fill="#d42a1e"/>
<rect x="1056.85" y="802.57" width="2.1" height="2.1" fill="#dc4e1a"/>
<rect x="1070.53" y="818.85" width="1.9" height="1.9" fill="#e0861a"/>
<rect x="1073.38" y="821.73" width="1.9" height="1.9" fill="#d2b414"/>
<rect x="1063.04" y="829.06" width="2.1" height="2.1" fill="#d42a1e"/>
<rect x="1074.75" y="823.66" width="1.9" height="1.9" fill="#dc4e1a"/>
<rect x="1064.07" y="812.57" width="1.7" height="1.7" fill="#e0861a"/>
<rect x="1063.19" y="828.64" width="1.9" height="1.9" fill="#e0861a"/>
<rect x="1077.33" y="813.13" width="1.9" height="1.9" fill="#a8d20e"/>
<rect x="1069.34" y="813.29" width="1.9" height="1.9" fill="#dc4e1a"/>
<rect x="1060.41" y="829.37" width="1.7" height="1.7" fill="#d42a1e"/>
<rect x="1074.72" y="816.96" width="1.9" height="1.9" fill="#d42a1e"/>
<rect x="1073.63" y="808.45" width="1.9" height="1.9" fill="#dc4e1a"/>
<rect x="1060.93" y="805.46" width="2.1" height="2.1" fill="#e0861a"/>
<rect x="1065.07" y="805.61" width="2.1" height="2.1" fill="#a8d20e"/>
<rect x="1061.93" y="803.37" width="1.9" height="1.9" fill="#e0861a"/>
<rect x="1071.88" y="815.08" width="1.7" height="1.7" fill="#e0861a"/>
<rect x="1058.98" y="825.55" width="1.7" height="1.7" fill="#d42a1e"/>
<rect x="1073.06" y="812.55" width="2.1" height="2.1" fill="#d42a1e"/>
<rect x="1075.98" y="810.17" width="1.7" height="1.7" fill="#d42a1e"/>
<rect x="1063.8" y="807.47" width="1.9" height="1.9" fill="#d42a1e"/>
<rect x="1067.35" y="820.22" width="1.9" height="1.9" fill="#d2b414"/>
<rect x="1073.85" y="806.58" width="1.7" height="1.7" fill="#d42a1e"/>
<rect x="1074.56" y="812.47" width="1.7" height="1.7" fill="#d42a1e"/>
<rect x="1060.05" y="802.59" width="1.7" height="1.7" fill="#d42a1e"/>
<rect x="1062.94" y="816.73" width="1.9" height="1.9" fill="#d42a1e"/>
<rect x="1060.06" y="816.54" width="1.9" height="1.9" fill="#dc4e1a"/>
<rect x="1062.69" y="804.09" width="1.9" height="1.9" fill="#d42a1e"/>
<rect x="1068.88" y="823.01" width="2.1" height="2.1" fill="#dc4e1a"/>
<rect x="1067.9" y="805.21" width="2.1" height="2.1" fill="#dc4e1a"/>
<rect x="1068.4" y="818.55" width="1.9" height="1.9" fill="#dc4e1a"/>
<rect x="1074.49" y="809.81" width="1.9" height="1.9" fill="#e0861a"/>
<rect x="1077.34" y="807.74" width="1.9" height="1.9" fill="#46cc28"/>
<rect x="1056.5" y="804.07" width="2.1" height="2.1" fill="#dc4e1a"/>
<rect x="1066.79" y="806.99" width="1.9" height="1.9" fill="#d2b414"/>
<rect x="1060.54" y="841.63" width="1.7" height="1.7" fill="#e0861a"/>
<rect x="1052.33" y="852.5" width="2.1" height="2.1" fill="#e0861a"/>
<rect x="1075.19" y="850.04" width="2.1" height="2.1" fill="#d42a1e"/>
<rect x="1078.41" y="855.98" width="2.1" height="2.1" fill="#d42a1e"/>
<rect x="1058.39" y="830.33" width="1.9" height="1.9" fill="#d2b414"/>
<rect x="1074.95" y="862.18" width="2.1" height="2.1" fill="#d42a1e"/>
<rect x="1052.22" y="839.79" width="1.9" height="1.9" fill="#d42a1e"/>
<rect x="1069.24" y="837.62" width="2.1" height="2.1" fill="#e0861a"/>
<rect x="1069.83" y="868.99" width="1.9" height="1.9" fill="#d2b414"/>
<rect x="1071.7" y="892.85" width="1.9" height="1.9" fill="#dc4e1a"/>
<rect x="1072.77" y="876.38" width="2.1" height="2.1" fill="#e0861a"/>
<rect x="1060.27" y="870.5" width="2.1" height="2.1" fill="#e0861a"/>
<rect x="1075.7" y="888.12" width="1.9" height="1.9" fill="#d42a1e"/>
<rect x="1076.53" y="880.87" width="1.7" height="1.7" fill="#46cc28"/>
<rect x="1053.45" y="892.72" width="2.1" height="2.1" fill="#d2b414"/>
<rect x="1056.72" y="873.88" width="1.9" height="1.9" fill="#e0861a"/>
<rect x="1065.2" y="879.84" width="1.9" height="1.9" fill="#e0861a"/>
<rect x="1062.84" y="892.25" width="1.9" height="1.9" fill="#d42a1e"/>
<rect x="1077.14" y="891.44" width="2.1" height="2.1" fill="#e0861a"/>
<rect x="1067.87" y="892.86" width="1.7" height="1.7" fill="#d42a1e"/>
<rect x="1078.73" y="887.47" width="1.9" height="1.9" fill="#dc4e1a"/>
<rect x="1064.81" y="875.41" width="1.9" height="1.9" fill="#e0861a"/>
<rect x="1071.2" y="892.92" width="2.1" height="2.1" fill="#a8d20e"/>
<rect x="1055.69" y="881.63" width="1.7" height="1.7" fill="#d2b414"/>
<rect x="1057.4" y="875.65" width="2.1" height="2.1" fill="#e0861a"/>
<rect x="1076.4" y="874.86" width="1.9" height="1.9" fill="#e0861a"/>
<rect x="1055.63" y="879.13" width="1.9" height="1.9" fill="#d2b414"/>
<rect x="1060.38" y="891.01" width="2.1" height="2.1" fill="#d2b414"/>
<rect x="1054.65" y="871.29" width="1.7" height="1.7" fill="#d42a1e"/>
<rect x="1068.61" y="888.38" width="1.7" height="1.7" fill="#d42a1e"/>
<rect x="1073.91" y="759.1" width="1.9" height="1.9" fill="#d2b414"/>
<rect x="1067.27" y="787.52" width="1.9" height="1.9" fill="#a8d20e"/>
<rect x="1060.32" y="772.91" width="1.9" height="1.9" fill="#e0861a"/>
<rect x="1058.69" y="896.02" width="1.9" height="1.9" fill="#d42a1e"/>
<rect x="1087.6" y="822.72" width="1.7" height="1.7" fill="#dc4e1a"/>
<rect x="1081.2" y="827.55" width="1.7" height="1.7" fill="#e0861a"/>
<rect x="1093.48" y="808.74" width="2.1" height="2.1" fill="#a8d20e"/>
<rect x="1093.45" y="806.02" width="1.7" height="1.7" fill="#e0861a"/>
<rect x="1096.79" y="802.22" width="2.1" height="2.1" fill="#d2b414"/>
<rect x="1095.7" y="802.11" width="2.1" height="2.1" fill="#d42a1e"/>
<rect x="1082.42" y="827.45" width="1.7" height="1.7" fill="#dc4e1a"/>
<rect x="1091.96" y="812.03" width="1.7" height="1.7" fill="#d2b414"/>
<rect x="1089.84" y="828.49" width="2.1" height="2.1" fill="#d42a1e"/>
<rect x="1098.22" y="806.59" width="2.1" height="2.1" fill="#d42a1e"/>
<rect x="1086.33" y="807.18" width="1.7" height="1.7" fill="#d42a1e"/>
<rect x="1083.69" y="812.96" width="1.7" height="1.7" fill="#d42a1e"/>
<rect x="1093.33" y="803.43" width="1.7" height="1.7" fill="#e0861a"/>
<rect x="1088.32" y="802.1" width="2.1" height="2.1" fill="#d42a1e"/>
<rect x="1094.45" y="811" width="1.9" height="1.9" fill="#46cc28"/>
<rect x="1084.69" y="809.97" width="1.9" height="1.9" fill="#dc4e1a"/>
<rect x="1080.91" y="819.46" width="1.9" height="1.9" fill="#a8d20e"/>
<rect x="1102.23" y="817" width="2.1" height="2.1" fill="#d42a1e"/>
<rect x="1093.45" y="810.38" width="2.1" height="2.1" fill="#dc4e1a"/>
<rect x="1098.49" y="816.99" width="1.7" height="1.7" fill="#d42a1e"/>
<rect x="1084.52" y="811.18" width="1.9" height="1.9" fill="#d42a1e"/>
<rect x="1091.08" y="815.71" width="2.1" height="2.1" fill="#d42a1e"/>
<rect x="1095.1" y="808.37" width="1.7" height="1.7" fill="#e0861a"/>
<rect x="1094.4" y="826.2" width="1.7" height="1.7" fill="#d42a1e"/>
<rect x="1080.98" y="809.81" width="2.1" height="2.1" fill="#dc4e1a"/>
<rect x="1081.88" y="801.11" width="2.1" height="2.1" fill="#dc4e1a"/>
<rect x="1097.6" y="806.66" width="1.9" height="1.9" fill="#d42a1e"/>
<rect x="1080.28" y="820.1" width="2.1" height="2.1" fill="#d42a1e"/>
<rect x="1095.29" y="828.59" width="1.7" height="1.7" fill="#d42a1e"/>
<rect x="1089.92" y="813.99" width="1.7" height="1.7" fill="#d42a1e"/>
<rect x="1102.22" y="822.37" width="1.7" height="1.7" fill="#d42a1e"/>
<rect x="1095.97" y="811.85" width="1.7" height="1.7" fill="#d42a1e"/>
<rect x="1092.16" y="815.78" width="1.7" height="1.7" fill="#46cc28"/>
<rect x="1081.14" y="813.85" width="1.7" height="1.7" fill="#e0861a"/>
<rect x="1084.71" y="809.15" width="1.7" height="1.7" fill="#d2b414"/>
<rect x="1099.79" y="849.77" width="1.7" height="1.7" fill="#dc4e1a"/>
<rect x="1081.86" y="863.31" width="2.1" height="2.1" fill="#d2b414"/>
<rect x="1091.03" y="834.71" width="2.1" height="2.1" fill="#d42a1e"/>
<rect x="1098.13" y="854.09" width="1.7" height="1.7" fill="#d2b414"/>
<rect x="1090.85" y="828.55" width="2.1" height="2.1" fill="#dc4e1a"/>
<rect x="1097.04" y="828.89" width="1.9" height="1.9" fill="#d2b414"/>
<rect x="1103.46" y="887.32" width="1.7" height="1.7" fill="#d42a1e"/>
<rect x="1080.74" y="887.04" width="1.9" height="1.9" fill="#d42a1e"/>
<rect x="1102.51" y="885.2" width="1.7" height="1.7" fill="#d2b414"/>
<rect x="1091.1" y="881.02" width="1.9" height="1.9" fill="#d42a1e"/>
<rect x="1082.44" y="875.23" width="1.9" height="1.9" fill="#e0861a"/>
<rect x="1098.59" y="887.77" width="1.9" height="1.9" fill="#d42a1e"/>
<rect x="1081.35" y="890.86" width="1.7" height="1.7" fill="#d42a1e"/>
<rect x="1100.5" y="888.64" width="1.9" height="1.9" fill="#dc4e1a"/>
<rect x="1092" y="873.47" width="2.1" height="2.1" fill="#e0861a"/>
<rect x="1085.68" y="891.11" width="1.9" height="1.9" fill="#dc4e1a"/>
<rect x="1097.02" y="879.94" width="1.9" height="1.9" fill="#d42a1e"/>
<rect x="1099.03" y="886.08" width="2.1" height="2.1" fill="#d42a1e"/>
<rect x="1097.87" y="893.02" width="1.9" height="1.9" fill="#46cc28"/>
<rect x="1092.66" y="892.17" width="1.7" height="1.7" fill="#dc4e1a"/>
<rect x="1098.35" y="888.5" width="2.1" height="2.1" fill="#d42a1e"/>
<rect x="1088.03" y="890.01" width="2.1" height="2.1" fill="#e0861a"/>
<rect x="1097.32" y="779.28" width="1.9" height="1.9" fill="#d42a1e"/>
<rect x="1095.87" y="790.24" width="1.9" height="1.9" fill="#d42a1e"/>
<rect x="1102.47" y="772.59" width="1.9" height="1.9" fill="#d42a1e"/>
<rect x="1123.57" y="810.26" width="1.7" height="1.7" fill="#d2b414"/>
<rect x="1123.81" y="801.88" width="1.9" height="1.9" fill="#e0861a"/>
<rect x="1104.44" y="809.36" width="1.9" height="1.9" fill="#d42a1e"/>
<rect x="1121.93" y="822.12" width="2.1" height="2.1" fill="#d2b414"/>
<rect x="1108.96" y="830.02" width="1.7" height="1.7" fill="#a8d20e"/>
<rect x="1110.09" y="813.73" width="2.1" height="2.1" fill="#d42a1e"/>
<rect x="1122.69" y="829.48" width="1.7" height="1.7" fill="#a8d20e"/>
<rect x="1112.3" y="821.94" width="1.9" height="1.9" fill="#a8d20e"/>
<rect x="1119.87" y="826.1" width="1.9" height="1.9" fill="#d42a1e"/>
<rect x="1111.33" y="828.15" width="1.9" height="1.9" fill="#a8d20e"/>
<rect x="1111.87" y="829.2" width="1.7" height="1.7" fill="#d42a1e"/>
<rect x="1114.22" y="809.16" width="2.1" height="2.1" fill="#d42a1e"/>
<rect x="1115.59" y="801.92" width="1.7" height="1.7" fill="#d42a1e"/>
<rect x="1110.75" y="828.18" width="2.1" height="2.1" fill="#d42a1e"/>
<rect x="1119.08" y="816.73" width="1.7" height="1.7" fill="#e0861a"/>
<rect x="1122.48" y="825.04" width="2.1" height="2.1" fill="#d42a1e"/>
<rect x="1115.36" y="804.38" width="1.9" height="1.9" fill="#d42a1e"/>
<rect x="1105.84" y="825.49" width="1.9" height="1.9" fill="#dc4e1a"/>
<rect x="1120.79" y="810.17" width="1.9" height="1.9" fill="#e0861a"/>
<rect x="1124.14" y="823.45" width="1.9" height="1.9" fill="#d2b414"/>
<rect x="1106.23" y="818.26" width="2.1" height="2.1" fill="#d42a1e"/>
<rect x="1114.79" y="827.84" width="1.9" height="1.9" fill="#d2b414"/>
<rect x="1116.4" y="801.71" width="2.1" height="2.1" fill="#d42a1e"/>
<rect x="1107.71" y="830.1" width="1.9" height="1.9" fill="#dc4e1a"/>
<rect x="1111.37" y="851.26" width="1.9" height="1.9" fill="#dc4e1a"/>
<rect x="1117.71" y="860.53" width="1.9" height="1.9" fill="#d42a1e"/>
<rect x="1106.43" y="830.62" width="1.7" height="1.7" fill="#46cc28"/>
<rect x="1110.93" y="855.7" width="1.9" height="1.9" fill="#d2b414"/>
<rect x="1119.38" y="871.72" width="2.1" height="2.1" fill="#a8d20e"/>
<rect x="1123.69" y="869.93" width="2.1" height="2.1" fill="#e0861a"/>
<rect x="1106.02" y="884.42" width="1.7" height="1.7" fill="#dc4e1a"/>
<rect x="1116.97" y="870.95" width="1.7" height="1.7" fill="#dc4e1a"/>
<rect x="1116.24" y="885.95" width="1.9" height="1.9" fill="#dc4e1a"/>
<rect x="1119.29" y="873.02" width="1.7" height="1.7" fill="#46cc28"/>
<rect x="1114.26" y="874.93" width="2.1" height="2.1" fill="#e0861a"/>
<rect x="1114.22" y="891.83" width="2.1" height="2.1" fill="#dc4e1a"/>
<rect x="1117.03" y="873.42" width="2.1" height="2.1" fill="#e0861a"/>
<rect x="1111.49" y="886.58" width="1.7" height="1.7" fill="#e0861a"/>
<rect x="1117.41" y="872.16" width="1.7" height="1.7" fill="#46cc28"/>
<rect x="1120.21" y="892.25" width="2.1" height="2.1" fill="#d2b414"/>
<rect x="1121.12" y="873.19" width="1.7" height="1.7" fill="#e0861a"/>
<rect x="1104.37" y="750.83" width="1.9" height="1.9" fill="#a8d20e"/>
<rect x="1119.92" y="770.38" width="1.9" height="1.9" fill="#d42a1e"/>
<rect x="1118.85" y="772.78" width="1.9" height="1.9" fill="#dc4e1a"/>
<rect x="1133.43" y="820.95" width="2.1" height="2.1" fill="#e0861a"/>
<rect x="1138.74" y="816.26" width="1.7" height="1.7" fill="#e0861a"/>
<rect x="1128.85" y="814.57" width="2.1" height="2.1" fill="#46cc28"/>
<rect x="1132.37" y="825.33" width="2.1" height="2.1" fill="#d42a1e"/>
<rect x="1130.82" y="821.66" width="1.9" height="1.9" fill="#e0861a"/>
<rect x="1127.45" y="803.54" width="2.1" height="2.1" fill="#d42a1e"/>
<rect x="1127.39" y="818.02" width="2.1" height="2.1" fill="#d42a1e"/>
<rect x="1136.34" y="813.95" width="1.9" height="1.9" fill="#e0861a"/>
<rect x="1135" y="810.63" width="1.7" height="1.7" fill="#d42a1e"/>
<rect x="1133.36" y="804.12" width="1.9" height="1.9" fill="#d42a1e"/>
<rect x="1138.7" y="807.41" width="1.7" height="1.7" fill="#d42a1e"/>
<rect x="1132.22" y="826.39" width="2.1" height="2.1" fill="#d42a1e"/>
<rect x="1130.23" y="813.67" width="1.9" height="1.9" fill="#d2b414"/>
<rect x="1131.69" y="821.72" width="2.1" height="2.1" fill="#46cc28"/>
<rect x="1136.63" y="812.61" width="2.1" height="2.1" fill="#46cc28"/>
<rect x="1131.22" y="816.42" width="1.9" height="1.9" fill="#d42a1e"/>
<rect x="1125.29" y="805.46" width="1.7" height="1.7" fill="#d42a1e"/>
<rect x="1135.59" y="826.38" width="1.9" height="1.9" fill="#46cc28"/>
<rect x="1126.18" y="819.82" width="1.7" height="1.7" fill="#d42a1e"/>
<rect x="1129.49" y="817.37" width="1.7" height="1.7" fill="#d42a1e"/>
<rect x="1124.93" y="820.24" width="2.1" height="2.1" fill="#e0861a"/>
<rect x="1135.43" y="824.6" width="1.7" height="1.7" fill="#d42a1e"/>
<rect x="1131.25" y="842.41" width="1.9" height="1.9" fill="#d42a1e"/>
<rect x="1129.61" y="847.57" width="1.7" height="1.7" fill="#dc4e1a"/>
<rect x="1134.21" y="846.7" width="1.9" height="1.9" fill="#d42a1e"/>
<rect x="1137.28" y="850.25" width="1.9" height="1.9" fill="#d42a1e"/>
<rect x="1138.22" y="885.32" width="1.7" height="1.7" fill="#d42a1e"/>
<rect x="1131.71" y="885.29" width="1.7" height="1.7" fill="#46cc28"/>
<rect x="1129.85" y="887.35" width="1.9" height="1.9" fill="#a8d20e"/>
<rect x="1130.98" y="872.69" width="1.7" height="1.7" fill="#a8d20e"/>
<rect x="1133.75" y="892.12" width="2.1" height="2.1" fill="#e0861a"/>
<rect x="1139.11" y="880.93" width="1.7" height="1.7" fill="#d42a1e"/>
<rect x="1131.17" y="871.85" width="2.1" height="2.1" fill="#d42a1e"/>
<rect x="1134.53" y="879.4" width="1.9" height="1.9" fill="#dc4e1a"/>
<rect x="1126.99" y="869.38" width="1.7" height="1.7" fill="#46cc28"/>
<rect x="1135.82" y="892.32" width="1.7" height="1.7" fill="#d42a1e"/>
<rect x="1135.37" y="885.99" width="2.1" height="2.1" fill="#e0861a"/>
<rect x="1129.72" y="875.03" width="2.1" height="2.1" fill="#d42a1e"/>
<rect x="1131.02" y="774.77" width="1.9" height="1.9" fill="#dc4e1a"/>
<rect x="1138.98" y="773.34" width="1.9" height="1.9" fill="#d42a1e"/>
<rect x="1059.65" y="840.85" width="1.3" height="1.3" fill="#cfae1a"/>
<rect x="1062.25" y="840.85" width="1.3" height="1.3" fill="#cfae1a"/>
<rect x="1066.05" y="840.85" width="1.3" height="1.3" fill="#d8901a"/>
<rect x="1060.1" y="842.15" width="1.3" height="1.3" fill="#cfae1a"/>
<rect x="1062.35" y="842.15" width="1.3" height="1.3" fill="#cfae1a"/>
<rect x="1065.6" y="842.15" width="1.3" height="1.3" fill="#d8901a"/>
<rect x="1060.55" y="843.45" width="1.3" height="1.3" fill="#cfae1a"/>
<rect x="1062.45" y="843.45" width="1.3" height="1.3" fill="#cfae1a"/>
<rect x="1065.15" y="843.45" width="1.3" height="1.3" fill="#d8901a"/>
<rect x="1061" y="844.75" width="1.3" height="1.3" fill="#cfae1a"/>
<rect x="1062.55" y="844.75" width="1.3" height="1.3" fill="#cfae1a"/>
<rect x="1064.7" y="844.75" width="1.3" height="1.3" fill="#d8901a"/>
<rect x="1061.45" y="846.05" width="1.3" height="1.3" fill="#cfae1a"/>
<rect x="1062.65" y="846.05" width="1.3" height="1.3" fill="#cfae1a"/>
<rect x="1064.25" y="846.05" width="1.3" height="1.3" fill="#d8901a"/>
<rect x="1061.9" y="847.35" width="1.3" height="1.3" fill="#cfae1a"/>
<rect x="1062.75" y="847.35" width="1.3" height="1.3" fill="#cfae1a"/>
<rect x="1063.8" y="847.35" width="1.3" height="1.3" fill="#d8901a"/>
<rect x="1087.15" y="840.85" width="1.3" height="1.3" fill="#cfae1a"/>
<rect x="1089.75" y="840.85" width="1.3" height="1.3" fill="#cfae1a"/>
<rect x="1093.55" y="840.85" width="1.3" height="1.3" fill="#d8901a"/>
<rect x="1087.6" y="842.15" width="1.3" height="1.3" fill="#cfae1a"/>
<rect x="1089.85" y="842.15" width="1.3" height="1.3" fill="#cfae1a"/>
<rect x="1093.1" y="842.15" width="1.3" height="1.3" fill="#d8901a"/>
<rect x="1088.05" y="843.45" width="1.3" height="1.3" fill="#cfae1a"/>
<rect x="1089.95" y="843.45" width="1.3" height="1.3" fill="#cfae1a"/>
<rect x="1092.65" y="843.45" width="1.3" height="1.3" fill="#d8901a"/>
<rect x="1088.5" y="844.75" width="1.3" height="1.3" fill="#cfae1a"/>
<rect x="1090.05" y="844.75" width="1.3" height="1.3" fill="#cfae1a"/>
<rect x="1092.2" y="844.75" width="1.3" height="1.3" fill="#d8901a"/>
<rect x="1088.95" y="846.05" width="1.3" height="1.3" fill="#cfae1a"/>
<rect x="1090.15" y="846.05" width="1.3" height="1.3" fill="#cfae1a"/>
<rect x="1091.75" y="846.05" width="1.3" height="1.3" fill="#d8901a"/>
<rect x="1089.4" y="847.35" width="1.3" height="1.3" fill="#cfae1a"/>
<rect x="1090.25" y="847.35" width="1.3" height="1.3" fill="#cfae1a"/>
<rect x="1091.3" y="847.35" width="1.3" height="1.3" fill="#d8901a"/>
<rect x="738.2" y="746" width="2" height="2" fill="#46cc28"/>
<rect x="738.2" y="751.5" width="2" height="2" fill="#a8d20e"/>
<rect x="738.2" y="757.5" width="2" height="2" fill="#46cc28"/>
<rect x="726.5" y="786.5" width="2" height="2" fill="#46cc28"/>
<rect x="726.5" y="790.3" width="2" height="2" fill="#d42a1e"/>
<rect x="737.6" y="785" width="2" height="2" fill="#d0c010"/>
<rect x="737.6" y="788" width="2" height="2" fill="#d0c010"/>
<rect x="737.6" y="790.5" width="2" height="2" fill="#46cc28"/>
<rect x="735.2" y="800" width="2" height="2" fill="#d42a1e"/>
<rect x="745.2" y="800" width="2" height="2" fill="#d42a1e"/>
<rect x="727.4" y="807.8" width="2" height="2" fill="#46cc28"/>
<rect x="735" y="828" width="2" height="2" fill="#d42a1e"/>
<rect x="737.6" y="832" width="2" height="2" fill="#d0c010"/>
<rect x="753" y="866.5" width="2" height="2" fill="#46cc28"/>
<rect x="727" y="877.8" width="2" height="2" fill="#46cc28"/>
<rect x="727" y="882" width="2" height="2" fill="#46cc28"/>
<rect x="738.2" y="877.8" width="2" height="2" fill="#46cc28"/>
<rect x="738.2" y="881" width="2" height="2" fill="#46cc28"/>
<rect x="738.2" y="883" width="2" height="2" fill="#d0c010"/>
<rect x="777" y="746" width="2" height="2" fill="#d0c010"/>
<rect x="768.8" y="753" width="2" height="2" fill="#46cc28"/>
<rect x="771.5" y="754" width="2" height="2" fill="#46cc28"/>
<rect x="774.5" y="754" width="2" height="2" fill="#46cc28"/>
<rect x="783" y="752.5" width="2" height="2" fill="#a8d20e"/>
<rect x="785" y="752.5" width="2" height="2" fill="#d0c010"/>
<rect x="787" y="753" width="2" height="2" fill="#a8d20e"/>
<rect x="789" y="752.8" width="2" height="2" fill="#d0c010"/>
<rect x="769.3" y="757.5" width="2" height="2" fill="#e0841a"/>
<rect x="790.5" y="756.5" width="2" height="2" fill="#e0841a"/>
<rect x="792.2" y="757" width="2" height="2" fill="#e0841a"/>
<rect x="771.5" y="766.6" width="2" height="2" fill="#d0c010"/>
<rect x="774.6" y="766.6" width="2" height="2" fill="#d0c010"/>
<rect x="769.9" y="772.8" width="2" height="2" fill="#d42a1e"/>
<rect x="788.5" y="773.5" width="2" height="2" fill="#e0841a"/>
<rect x="790.5" y="774" width="2" height="2" fill="#d42a1e"/>
<rect x="792.5" y="773" width="2" height="2" fill="#e0841a"/>
<rect x="768.2" y="778.8" width="2" height="2" fill="#46cc28"/>
<rect x="771.4" y="784.3" width="2" height="2" fill="#46cc28"/>
<rect x="777.6" y="784.3" width="2" height="2" fill="#d0c010"/>
<rect x="779.5" y="784.6" width="2" height="2" fill="#d0c010"/>
<rect x="783.6" y="785" width="2" height="2" fill="#d0c010"/>
<rect x="771.4" y="794" width="2" height="2" fill="#46cc28"/>
<rect x="778.7" y="794" width="2" height="2" fill="#d0c010"/>
<rect x="767.7" y="800.5" width="2" height="2" fill="#e0841a"/>
<rect x="769.4" y="799" width="2" height="2" fill="#d42a1e"/>
<rect x="776.4" y="833" width="2" height="2" fill="#46cc28"/>
<rect x="777.5" y="831.5" width="2" height="2" fill="#d42a1e"/>
<rect x="778.5" y="833.5" width="2" height="2" fill="#d42a1e"/>
<rect x="779.5" y="835.5" width="2" height="2" fill="#d42a1e"/>
<rect x="790.5" y="832" width="2" height="2" fill="#d42a1e"/>
<rect x="792" y="830" width="2" height="2" fill="#46cc28"/>
<rect x="791.3" y="842.8" width="2" height="2" fill="#d42a1e"/>
<rect x="793.5" y="849.2" width="2" height="2" fill="#46cc28"/>
<rect x="792" y="849" width="2" height="2" fill="#d0c010"/>
<rect x="767.5" y="789.3" width="2" height="2" fill="#d0c010"/>
<rect x="767.5" y="791" width="2" height="2" fill="#d0c010"/>
<rect x="768.7" y="789.3" width="2" height="2" fill="#a8d20e"/>
<rect x="769.9" y="789.3" width="2" height="2" fill="#d0c010"/>
<rect x="769.9" y="791" width="2" height="2" fill="#d0c010"/>
<rect x="771.1" y="789.3" width="2" height="2" fill="#d0c010"/>
<rect x="772.3" y="789.3" width="2" height="2" fill="#d0c010"/>
<rect x="772.3" y="791" width="2" height="2" fill="#d0c010"/>
<rect x="775.5" y="789.3" width="2" height="2" fill="#d0c010"/>
<rect x="777.2" y="789.3" width="2" height="2" fill="#d0c010"/>
<rect x="779" y="789.3" width="2" height="2" fill="#d0c010"/>
<rect x="780.6" y="789.3" width="2" height="2" fill="#d0c010"/>
<rect x="782.2" y="789.3" width="2" height="2" fill="#a8d20e"/>
<rect x="783.8" y="789.3" width="2" height="2" fill="#a8d20e"/>
<rect x="783.8" y="791" width="2" height="2" fill="#d0c010"/>
<rect x="785.4" y="789.3" width="2" height="2" fill="#d0c010"/>
<rect x="785.4" y="791" width="2" height="2" fill="#d0c010"/>
<rect x="787" y="789.3" width="2" height="2" fill="#d0c010"/>
<rect x="788.6" y="789.3" width="2" height="2" fill="#a8d20e"/>
<rect x="790" y="789.3" width="2" height="2" fill="#a8d20e"/>
<rect x="768.43" y="878.61" width="2" height="2" fill="#d0c010"/>
<rect x="769.82" y="878.39" width="2" height="2" fill="#a8d20e"/>
<rect x="770.13" y="877.75" width="2" height="2" fill="#a8d20e"/>
<rect x="771.54" y="877.31" width="2" height="2" fill="#d0c010"/>
<rect x="768.41" y="881.43" width="2" height="2" fill="#a8d20e"/>
<rect x="769.19" y="881.86" width="2" height="2" fill="#a8d20e"/>
<rect x="770.39" y="881.63" width="2" height="2" fill="#a8d20e"/>
<rect x="771.64" y="881.71" width="2" height="2" fill="#d0c010"/>
<rect x="775.65" y="876.66" width="2" height="2" fill="#d0c010"/>
<rect x="777.39" y="876.88" width="2" height="2" fill="#d0c010"/>
<rect x="779.94" y="876.57" width="2" height="2" fill="#d0c010"/>
<rect x="781.33" y="877.63" width="2" height="2" fill="#46cc28"/>
<rect x="783.28" y="877.65" width="2" height="2" fill="#46cc28"/>
<rect x="784.98" y="877.66" width="2" height="2" fill="#46cc28"/>
<rect x="780.02" y="882.39" width="2" height="2" fill="#a8d20e"/>
<rect x="782.03" y="882.65" width="2" height="2" fill="#a8d20e"/>
<rect x="783.3" y="881.72" width="2" height="2" fill="#46cc28"/>
<rect x="785.42" y="882.64" width="2" height="2" fill="#a8d20e"/>
<rect x="787" y="883.22" width="2" height="2" fill="#a8d20e"/>
<rect x="768.71" y="884.09" width="2" height="2" fill="#d0c010"/>
<rect x="770.57" y="884.21" width="2" height="2" fill="#d0c010"/>
<rect x="769.1" y="892.88" width="2" height="2" fill="#46cc28"/>
<rect x="771.8" y="893.45" width="2" height="2" fill="#46cc28"/>
<rect x="773.39" y="894.23" width="2" height="2" fill="#a8d20e"/>
<rect x="776.02" y="893.92" width="2" height="2" fill="#d0c010"/>
<rect x="778.41" y="893.92" width="2" height="2" fill="#a8d20e"/>
<rect x="780.87" y="893.3" width="2" height="2" fill="#46cc28"/>
<rect x="782.66" y="893.97" width="2" height="2" fill="#a8d20e"/>
<rect x="785.51" y="892.81" width="2" height="2" fill="#a8d20e"/>
<rect x="787.53" y="893.97" width="2" height="2" fill="#a8d20e"/>
<rect x="789.98" y="894.17" width="2" height="2" fill="#a8d20e"/>
<rect x="769.74" y="896.41" width="2" height="2" fill="#a8d20e"/>
<rect x="774.14" y="896.26" width="2" height="2" fill="#a8d20e"/>
<rect x="777.94" y="897.11" width="2" height="2" fill="#46cc28"/>
<rect x="781.55" y="896.38" width="2" height="2" fill="#a8d20e"/>
<rect x="785.08" y="897.04" width="2" height="2" fill="#d0c010"/>
<rect x="789.46" y="896.55" width="2" height="2" fill="#a8d20e"/>
<rect x="781.84" y="944.63" width="2" height="2" fill="#a8d20e"/>
<rect x="783.9" y="944.86" width="2" height="2" fill="#46cc28"/>
<rect x="785.77" y="945.38" width="2" height="2" fill="#46cc28"/>
<rect x="787.15" y="945.33" width="2" height="2" fill="#46cc28"/>
<rect x="789.39" y="945.1" width="2" height="2" fill="#a8d20e"/>
<rect x="769.58" y="959.93" width="2" height="2" fill="#d0c010"/>
<rect x="771.02" y="959.34" width="2" height="2" fill="#a8d20e"/>
<rect x="773.1" y="960.39" width="2" height="2" fill="#d0c010"/>
<rect x="775.07" y="959.71" width="2" height="2" fill="#a8d20e"/>
<rect x="788.74" y="959.73" width="2" height="2" fill="#d0c010"/>
<rect x="790.65" y="959.53" width="2" height="2" fill="#d0c010"/>
<rect x="769.97" y="1060.93" width="2" height="2" fill="#a8d20e"/>
<rect x="772.88" y="1060.99" width="2" height="2" fill="#a8d20e"/>
<rect x="775.33" y="1059.58" width="2" height="2" fill="#46cc28"/>
<rect x="777.82" y="1059.77" width="2" height="2" fill="#46cc28"/>
<rect x="780.39" y="1059.58" width="2" height="2" fill="#46cc28"/>
<rect x="783.12" y="1060.94" width="2" height="2" fill="#46cc28"/>
<rect x="785.92" y="1061.08" width="2" height="2" fill="#46cc28"/>
<rect x="788.78" y="1060.14" width="2" height="2" fill="#a8d20e"/>
<rect x="771.52" y="1065.51" width="2" height="2" fill="#a8d20e"/>
<rect x="773.27" y="1065.33" width="2" height="2" fill="#46cc28"/>
<rect x="786.41" y="1113.31" width="2" height="2" fill="#46cc28"/>
<rect x="787.52" y="1114.12" width="2" height="2" fill="#46cc28"/>
<rect x="788.72" y="1113.16" width="2" height="2" fill="#a8d20e"/>
<rect x="768.91" y="1138.67" width="2" height="2" fill="#a8d20e"/>
<rect x="770.62" y="1138.22" width="2" height="2" fill="#a8d20e"/>
<rect x="786.59" y="1137.41" width="2" height="2" fill="#46cc28"/>
<rect x="787.27" y="1137.41" width="2" height="2" fill="#d0c010"/>
<rect x="788.79" y="1138.77" width="2" height="2" fill="#a8d20e"/>
<rect x="768.6" y="945.2" width="2" height="2" fill="#d0c010"/>
<rect x="772" y="974.6" width="2" height="2" fill="#46cc28"/>
<rect x="774" y="985" width="2" height="2" fill="#46cc28"/>
<rect x="768.6" y="1113.8" width="2" height="2" fill="#46cc28"/>
<rect x="781" y="1113.8" width="2" height="2" fill="#46cc28"/>
<rect x="781" y="1138.2" width="2" height="2" fill="#d0c010"/>
<rect x="738.5" y="945.2" width="2" height="2" fill="#d0b816"/>
<rect x="744.5" y="945.2" width="2" height="2" fill="#e0841a"/>
<rect x="766.1" y="945.2" width="2" height="2" fill="#d42a1e"/>
<rect x="805.8" y="957.6" width="2" height="2" fill="#d42a1e"/>
<rect x="890.8" y="957.6" width="2" height="2" fill="#d42a1e"/>
<rect x="1039.5" y="945.6" width="2" height="2" fill="#46cc28"/>
<rect x="1101.5" y="945.6" width="2" height="2" fill="#46cc28"/>
<rect x="1046.6" y="959" width="2" height="2" fill="#46cc28"/>
<rect x="1083" y="959" width="2" height="2" fill="#46cc28"/>
<rect x="1096.5" y="959" width="2" height="2" fill="#46cc28"/>
<rect x="1000.6" y="964" width="2" height="2" fill="#d0b816"/>
<rect x="1031.4" y="966" width="2" height="2" fill="#d0b816"/>
<rect x="984" y="974" width="2" height="2" fill="#e0841a"/>
<rect x="987.5" y="974" width="2" height="2" fill="#e0841a"/>
<rect x="959.8" y="988" width="2" height="2" fill="#d0b816"/>
<rect x="735" y="997.6" width="2" height="2" fill="#d42a1e"/>
<rect x="744.9" y="997.6" width="2" height="2" fill="#d42a1e"/>
<rect x="744.9" y="993" width="2" height="2" fill="#d42a1e"/>
<rect x="803.3" y="1013.6" width="2" height="2" fill="#a8d20e"/>
<rect x="844.7" y="1013.6" width="2" height="2" fill="#d42a1e"/>
<rect x="936.5" y="1013.6" width="2" height="2" fill="#d42a1e"/>
<rect x="997" y="1013.6" width="2" height="2" fill="#d42a1e"/>
<rect x="1009.4" y="1017" width="2" height="2" fill="#d42a1e"/>
<rect x="1021" y="1013.6" width="2" height="2" fill="#d42a1e"/>
<rect x="970.5" y="1024.2" width="2" height="2" fill="#d0b816"/>
<rect x="975.4" y="1024.2" width="2" height="2" fill="#d0b816"/>
<rect x="1065" y="1024.2" width="2" height="2" fill="#e0841a"/>
<rect x="977.5" y="1043.7" width="2" height="2" fill="#e0841a"/>
<rect x="726.8" y="1060.3" width="2" height="2" fill="#e0841a"/>
<rect x="1095.5" y="1060.3" width="2" height="2" fill="#e0841a"/>
<rect x="912.7" y="1066.7" width="2" height="2" fill="#e0841a"/>
<rect x="925.8" y="1066.7" width="2" height="2" fill="#e0841a"/>
<rect x="929.7" y="1066.7" width="2" height="2" fill="#e0841a"/>
<rect x="965.9" y="1066.7" width="2" height="2" fill="#d0b816"/>
<rect x="971.2" y="1066.7" width="2" height="2" fill="#e0841a"/>
<rect x="984" y="1066.7" width="2" height="2" fill="#d42a1e"/>
<rect x="987" y="1066.7" width="2" height="2" fill="#d42a1e"/>
<rect x="1022.9" y="1066.7" width="2" height="2" fill="#e0841a"/>
<rect x="1050" y="1066.7" width="2" height="2" fill="#e0841a"/>
<rect x="1127.4" y="1066.7" width="2" height="2" fill="#d42a1e"/>
<rect x="1138.7" y="1066.7" width="2" height="2" fill="#d42a1e"/>
<rect x="723.3" y="1072" width="2" height="2" fill="#a8d20e"/>
<rect x="766.1" y="1075.6" width="2" height="2" fill="#d42a1e"/>
<rect x="963.4" y="1085.5" width="2" height="2" fill="#d42a1e"/>
<rect x="847.9" y="1090.8" width="2" height="2" fill="#d0b816"/>
<rect x="815.3" y="1097.9" width="2" height="2" fill="#d42a1e"/>
<rect x="1065" y="1100.7" width="2" height="2" fill="#46cc28"/>
<rect x="1049" y="1123.4" width="2" height="2" fill="#46cc28"/>
<rect x="799.4" y="1142.9" width="2" height="2" fill="#d42a1e"/>
<rect x="897.1" y="1142.9" width="2" height="2" fill="#d0b816"/>
<rect x="906.7" y="1142.9" width="2" height="2" fill="#d42a1e"/>
<rect x="925.8" y="1142.9" width="2" height="2" fill="#d0b816"/>
<rect x="939.3" y="1142.9" width="2" height="2" fill="#d42a1e"/>
<rect x="971.2" y="1142.9" width="2" height="2" fill="#e0841a"/>
<rect x="1127.4" y="1142.9" width="2" height="2" fill="#d0b816"/>
<rect x="1138.7" y="1142.9" width="2" height="2" fill="#e0841a"/>
<rect x="746.3" y="1151" width="2" height="2" fill="#46cc28"/>
<rect x="759" y="1047" width="2" height="2" fill="#d0b816"/>
<rect x="752" y="1017" width="2" height="2" fill="#d0b816"/>
<rect x="1114" y="985" width="2" height="2" fill="#46cc28"/>
<rect x="1137" y="965" width="2" height="2" fill="#d0b816"/>
<polyline points="722.3,1159 729,1136 733,1122 736.5,1110 740,1100 741,1096 742.5,1090 741.3,1086 744,1080 748.5,1062 754,1042 760,1020 765,1003 769.8,989.8" fill="none" stroke="#d42a1e" stroke-width="1.9"/>
<polyline points="771.3,989.5 777,971.5" fill="none" stroke="#d42a1e" stroke-width="1.9"/>
<polyline points="782.5,970.5 786.4,961.5" fill="none" stroke="#d42a1e" stroke-width="1.9"/>
<rect x="721.7" y="740.7" width="419" height="419.3" fill="none" stroke="#000" stroke-width="1.8"/>
<text x="717.5" y="754.7" font-size="14" text-anchor="end" stroke="#000" stroke-width="0.35">17</text>
<text x="717.5" y="770.8" font-size="14" text-anchor="end" stroke="#000" stroke-width="0.35">16</text>
<text x="717.5" y="792" font-size="14" text-anchor="end" stroke="#000" stroke-width="0.35">15</text>
<text x="717.5" y="849.7" font-size="14" text-anchor="end" stroke="#000" stroke-width="0.35">14</text>
<text x="717.5" y="946.5" font-size="14" text-anchor="end" stroke="#000" stroke-width="0.35">13</text>
<text x="717.5" y="1078.5" font-size="14" text-anchor="end" stroke="#000" stroke-width="0.35">12</text>
<text x="745.1" y="1176" font-size="13.7" text-anchor="middle" stroke="#000" stroke-width="0.35">12</text>
<text x="781.6" y="1176" font-size="13.5" font-weight="bold" fill="#ae5416" text-anchor="middle" stroke="#ae5416" stroke-width="0.35">*13</text>
<text x="824" y="1176" font-size="13.5" font-weight="bold" fill="#ae5416" text-anchor="middle" stroke="#ae5416" stroke-width="0.35">*14</text>
<text x="880.6" y="1176" font-size="13.5" font-weight="bold" fill="#ae5416" text-anchor="middle" stroke="#ae5416" stroke-width="0.35">15</text>
<text x="924.3" y="1176" font-size="13.5" font-weight="bold" fill="#ae5416" text-anchor="middle" stroke="#ae5416" stroke-width="0.35">16</text>
<text x="966.6" y="1176" font-size="13.5" font-weight="bold" fill="#ae5416" text-anchor="middle" stroke="#ae5416" stroke-width="0.35">*17</text>
<text x="1006.7" y="1176" font-size="13.5" font-weight="bold" fill="#ae5416" text-anchor="middle" stroke="#ae5416" stroke-width="0.35">18</text>
<text x="1038.3" y="1176" font-size="13.5" font-weight="bold" fill="#ae5416" text-anchor="middle" stroke="#ae5416" stroke-width="0.35">19</text>
<text x="1065.9" y="1176" font-size="13.5" font-weight="bold" fill="#ae5416" text-anchor="middle" stroke="#ae5416" stroke-width="0.35">*20</text>
<text x="1092.8" y="1176" font-size="13.5" font-weight="bold" fill="#ae5416" text-anchor="middle" stroke="#ae5416" stroke-width="0.35">21</text>
<text x="1115.3" y="1176" font-size="13.5" font-weight="bold" fill="#ae5416" text-anchor="middle" stroke="#ae5416" stroke-width="0.35">22</text>
<text x="1133.3" y="1176" font-size="13.5" font-weight="bold" fill="#ae5416" text-anchor="middle" stroke="#ae5416" stroke-width="0.35">23</text>
<text x="934" y="1209.1" font-size="19.6" text-anchor="middle" stroke="#000" stroke-width="0.35"><tspan font-style="italic">F. vanettenii</tspan> Fs6</text>
<text transform="translate(688.5,963.5) rotate(-90)" font-size="19.6" text-anchor="middle" stroke="#000" stroke-width="0.35"><tspan font-style="italic">F. vanettenii</tspan> FVANE</text>
<defs><linearGradient id="cb" x1="0" y1="0" x2="0" y2="1"><stop offset="0" stop-color="#d01010"/><stop offset="0.05" stop-color="#dc5a10"/><stop offset="0.1" stop-color="#d2b014"/><stop offset="0.15" stop-color="#a0cc10"/><stop offset="0.2" stop-color="#10c810"/><stop offset="0.25" stop-color="#10c880"/><stop offset="0.3" stop-color="#10d0d0"/><stop offset="0.35" stop-color="#1090e0"/><stop offset="0.4" stop-color="#1010e0"/><stop offset="0.5" stop-color="#8010e0"/><stop offset="0.6" stop-color="#d010d0"/><stop offset="0.7" stop-color="#902090"/><stop offset="0.8" stop-color="#501850"/><stop offset="0.9" stop-color="#280c28"/><stop offset="1" stop-color="#000000"/></linearGradient></defs>
<rect x="1151.9" y="827.1" width="15.7" height="330.7" fill="url(#cb)" stroke="#000" stroke-width="0.6"/>
<text x="1168.6" y="831.7" font-size="8.6" stroke="#000" stroke-width="0.35">100</text>
<text x="1168.6" y="896.3" font-size="8.6" stroke="#000" stroke-width="0.35">80</text>
<text x="1168.6" y="962.5" font-size="8.6" stroke="#000" stroke-width="0.35">60</text>
<text x="1168.6" y="1028.6" font-size="8.6" stroke="#000" stroke-width="0.35">40</text>
<text x="1168.6" y="1094.7" font-size="8.6" stroke="#000" stroke-width="0.35">20</text>
<text x="1168.6" y="1160.9" font-size="8.6" stroke="#000" stroke-width="0.35">0</text>
<text transform="translate(1187.5,982.8) rotate(90)" font-size="15.8" text-anchor="middle" stroke="#000" stroke-width="0.35">Similarity</text>
</svg></body></html>
